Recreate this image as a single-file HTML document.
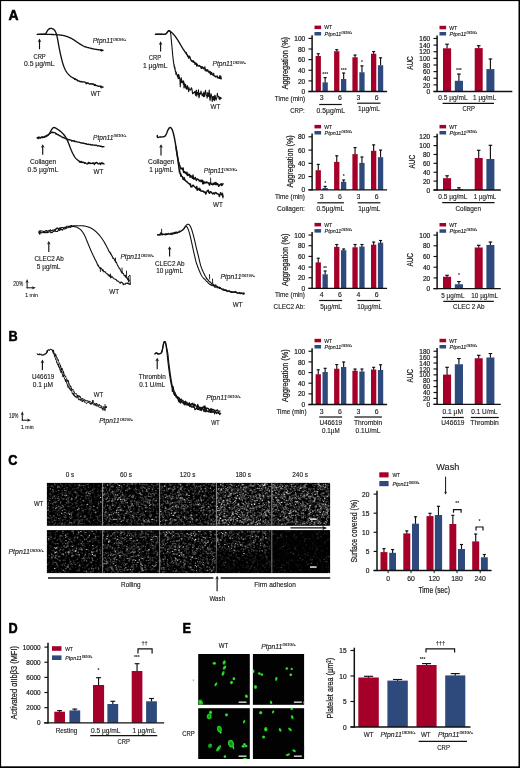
<!DOCTYPE html>
<html><head><meta charset="utf-8"><title>Figure</title>
<style>
html,body{margin:0;padding:0;background:#fff;}
body{width:520px;height:768px;overflow:hidden;font-family:"Liberation Sans",sans-serif;}
svg{display:block;font-family:"Liberation Sans",sans-serif;will-change:transform;}
</style></head><body>
<svg width="520" height="768" viewBox="0 0 520 768">
<rect x="0" y="0" width="520" height="768" fill="#fff"/>
<text transform="translate(8.5 20.4) scale(0.99 1)" font-size="14.1" font-weight="bold" fill="#000" stroke="#000" stroke-width="0.55" stroke-linejoin="round">A</text>
<text transform="translate(8.45 340.7) scale(0.9 1)" font-size="14.1" font-weight="bold" fill="#000" stroke="#000" stroke-width="0.55" stroke-linejoin="round">B</text>
<text transform="translate(8.3 464.6) scale(0.9 1)" font-size="14.1" font-weight="bold" fill="#000" stroke="#000" stroke-width="0.55" stroke-linejoin="round">C</text>
<text transform="translate(8.45 632.9) scale(0.9 1)" font-size="14.1" font-weight="bold" fill="#000" stroke="#000" stroke-width="0.55" stroke-linejoin="round">D</text>
<text transform="translate(182.45 632.9) scale(0.9 1)" font-size="14.1" font-weight="bold" fill="#000" stroke="#000" stroke-width="0.55" stroke-linejoin="round">E</text>
<path d="M37.3 34.3L37.92 34.3L38.54 34.3L39.16 34.31L39.77 34.31L40.39 34.31L41 34.3L41.63 34.3L42.29 34.31L42.94 34.31L43.57 34.3L44.13 34.27L44.6 34.2L45.44 33.84L46 33.2L46.33 32.7L46.64 32.1L46.96 31.47L47.3 30.9L47.77 30.22L48.26 29.6L48.8 29.1L49.43 28.74L50.11 28.51L50.8 28.4L51.47 28.41L52.15 28.54L52.8 28.8L53.43 29.17L54.04 29.67L54.6 30.3L54.91 30.74L55.2 31.22L55.47 31.75L55.74 32.34L56 33L56.18 33.5L56.35 34.01L56.52 34.55L56.69 35.13L56.86 35.75L57.03 36.44L57.2 37.2L57.31 37.73L57.43 38.31L57.55 38.91L57.67 39.55L57.78 40.2L57.9 40.87L58.02 41.55L58.14 42.23L58.26 42.9L58.38 43.56L58.5 44.2L58.62 44.83L58.73 45.45L58.85 46.07L58.96 46.69L59.08 47.31L59.2 47.93L59.31 48.54L59.43 49.16L59.55 49.77L59.67 50.39L59.8 51L59.93 51.61L60.06 52.23L60.19 52.85L60.32 53.46L60.46 54.07L60.59 54.69L60.73 55.3L60.87 55.9L61.01 56.51L61.16 57.11L61.3 57.7L61.46 58.35L61.62 59L61.79 59.65L61.95 60.3L62.12 60.94L62.29 61.58L62.46 62.2L62.64 62.82L62.82 63.42L63 64L63.21 64.64L63.43 65.27L63.66 65.9L63.88 66.51L64.12 67.1L64.34 67.67L64.57 68.21L64.79 68.72L65 69.2L65.36 69.95L65.7 70.6L66.03 71.16L66.36 71.69L66.7 72.2L67.14 72.81L67.58 73.37L68.03 73.89L68.5 74.4L68.97 74.9L69.45 75.39L69.95 75.85L70.5 76.3L70.97 76.64L71.46 76.95L71.97 77.26L72.52 77.57L73.1 77.9L73.62 78.19L74.17 78.53L74.74 79.24L75.33 78.78L75.92 79.76L76.5 79.61L77.08 79.89L77.66 80.94L78.24 80.61L78.83 80.8L79.42 81.33L80 81.69L80.58 81.49L81.17 81.89L81.76 81.51L82.34 81.88L82.92 82L83.5 81.83L84.19 81.94L84.88 82.06L85.57 82.71L86.24 82.88L86.9 82.99L87.53 83.28L88.13 82.95L88.72 83.54L89.34 83.82L90 84.16L90.59 83.75L91.2 84.05L91.83 83.63L92.48 84.31L93.14 83.87L93.8 84.3L94.39 85.34L95.01 84.34L95.63 85.56L96.26 85.56L96.88 85.5L97.46 85.92L98 86.08L98.68 86.43L99.29 86.13L99.86 86.13L100.42 86.25L101 86.25" fill="none" stroke="#111" stroke-width="1.35" stroke-linejoin="round" stroke-linecap="round"/>
<line x1="100" y1="87.1" x2="102.12" y2="87.1" stroke="#111" stroke-width="1.35"/>
<path d="M104.4 87.1 L100.6 85.5 L101.74 87.1 L100.6 88.7 Z" fill="#111"/>
<path d="M85.6 82.7L86.3 84.3L87 82.6" fill="none" stroke="#111" stroke-width="0.9" stroke-linejoin="round" stroke-linecap="round"/>
<path d="M37.3 34.3L37.94 34.3L38.59 34.3L39.24 34.3L39.89 34.29L40.54 34.29L41.19 34.29L41.84 34.29L42.49 34.29L43.12 34.29L43.76 34.29L44.38 34.29L45 34.3L45.67 34.31L46.33 34.32L46.99 34.34L47.64 34.35L48.29 34.37L48.93 34.39L49.56 34.41L50.18 34.43L50.8 34.45L51.4 34.48L52 34.5L52.64 34.52L53.26 34.54L53.87 34.56L54.46 34.58L55.05 34.61L55.63 34.63L56.22 34.66L56.8 34.7L57.4 34.75L58 34.8L58.62 34.86L59.25 34.93L59.89 35L60.53 35.08L61.17 35.16L61.81 35.25L62.44 35.35L63.05 35.46L63.64 35.57L64.2 35.7L64.87 35.87L65.51 36.06L66.13 36.27L66.73 36.48L67.31 36.71L67.88 36.94L68.44 37.17L69 37.4L69.62 37.66L70.21 37.92L70.79 38.18L71.36 38.46L71.93 38.75L72.5 39.06L73.1 39.4L73.63 39.73L74.17 40.08L74.71 40.45L75.26 40.84L75.81 41.23L76.36 41.63L76.93 42.02L77.5 42.4L78.02 42.74L78.56 43.09L79.11 43.45L79.67 43.81L80.22 44.16L80.77 44.5L81.3 44.83L81.81 45.13L82.3 45.4L82.96 45.75L83.55 46.04L84.11 46.29L84.67 46.53L85.29 46.76L86 47L86.54 47.18L87.14 47.36L87.77 47.54L88.43 47.72L89.09 47.89L89.75 48.06L90.38 48.22L90.97 48.37L91.5 48.5L92.34 48.69L93.07 48.85L93.73 48.97L94.36 49.09L95 49.2L95.63 49.31L96.24 49.42L96.82 49.52L97.41 49.61L98 49.7L98.6 49.79L99.2 49.87L99.8 49.94L100.4 50.02L101 50.1" fill="none" stroke="#111" stroke-width="1.35" stroke-linejoin="round" stroke-linecap="round"/>
<line x1="100" y1="50.3" x2="102.12" y2="50.3" stroke="#111" stroke-width="1.35"/>
<path d="M104.4 50.3 L100.6 48.7 L101.74 50.3 L100.6 51.9 Z" fill="#111"/>
<line x1="39.5" y1="49.2" x2="39.5" y2="40.76" stroke="#111" stroke-width="1.15"/>
<path d="M39.5 38.6 L37.6 42.2 L39.5 41.12 L41.4 42.2 Z" fill="#111"/>
<text transform="translate(39.6 58.9) scale(0.883 1)" font-size="6.6" fill="#1a1a1a" text-anchor="middle" stroke="#1a1a1a" stroke-width="0.13">CRP</text>
<text transform="translate(39.2 66.3) scale(1.038 1)" font-size="6.6" fill="#1a1a1a" text-anchor="middle" stroke="#1a1a1a" stroke-width="0.13">0.5 µg/mL</text>
<text transform="translate(92.7 43)" font-size="6.6" font-style="italic" fill="#1a1a1a" stroke="#1a1a1a" stroke-width="0.13">Ptpn11</text>
<text transform="translate(113.22 40.76) scale(1.089 1)" font-size="3.43" font-style="italic" fill="#1a1a1a" stroke="#1a1a1a" stroke-width="0.13">D61G/+</text>
<text transform="translate(95.6 95.6) scale(0.955 1)" font-size="6.6" fill="#1a1a1a" text-anchor="middle" stroke="#1a1a1a" stroke-width="0.13">WT</text>
<path d="M155.4 34.3L155.86 34.31L156.32 34.32L156.78 34.34L157.24 34.35L157.7 34.36L158.16 34.37L158.62 34.38L159.08 34.39L159.54 34.4L160 34.4L160.47 34.4L160.96 34.41L161.47 34.42L161.97 34.42L162.47 34.42L162.96 34.42L163.43 34.41L163.86 34.39L164.25 34.35L164.6 34.3L165.15 34.16L165.54 33.97L165.84 33.74L166.11 33.48L166.4 33.2L166.71 32.87L166.99 32.49L167.26 32.09L167.53 31.71L167.8 31.4L168.28 30.96L168.76 30.62L169.2 30.5L169.58 30.65L169.91 31.02L170.2 31.6L170.31 31.91L170.4 32.25L170.49 32.63L170.57 33.05L170.65 33.51L170.72 34.03L170.8 34.6L170.84 34.96L170.89 35.35L170.93 35.77L170.97 36.2L171.01 36.65L171.05 37.11L171.09 37.59L171.13 38.07L171.17 38.55L171.21 39.04L171.26 39.52L171.3 40L171.34 40.41L171.38 40.82L171.42 41.23L171.46 41.64L171.51 42.06L171.55 42.48L171.59 42.9L171.64 43.33L171.68 43.76L171.73 44.2L171.77 44.64L171.81 45.09L171.86 45.54L171.9 46L171.94 46.41L171.97 46.84L172.01 47.27L172.05 47.71L172.09 48.16L172.12 48.62L172.16 49.07L172.2 49.53L172.24 49.99L172.28 50.44L172.31 50.89L172.35 51.33L172.39 51.77L172.43 52.19L172.46 52.6L172.5 53L172.55 53.47L172.59 53.93L172.64 54.37L172.68 54.8L172.73 55.22L172.77 55.64L172.82 56.05L172.86 56.45L172.91 56.86L172.95 57.26L173 57.67L173.05 58.08L173.1 58.5L173.15 58.93L173.2 59.36L173.25 59.8L173.3 60.23L173.35 60.67L173.4 61.11L173.45 61.55L173.5 61.98L173.56 62.4L173.62 62.82L173.67 63.23L173.74 63.62L173.8 64L173.89 64.47L173.98 64.92L174.07 64.25L174.17 66.11L174.27 67.08L174.37 66.12L174.48 65.78L174.58 67.32L174.69 68.22L174.8 69.19L174.91 67.53L175.03 67.89L175.14 70.13L175.26 70.36L175.38 71.75L175.5 71.68L175.63 71.13L175.75 71.38L175.88 74.34L176 72.14L176.15 72.14L176.31 72.24L176.46 73.75L176.62 74.17L176.78 74.1L176.94 74.72L177.12 75.38L177.3 76.12L177.52 76.9L177.74 76.5L177.97 75.09L178.21 78.63L178.46 74.34L178.72 77.46L179 74.96L179.3 78.56L179.61 77.18L179.94 79.7L180.28 86.82L180.62 79.79L180.96 82.09L181.3 77.69L181.59 80.3L181.89 82.73L182.19 81.42L182.49 82.79L182.79 82.56L183.09 80.48L183.39 84.29L183.7 81.61L184.01 87.87L184.31 83L184.62 85.99L184.92 84.84L185.24 87.29L185.55 84.22L185.87 88.08L186.2 85.93L186.53 89.29L186.87 88.17L187.22 87.4L187.57 85.65L187.92 89.32L188.28 88.92L188.64 91.76L189 87.57L189.34 89.86L189.67 89.99L189.98 89.72L190.3 89.77L190.65 89.93L191.03 88.43L191.48 87.74L192 89.33L192.31 91.63L192.66 93.79L193.02 92.75L193.41 93.05L193.81 92.59L194.23 92.56L194.66 91.56L195.09 93L195.53 95.34L195.96 90.86L196.39 90.19L196.82 96.15L197.23 92.51L197.62 94.22L198 94.12L198.45 89.83L198.89 97.81L199.33 96.48L199.75 93.07L200.17 94.45L200.58 93.17L200.99 91.05L201.39 92.85L201.79 94.01L202.2 95.75L202.6 94.95L203 93.63L203.43 96.6L203.85 92.06L204.26 95.59L204.66 96.4L205.07 93.43L205.47 90.24L205.89 92.3L206.31 94.94L206.75 95.7L207.21 98.07L207.7 92.59L208.07 94.91L208.45 96.43L208.84 94.77L209.24 90.01L209.65 97.11L210.06 100.54L210.48 97.78L210.91 93.67L211.34 94.89L211.77 96.41L212.21 101.51L212.66 97.51L213.1 96.52L213.55 99.81L214 96.32L214.4 100.69L214.81 95.19L215.22 95.76L215.63 98.49L216.05 100.13L216.47 98.54L216.9 97.86L217.33 93.29L217.76 95.83L218.19 96.16L218.62 96.43L219.05 98.99L219.49 97.06L219.92 99.63L220.35 98.18L220.78 97.37L221.2 98.46" fill="none" stroke="#111" stroke-width="1.1" stroke-linejoin="round" stroke-linecap="round"/>
<path d="M155.4 34.3L155.91 34.29L156.42 34.27L156.93 34.26L157.44 34.24L157.96 34.23L158.47 34.22L158.98 34.21L159.49 34.2L160 34.2L160.53 34.21L161.08 34.23L161.64 34.26L162.2 34.29L162.75 34.31L163.27 34.33L163.77 34.34L164.21 34.33L164.6 34.3L165.26 34.16L165.7 33.96L166.04 33.7L166.4 33.4L166.78 33.01L167.12 32.55L167.46 32.09L167.8 31.7L168.26 31.27L168.72 30.93L169.2 30.8L169.69 30.95L170.21 31.31L170.8 31.8L171.14 32.08L171.51 32.4L171.91 32.74L172.31 33.11L172.71 33.5L173.1 33.9L173.43 34.25L173.76 34.61L174.09 34.98L174.41 35.36L174.74 35.76L175.07 36.17L175.4 36.6L175.69 36.99L175.98 37.39L176.26 37.81L176.55 38.23L176.84 38.66L177.12 39.11L177.41 39.55L177.7 40L177.99 40.46L178.28 40.92L178.56 41.39L178.85 41.87L179.14 42.35L179.42 42.83L179.71 43.32L180 43.8L180.26 44.23L180.51 44.67L180.77 45.1L181.02 45.54L181.28 45.98L181.53 46.42L181.79 46.85L182.04 47.28L182.3 47.7L182.59 48.17L182.88 48.63L183.16 49.09L183.45 49.54L183.74 49.99L184.02 50.43L184.31 50.87L184.6 51.3L184.88 51.73L185.16 52.14L185.43 52.56L185.7 52.96L185.98 53.37L186.27 52.55L186.57 54.38L186.9 54.36L187.21 54.57L187.54 56.18L187.87 55.8L188.22 55.89L188.58 58.04L188.94 56.47L189.3 56.2L189.65 56.47L190 57.55L190.38 58.95L190.73 59.48L191.08 60.08L191.44 61.04L191.81 61.28L192.2 60.76L192.63 61.74L193.1 61.59L193.45 60.85L193.82 62.36L194.21 62.05L194.62 62.17L195.04 64.42L195.48 63.73L195.91 63.01L196.34 63.71L196.78 66.13L197.2 64.24L197.61 65.39L198 65.58L198.45 65.8L198.88 66.15L199.3 65.49L199.71 65.75L200.12 66.25L200.53 66.31L200.95 67.55L201.38 68.43L201.83 66.6L202.3 68.12L202.71 67.06L203.13 67.57L203.55 68.22L203.99 68.8L204.43 68.6L204.88 67.02L205.33 70.75L205.79 69.61L206.26 69.6L206.74 71.03L207.21 70.23L207.7 69.82L208.12 71.73L208.54 71.94L208.97 71.14L209.41 72.85L209.85 72.73L210.29 71.72L210.74 74.49L211.19 73.49L211.65 72.57L212.11 74.22L212.57 74.22L213.04 75.23L213.52 73.51L214 75.84L214.43 76L214.86 76.02L215.29 76.18L215.74 77.02L216.18 76.74L216.63 76.46L217.09 75.86L217.54 77.77L218 77.88L218.46 77.52L218.92 77.63L219.38 78.35L219.84 75.79L220.29 78.46L220.75 76.26L221.2 78.85" fill="none" stroke="#111" stroke-width="1.35" stroke-linejoin="round" stroke-linecap="round"/>
<line x1="160.6" y1="51.5" x2="160.6" y2="43.46" stroke="#111" stroke-width="1.15"/>
<path d="M160.6 41.3 L158.7 44.9 L160.6 43.82 L162.5 44.9 Z" fill="#111"/>
<text transform="translate(155 60.3) scale(0.897 1)" font-size="6.6" fill="#1a1a1a" text-anchor="middle" stroke="#1a1a1a" stroke-width="0.13">CRP</text>
<text transform="translate(155.2 67.8) scale(1.026 1)" font-size="6.6" fill="#1a1a1a" text-anchor="middle" stroke="#1a1a1a" stroke-width="0.13">1 µg/mL</text>
<text transform="translate(212.5 66.4)" font-size="6.6" font-style="italic" fill="#1a1a1a" stroke="#1a1a1a" stroke-width="0.13">Ptpn11</text>
<text transform="translate(233.02 64.16) scale(1.089 1)" font-size="3.43" font-style="italic" fill="#1a1a1a" stroke="#1a1a1a" stroke-width="0.13">D61G/+</text>
<text transform="translate(215.5 109.2) scale(0.955 1)" font-size="6.6" fill="#1a1a1a" text-anchor="middle" stroke="#1a1a1a" stroke-width="0.13">WT</text>
<path d="M37.3 137.97L37.97 138.08L38.63 137.28L39.3 137.17L40 137.53L40.58 137.97L41.18 137.48L41.79 136.91L42.4 137.01L43 137.19L43.61 137.47L44.22 137.07L44.84 136.85L45.43 136.75L46 136.67L46.54 136.05L47.06 135.91L47.56 135.48L48.04 135L48.5 134.5L48.86 134.05L49.21 133.56L49.54 133.05L49.87 132.53L50.18 132L50.5 131.5L50.87 130.88L51.23 130.25L51.58 129.63L51.94 129.06L52.3 128.6L52.89 128.01L53.5 127.61L54.2 127.5L54.69 127.6L55.23 127.83L55.79 128.15L56.39 128.52L57 128.9L57.54 129.24L58.1 129.6L58.68 130L59.27 130.42L59.84 130.85L60.4 131.3L60.86 131.69L61.32 132.09L61.77 132.51L62.22 132.93L62.65 133.37L63.08 133.83L63.5 134.3L63.91 134.78L64.31 135.27L64.71 135.77L65.09 136.29L65.47 136.83L65.84 137.4L66.2 138L66.47 138.49L66.73 138.99L66.99 139.51L67.24 140.05L67.49 140.6L67.73 141.17L67.98 141.76L68.24 142.37L68.5 143L68.72 143.55L68.95 144.13L69.17 144.73L69.4 145.35L69.63 145.99L69.87 146.62L70.1 147.26L70.33 147.88L70.55 148.48L70.78 149.06L71 149.6L71.26 150.23L71.52 150.82L71.77 151.4L72.02 151.95L72.28 152.49L72.53 153.01L72.78 153.52L73.04 154.01L73.3 154.5L73.64 155.11L73.99 155.71L74.35 156.28L74.7 156.83L75.07 157.36L75.43 157.85L75.8 158.3L76.32 158.87L76.85 159.37L77.39 159.82L77.94 160.22L78.5 160.62L79.06 161.11L79.61 162.15L80.18 161.51L80.8 162.3L81.5 161.46L82.05 162.64L82.63 162.42L83.24 162.18L83.89 162.59L84.56 163.2L85.27 162.65L86 163.47L86.54 163.79L87.1 163.89L87.69 163.93L88.29 162.4L88.91 163.3L89.53 162.77L90.15 163.66L90.78 163.21L91.39 163.32L92 163.47L92.6 162.92L93.2 163.32L93.8 162.9L94.4 164.43L95 163.09L95.6 163.36L96.2 162.42L96.8 162.59L97.4 162.95L98 163.85L98.6 163.85L99.2 163.6L99.8 163.11L100.4 164.47L101 162.92L101.6 163.02L102.2 163.76L102.8 162.96L103.4 163.65L104 164.04" fill="none" stroke="#111" stroke-width="1.35" stroke-linejoin="round" stroke-linecap="round"/>
<path d="M37.3 137.56L37.91 137.4L38.52 138.58L39.13 137.72L39.74 137.67L40.37 137.76L41 137.44L41.66 137.31L42.35 137.6L43.04 137.17L43.73 137.42L44.39 136.92L45 136.24L45.68 136.12L46.32 135.96L46.92 135.27L47.48 135.54L48 135.14L48.58 134.92L49.08 134.03L49.54 133.67L50 133.42L50.57 133.01L51.1 132.29L51.7 132.62L52.36 132.11L53.09 132.58L54 132.54L54.46 132.7L54.95 132.75L55.48 133.24L56.04 134.06L56.65 133.74L57.3 134.55L58 134.88L58.48 134.78L59 135.39L59.54 135.76L60.11 135.73L60.69 136.02L61.28 136.71L61.88 136.88L62.48 137.58L63.07 137.54L63.64 137.5L64.2 137.99L64.79 138.01L65.36 138.65L65.91 138.85L66.46 138.81L67.01 138.9L67.56 139.46L68.13 139.37L68.72 139.88L69.34 139.6L70 139.94L70.53 140.04L71.09 140.1L71.68 141.04L72.28 140.99L72.89 140.66L73.51 141.12L74.13 140.73L74.75 141.53L75.37 141.65L75.98 141.5L76.57 141.65L77.15 141.92L77.7 142.1L78.38 142.1L79.04 142.16L79.66 142.44L80.28 142.56L80.88 142.96L81.48 142.96L82.09 143.13L82.7 142.87L83.34 143.28L84 143.42L84.57 143.51L85.15 143.71L85.75 143.78L86.35 143.64L86.96 144.27L87.57 144.38L88.18 144.18L88.8 144.53L89.41 144.31L90.01 144.34L90.61 144.66L91.2 145.13L91.84 144.88L92.47 144.68L93.11 145.15L93.74 145.07L94.36 145.13L94.99 145.45L95.6 145.09L96.21 145.17L96.82 145.33L97.41 145.95L98 145.83L98.63 145.77L99.25 145.85L99.86 146.22L100.46 146.44L101.05 146.11L101.64 146.41L102.23 146.94L102.81 146.66L103.4 146.55L104 146.78" fill="none" stroke="#111" stroke-width="1.35" stroke-linejoin="round" stroke-linecap="round"/>
<line x1="42.7" y1="154.8" x2="42.7" y2="146.36" stroke="#111" stroke-width="1.15"/>
<path d="M42.7 144.2 L40.8 147.8 L42.7 146.72 L44.6 147.8 Z" fill="#111"/>
<text transform="translate(43 164) scale(1.006 1)" font-size="6.6" fill="#1a1a1a" text-anchor="middle" stroke="#1a1a1a" stroke-width="0.13">Collagen</text>
<text transform="translate(42.9 172.1) scale(1.038 1)" font-size="6.6" fill="#1a1a1a" text-anchor="middle" stroke="#1a1a1a" stroke-width="0.13">0.5 µg/mL</text>
<text transform="translate(93 139.7)" font-size="6.6" font-style="italic" fill="#1a1a1a" stroke="#1a1a1a" stroke-width="0.13">Ptpn11</text>
<text transform="translate(113.52 137.46) scale(1.089 1)" font-size="3.43" font-style="italic" fill="#1a1a1a" stroke="#1a1a1a" stroke-width="0.13">D61G/+</text>
<text transform="translate(98.5 174.2) scale(0.955 1)" font-size="6.6" fill="#1a1a1a" text-anchor="middle" stroke="#1a1a1a" stroke-width="0.13">WT</text>
<path d="M157.3 135.5L157.32 136.22L157.34 136.94L157.6 137.4L158.01 137.46L158.54 137.35L159.21 137.16L160 137L160.55 136.95L161.18 136.92L161.88 136.9L162.58 136.86L163.27 136.79L163.89 136.68L164.4 136.5L164.94 136.15L165.35 135.72L165.67 135.2L165.97 134.63L166.3 134L166.55 133.49L166.8 132.92L167.04 132.31L167.27 131.69L167.51 131.08L167.75 130.51L168 130L168.35 129.35L168.71 128.72L169.08 128.17L169.44 127.75L169.8 127.5L170.41 127.51L171.03 127.93L171.6 128.6L171.86 129.03L172.11 129.54L172.35 130.12L172.58 130.74L172.79 131.37L173 132L173.19 132.62L173.36 133.25L173.53 133.9L173.68 134.57L173.84 135.27L174 136L174.12 136.57L174.25 137.16L174.38 137.76L174.5 138.38L174.62 139.01L174.75 139.66L174.88 140.32L175 141L175.1 141.56L175.2 142.13L175.3 142.71L175.4 143.3L175.5 143.91L175.6 144.52L175.7 145.13L175.8 145.75L175.9 146.38L176 147L176.1 147.63L176.2 148.28L176.3 148.94L176.4 149.61L176.5 150.28L176.6 150.95L176.7 151.61L176.8 152.26L176.9 152.89L177 153.5L177.11 154.16L177.23 154.82L177.34 155.46L177.46 156.1L177.57 156.71L177.68 157.31L177.79 157.9L177.9 158.46L178 159L178.13 159.74L178.23 160.41L178.32 161.04L178.44 161.66L178.59 162.72L178.8 163.03L179 162.56L179.22 164.97L179.46 165.04L179.72 165.72L180.01 166.19L180.32 168.06L180.65 168.07L181 168.92L181.38 168.1L181.78 168.48L182.21 168.49L182.66 169.69L183.13 167.97L183.61 172.36L184.1 171.49L184.6 171.9L185.05 172.99L185.51 172.25L185.98 173.18L186.46 174.02L186.95 172.24L187.44 175.57L187.95 174.47L188.47 175.24L189 174.08L189.54 174.79L190.09 177.22L190.65 175.53L191.22 175.97L191.8 177.09L192.39 178.28L192.99 175.09L193.59 178.95L194.2 178.16L194.75 179.01L195.29 177.55L195.84 179.03L196.39 180.5L196.94 179.21L197.51 179L198.1 179.44L198.71 179.62L199.34 181.09L200 180.8L200.53 180.37L201.08 181.74L201.66 180.23L202.24 180.12L202.84 183.87L203.45 181.25L204.06 183.5L204.68 182.13L205.3 182.19L205.91 183.04L206.52 181.95L207.12 182.11L207.7 182.83L208.32 182.8L208.93 183.93L209.54 185.16L210.14 182.41L210.73 182.77L211.33 184.33L211.93 184.18L212.53 184.8L213.14 183.17L213.75 184.45L214.37 183.91L215 182.53L215.59 184.48L216.19 182.69L216.8 184.64L217.41 183.77L218.03 184.04L218.65 186.2L219.27 185.66L219.89 184.68L220.52 184.68L221.14 183.63L221.76 185.5L222.38 184.96L223 183.63" fill="none" stroke="#111" stroke-width="1.45" stroke-linejoin="round" stroke-linecap="round"/>
<path d="M176 147L176.09 147.64L176.18 148.28L176.27 148.92L176.36 149.57L176.45 150.21L176.55 150.85L176.64 151.49L176.73 152.13L176.82 152.76L176.91 153.38L177 154L177.1 154.66L177.2 155.29L177.29 155.91L177.39 156.52L177.49 157.12L177.59 157.74L177.69 158.38L177.79 159.05L177.89 159.75L178 160.5L178.07 161.03L178.15 161.6L178.22 162.2L178.29 162.81L178.36 163.44L178.44 164.09L178.51 164.74L178.59 165.39L178.67 166.03L178.75 166.67L178.83 167.29L178.92 167.88L179.01 168.98L179.1 169.27L179.2 168.9L179.37 172L179.54 169.64L179.72 171.69L179.9 173.11L180.1 173.47L180.3 174.01L180.52 173.11L180.75 176.14L181 174.4L181.34 175.59L181.72 176.2L182.11 176.71L182.52 176.74L182.94 179.03L183.37 178.2L183.8 179.49L184.24 177.73L184.69 180.11L185.15 179.87L185.62 180.87L186.09 181.15L186.55 181.79L187 181.74L187.47 182.35L187.9 182.81L188.31 183.29L188.77 183.54L189.32 183.6L190 184.8L190.4 183.96L190.85 186.79L191.33 186.06L191.83 186.96L192.36 185.86L192.91 185.18L193.46 185.32L194.02 186.28L194.58 186.75L195.14 187.28L195.68 187.6L196.2 188.76L196.76 186.47L197.33 190.29L197.91 188.84L198.48 189.58L199.06 188.19L199.63 190.24L200.19 189.04L200.74 190.99L201.28 191.04L201.8 191.17L202.3 191.06L202.96 191.2L203.58 191.33L204.17 192.53L204.75 191.92L205.31 192.15L205.87 194.11L206.43 192.19L207 191.41L207.64 190.37L208.27 190.3L208.89 192.61L209.51 193.35L210.15 191.78L210.81 191.78L211.5 192.74L212.06 193.13L212.65 193.94L213.24 193.15L213.85 192.81L214.47 194.09L215.09 192.8L215.72 192.5L216.36 192.92L217 193.72L217.58 193.74L218.17 194.21L218.76 194.35L219.36 196.47L219.97 194.86L220.58 192.74L221.18 193.47L221.79 194.94L222.4 194.17L223 196.88" fill="none" stroke="#111" stroke-width="1.45" stroke-linejoin="round" stroke-linecap="round"/>
<path d="M210.6 178L210.7 183M222.6 193L222.9 198" fill="none" stroke="#111" stroke-width="0.9" stroke-linejoin="round" stroke-linecap="round"/>
<line x1="161" y1="155.4" x2="161" y2="146.36" stroke="#111" stroke-width="1.15"/>
<path d="M161 144.2 L159.1 147.8 L161 146.72 L162.9 147.8 Z" fill="#111"/>
<text transform="translate(161.2 164) scale(1.006 1)" font-size="6.6" fill="#1a1a1a" text-anchor="middle" stroke="#1a1a1a" stroke-width="0.13">Collagen</text>
<text transform="translate(161.2 172.3)" font-size="6.6" fill="#1a1a1a" text-anchor="middle" stroke="#1a1a1a" stroke-width="0.13">1 µg/mL</text>
<text transform="translate(203.8 173)" font-size="6.6" font-style="italic" fill="#1a1a1a" stroke="#1a1a1a" stroke-width="0.13">Ptpn11</text>
<text transform="translate(224.32 170.76) scale(1.089 1)" font-size="3.43" font-style="italic" fill="#1a1a1a" stroke="#1a1a1a" stroke-width="0.13">D61G/+</text>
<text transform="translate(218 206.9) scale(0.955 1)" font-size="6.6" fill="#1a1a1a" text-anchor="middle" stroke="#1a1a1a" stroke-width="0.13">WT</text>
<path d="M39.2 231.23L39.03 232.73L39.4 233.76L39.82 234.2L40.38 232.54L41.04 232.78L41.77 232.56L42.53 232.75L43.28 232.72L44 232.05L44.6 232.78L45.21 231.86L45.82 232.82L46.44 232.02L47.06 232.58L47.7 232.59L48.34 232.23L49 231.9L49.6 231.73L50.21 231.46L50.83 232.76L51.46 232.17L52.09 232.73L52.73 231.85L53.36 231.72L53.98 231.13L54.6 231.18L55.21 230.37L55.82 231.57L56.43 231.43L57.04 231.55L57.64 231.4L58.24 229.95L58.83 229.02L59.42 230.57L60 230.14L60.64 229.32L61.26 229.15L61.87 229.85L62.48 230.17L63.08 229.25L63.7 228.46L64.34 229.05L65 228.99L65.56 227.62L66.14 228.46L66.75 227.38L67.36 227.71L67.98 227.78L68.59 227.38L69.19 226.4L69.76 227.24L70.3 226.17L70.8 227.17L71.54 225.67L72.21 226.58L72.81 226.53L73.38 226.52L73.94 226.54L74.5 226.6L75.17 226.71L75.8 226.87L76.42 227.08L77.04 227.36L77.7 227.7L78.2 227.98L78.71 228.29L79.23 228.62L79.76 229L80.28 229.41L80.8 229.88L81.3 230.4L81.68 230.84L82.05 231.3L82.42 231.78L82.78 232.29L83.14 232.84L83.5 233.42L83.87 234.04L84.23 234.7L84.6 235.4L84.84 235.88L85.08 236.39L85.32 236.93L85.56 237.48L85.8 238.05L86.04 238.64L86.29 239.24L86.53 239.84L86.77 240.46L87.02 241.07L87.26 241.69L87.51 242.3L87.75 242.9L88 243.5L88.23 244.05L88.46 244.61L88.69 245.18L88.93 245.75L89.16 246.32L89.39 246.89L89.63 247.46L89.86 248.04L90.1 248.6L90.33 249.17L90.56 249.73L90.8 250.29L91.03 250.83L91.27 251.37L91.5 251.9L91.77 252.5L92.04 253.09L92.31 253.67L92.58 254.25L92.85 254.82L93.12 255.38L93.38 255.94L93.65 256.49L93.92 257.04L94.19 257.59L94.46 258.13L94.73 258.66L95 259.2L95.29 259.78L95.57 260.36L95.85 260.94L96.13 261.29L96.41 261.87L96.69 262.33L96.97 263.32L97.26 263.89L97.55 265.16L97.86 265.03L98.17 265.84L98.5 265.27L98.91 266.87L99.33 267.31L99.77 268.07L100.22 268.59L100.67 267.97L101.14 268.23L101.6 268.94L102.07 269.45L102.54 270.84L103 269.66L103.51 271.08L104.02 271.96L104.53 271.82L105.04 271.61L105.56 272.25L106.08 273.31L106.61 273.78L107.15 273.73L107.7 274.36L108.2 275.23L108.72 274.76L109.24 276.23L109.77 275.18L110.3 276.92L110.84 275.69L111.38 277.38L111.92 277.1L112.46 276.72L113 277.86L113.55 278.42L114.12 278.8L114.7 278.94L115.28 279.17L115.86 279.47L116.43 280.01L116.99 280.88L117.52 280.85L118.03 281.26L118.5 281.29L119.21 282.27L119.85 283.09L120.43 283.29L120.97 281.93L121.49 282.34L122 282.5L122.71 283.21L123.34 284.67L123.95 283.85L124.6 284.25L125.31 284.09L126.04 283.13L126.78 283.3L127.5 283.45L128.21 283.47L128.91 283.87L129.6 284L130.3 284.29" fill="none" stroke="#111" stroke-width="1.1" stroke-linejoin="round" stroke-linecap="round"/>
<path d="M39.4 233.13L39.15 232.46L38.9 231.83L39.2 231.75L39.56 231.23L40.04 230.47L40.62 231.35L41.28 231.03L41.97 231.05L42.67 231.2L43.36 231.25L44 231.68L44.61 231.39L45.22 231.08L45.83 230.61L46.45 230.44L47.07 231.02L47.7 231.5L48.34 230.8L49 230.65L49.6 230.88L50.21 229.8L50.83 230.27L51.46 230.56L52.09 230.64L52.73 229.96L53.36 230.15L53.98 229.96L54.6 230.09L55.21 229L55.82 229.7L56.43 228.5L57.04 227.79L57.64 228.63L58.24 228.32L58.83 229.05L59.42 228.79L60 227.69L60.64 228.55L61.26 227.46L61.87 227.74L62.48 227.47L63.08 227.51L63.7 227.7L64.34 227.46L65 227.17L65.61 227.2L66.25 227L66.9 226.33L67.56 226.18L68.22 226.2L68.88 226.59L69.54 226.13L70.18 227.34L70.8 225.69L71.47 225.48L72.12 225.98L72.75 225.93L73.37 225.89L74 225.86L74.64 225.84L75.3 225.82L76 225.8L76.59 225.78L77.22 225.77L77.86 225.75L78.52 225.74L79.18 225.73L79.84 225.73L80.49 225.73L81.12 225.74L81.73 225.77L82.3 225.8L83.06 225.86L83.77 225.94L84.44 226.03L85.08 226.15L85.72 226.28L86.35 226.43L87 226.6L87.57 226.77L88.14 226.94L88.7 227.14L89.26 227.34L89.82 227.57L90.38 227.82L90.94 228.1L91.5 228.4L92 228.69L92.49 228.99L92.99 229.31L93.48 229.65L93.98 230.01L94.48 230.4L94.98 230.8L95.49 231.24L96 231.7L96.43 232.11L96.87 232.54L97.32 232.99L97.77 233.47L98.22 233.96L98.68 234.46L99.12 234.97L99.56 235.48L99.99 235.99L100.4 236.5L100.8 237L101.18 237.5L101.55 238L101.9 238.5L102.25 239L102.58 239.51L102.91 240.02L103.24 240.53L103.56 241.04L103.87 241.56L104.19 242.08L104.5 242.6L104.81 243.13L105.11 243.66L105.41 244.19L105.7 244.73L105.98 245.27L106.27 245.81L106.55 246.35L106.83 246.89L107.12 247.43L107.41 247.97L107.7 248.5L108 249.03L108.29 249.91L108.58 250.73L108.88 250.85L109.18 251.52L109.47 252.32L109.77 252.16L110.08 252.09L110.38 253.01L110.69 254.21L111 253.65L111.32 254.84L111.64 255.46L111.97 255.72L112.3 256.7L112.63 257.15L112.96 258.45L113.29 258.2L113.62 258.17L113.95 258.71L114.28 259.1L114.6 260.43L114.92 260.27L115.23 261.02L115.54 261.91L115.85 261.78L116.15 262.5L116.46 262.34L116.76 263.21L117.07 263.97L117.38 264.94L117.69 265.81L118 265.79L118.32 266.45L118.64 266.94L118.96 267.9L119.29 268.36L119.61 268.63L119.94 268.59L120.26 269.98L120.58 270.26L120.89 271.13L121.2 271.04L121.5 272.38L121.9 271.91L122.29 273.31L122.67 273.14L123.04 273.32L123.41 273.49L123.78 274.37L124.14 275.51L124.5 275.67L124.92 276.11L125.35 275.22L125.77 277.1L126.19 277.49L126.59 277.44L126.96 277.83L127.3 278.5L127.8 279.86L128.22 279.1L128.6 279.84L129 281.11" fill="none" stroke="#111" stroke-width="1.1" stroke-linejoin="round" stroke-linecap="round"/>
<path d="M115.5 258L115.6 262M122 268L122.2 273M126.5 271L126.6 278M129 280.5L128 277L130 275L130.3 284.2L127.5 283.5L129 280.5" fill="none" stroke="#111" stroke-width="0.9" stroke-linejoin="round" stroke-linecap="round"/>
<path d="M100.3 267.5L100.4 271.5M110.5 274L110.6 278" fill="none" stroke="#111" stroke-width="0.9" stroke-linejoin="round" stroke-linecap="round"/>
<line x1="48.8" y1="252" x2="48.8" y2="243.16" stroke="#111" stroke-width="1.15"/>
<path d="M48.8 241 L46.9 244.6 L48.8 243.52 L50.7 244.6 Z" fill="#111"/>
<text transform="translate(49.1 260.5) scale(0.951 1)" font-size="6.6" fill="#1a1a1a" text-anchor="middle" stroke="#1a1a1a" stroke-width="0.13">CLEC2 Ab</text>
<text transform="translate(48.6 268.5) scale(0.984 1)" font-size="6.6" fill="#1a1a1a" text-anchor="middle" stroke="#1a1a1a" stroke-width="0.13">5 µg/mL</text>
<text transform="translate(120.4 259.2)" font-size="6.6" font-style="italic" fill="#1a1a1a" stroke="#1a1a1a" stroke-width="0.13">Ptpn11</text>
<text transform="translate(140.92 256.96) scale(1.089 1)" font-size="3.43" font-style="italic" fill="#1a1a1a" stroke="#1a1a1a" stroke-width="0.13">D61G/+</text>
<text transform="translate(114.2 293.5) scale(0.955 1)" font-size="6.6" fill="#1a1a1a" text-anchor="middle" stroke="#1a1a1a" stroke-width="0.13">WT</text>
<text transform="translate(13.2 285.9) scale(0.721 1)" font-size="7" fill="#1a1a1a" stroke="#1a1a1a" stroke-width="0.13">20%</text>
<line x1="27.1" y1="288.3" x2="27.1" y2="281.4" stroke="#111" stroke-width="1"/>
<path d="M27.1 279 L25.5 283 L27.1 281.8 L28.7 283 Z" fill="#111"/>
<line x1="26.6" y1="287.8" x2="33.4" y2="287.8" stroke="#111" stroke-width="1"/>
<path d="M35.8 287.8 L31.8 286.2 L33 287.8 L31.8 289.4 Z" fill="#111"/>
<text transform="translate(25.2 297.1) scale(0.872 1)" font-size="6" fill="#1a1a1a" stroke="#1a1a1a" stroke-width="0.13">1 min</text>
<path d="M157.6 234.62L158.23 234.94L158.89 234.75L159.5 234.84L160 234.06L160.44 233.95L160.72 233.15L161 232.32L161.22 233.56L161.44 233.59L162 233.76L162.48 234.23L163.07 234.1L163.75 234.21L164.48 234.75L165.24 234.26L166 234.98L166.57 234.07L167.14 234.41L167.73 234.1L168.33 233.25L168.96 234L169.61 234.05L170.29 234.21L171 233.13L171.56 234.03L172.16 234.01L172.8 233L173.45 233.42L174.12 233.7L174.79 232.23L175.44 233.1L176.07 231.82L176.67 232.71L177.21 233.17L177.7 232.24L178.59 232.38L179.3 231.12L179.9 231.31L180.45 231.23L181 230.9L181.55 230.54L182.07 230.15L182.55 229.74L183.03 229.29L183.5 228.8L183.9 228.34L184.29 227.81L184.67 227.27L185.05 226.73L185.42 226.23L185.8 225.8L186.36 225.22L186.91 224.7L187.45 224.33L188 224.2L188.55 224.33L189.11 224.68L189.66 225.23L190.2 226L190.43 226.42L190.66 226.89L190.88 227.4L191.1 227.96L191.32 228.56L191.54 229.19L191.76 229.84L191.98 230.51L192.2 231.2L192.37 231.73L192.53 232.28L192.7 232.84L192.87 233.42L193.03 234.02L193.2 234.62L193.37 235.25L193.53 235.88L193.7 236.52L193.87 237.17L194.03 237.83L194.2 238.5L194.33 239.04L194.46 239.59L194.6 240.16L194.73 240.73L194.86 241.3L194.99 241.89L195.12 242.48L195.25 243.07L195.38 243.67L195.51 244.27L195.65 244.88L195.78 245.48L195.92 246.09L196.06 246.7L196.2 247.3L196.34 247.91L196.49 248.52L196.64 249.13L196.79 249.75L196.94 250.37L197.1 250.99L197.25 251.61L197.41 252.24L197.57 252.86L197.72 253.49L197.88 254.11L198.04 254.74L198.19 255.36L198.35 255.98L198.5 256.6L198.65 257.22L198.8 257.84L198.95 258.47L199.09 259.1L199.23 259.73L199.38 260.35L199.52 260.98L199.67 261.61L199.82 262.23L199.97 262.84L200.12 263.45L200.28 264.05L200.45 264.64L200.62 265.23L200.8 265.8L201 266.4L201.21 267L201.42 267.6L201.63 268.18L201.86 268.76L202.08 269.34L202.31 269.9L202.55 270.46L202.78 271L203.02 271.54L203.26 272.07L203.51 272.59L203.75 273.1L204 273.6L204.31 274.22L204.62 274.82L204.93 275.4L205.24 275.97L205.56 276.52L205.88 277.06L206.22 277.47L206.56 278.5L206.92 278.58L207.3 279.48L207.7 279.64L208.12 279.88L208.55 280.67L209.01 281.18L209.47 281.42L209.95 282.26L210.44 282.07L210.94 282.88L211.45 283.44L211.96 283.38L212.48 283.98L213 284.34L213.53 284.16L214.08 285.67L214.64 285.28L215.21 285.95L215.78 284.84L216.36 286.77L216.94 286.4L217.51 286.48L218.08 287.07L218.65 287.75L219.2 286.97L219.8 288.3L220.39 287.64L220.97 288.82L221.55 288.75L222.12 289.3L222.7 289.36L223.27 288.92L223.85 289.29L224.42 289.86L225 289.71L225.58 290.03L226.15 289.82L226.73 290.69L227.3 291.58L227.88 291.18L228.45 291.11L229.03 290.68L229.61 291.2L230.2 291.89L230.8 291.55L231.4 291.96L232 291.69L232.6 291.82L233.2 292.16L233.81 292.03L234.43 292.1L235.05 292.53L235.69 292.43L236.34 291.84L237 293L237.56 293.39L238.14 292.98L238.73 292.76L239.33 292.56L239.93 292.74L240.54 293.04L241.15 293.51L241.76 293.21L242.38 293.19L242.99 292.89L243.6 293.39L244.2 293.1" fill="none" stroke="#111" stroke-width="1.1" stroke-linejoin="round" stroke-linecap="round"/>
<path d="M157.6 235.03L158.23 234.84L158.87 234.76L159.51 234.34L160.14 235.14L160.77 234.57L161.39 234.87L162 234.49L162.68 234.91L163.33 234.36L163.96 234.38L164.61 234.43L165.28 233.91L166 233.82L166.57 233.83L167.14 233.92L167.73 234.13L168.33 234.05L168.96 234.01L169.61 234.3L170.29 234.04L171 233.49L171.56 234.36L172.16 233.06L172.8 234.38L173.45 232.9L174.12 232.82L174.79 232.93L175.44 233.43L176.07 232.57L176.67 233.07L177.21 233.01L177.7 232.25L178.59 232.2L179.3 232.21L179.9 231.9L180.45 231.5L181 231.2L181.55 230.87L182.07 230.53L182.55 230.15L183.03 229.75L183.5 229.3L183.9 228.84L184.31 228.3L184.71 227.72L185.1 227.19L185.47 226.76L185.8 226.5L186.58 226.47L187.3 227.4L187.52 227.81L187.75 228.3L187.99 228.87L188.24 229.49L188.48 230.15L188.73 230.85L188.97 231.57L189.2 232.3L189.36 232.84L189.52 233.39L189.68 233.95L189.83 234.54L189.98 235.13L190.13 235.74L190.28 236.37L190.43 237.01L190.59 237.66L190.74 238.32L190.9 239L191.03 239.55L191.15 240.11L191.28 240.68L191.41 241.27L191.54 241.87L191.67 242.48L191.8 243.09L191.93 243.7L192.06 244.31L192.19 244.93L192.32 245.53L192.45 246.13L192.57 246.72L192.7 247.3L192.83 247.91L192.97 248.52L193.1 249.13L193.23 249.73L193.36 250.32L193.49 250.92L193.61 251.51L193.74 252.09L193.87 252.68L194 253.26L194.13 253.84L194.27 254.42L194.4 255L194.54 255.62L194.68 256.24L194.82 256.84L194.96 257.45L195.09 258.05L195.23 258.65L195.37 259.25L195.52 259.85L195.68 260.46L195.84 261.06L196.01 261.68L196.2 262.3L196.38 262.88L196.57 263.48L196.77 264.08L196.98 264.69L197.19 265.3L197.41 265.91L197.64 266.52L197.86 267.13L198.09 267.73L198.32 268.32L198.55 268.89L198.78 269.46L199 270L199.26 270.63L199.52 271.24L199.78 271.84L200.03 272.43L200.29 273.01L200.56 273.57L200.83 274.13L201.1 274.67L201.39 275.19L201.69 275.7L202 276.2L202.36 276.73L202.74 277.24L203.13 277.74L203.53 278.21L203.94 278.68L204.35 278.92L204.77 278.95L205.18 279.78L205.6 280.09L206 280.83L206.49 281.29L206.95 281.51L207.41 281.83L207.88 282.41L208.35 283.08L208.86 283.58L209.4 283.97L210 284.53L210.47 284.82L210.97 284.6L211.49 285.44L212.03 284.89L212.59 285.73L213.16 285.77L213.73 285.43L214.31 286.81L214.88 287.25L215.45 287.16L216 286.48L216.59 286.42L217.16 287.74L217.71 287.82L218.27 287.7L218.82 287.9L219.4 287.75L219.99 288.62L220.62 288.08L221.29 288.55L222 289.21L222.51 289.93L223.05 289.88L223.62 290.17L224.21 290.47L224.82 290.49L225.44 290.22L226.07 290.7L226.7 290.85L227.33 290.79L227.96 291.15L228.57 291.31L229.16 291.02L229.74 291.13L230.28 291.78L230.8 292.13L231.52 292.35L232.19 292.56L232.82 292.33L233.42 292.31L234 292.09L234.57 291.88L235.15 291.29L235.74 292.26L236.35 292.63L237 292.49L237.56 293.25L238.14 293.21L238.73 293.07L239.33 292.84L239.93 293.58L240.54 293.62L241.15 292.78L241.76 293.5L242.38 293.87L242.99 293.28L243.6 294.34L244.2 293.74" fill="none" stroke="#111" stroke-width="1.1" stroke-linejoin="round" stroke-linecap="round"/>
<path d="M209.5 274.5L209.6 279M212.5 279L212.6 283M161.6 229.2L161.7 234.4" fill="none" stroke="#111" stroke-width="0.9" stroke-linejoin="round" stroke-linecap="round"/>
<line x1="169.6" y1="256.5" x2="169.6" y2="248.36" stroke="#111" stroke-width="1.15"/>
<path d="M169.6 246.2 L167.7 249.8 L169.6 248.72 L171.5 249.8 Z" fill="#111"/>
<text transform="translate(169.8 265.8) scale(0.960 1)" font-size="6.6" fill="#1a1a1a" text-anchor="middle" stroke="#1a1a1a" stroke-width="0.13">CLEC2 Ab</text>
<text transform="translate(169.6 273.2) scale(0.969 1)" font-size="6.6" fill="#1a1a1a" text-anchor="middle" stroke="#1a1a1a" stroke-width="0.13">10 µg/mL</text>
<text transform="translate(220.4 279) scale(1.030 1)" font-size="6.6" font-style="italic" fill="#1a1a1a" stroke="#1a1a1a" stroke-width="0.13">Ptpn11</text>
<text transform="translate(241.59 276.76) scale(1.125 1)" font-size="3.43" font-style="italic" fill="#1a1a1a" stroke="#1a1a1a" stroke-width="0.13">D61G/+</text>
<text transform="translate(237.6 306.9) scale(0.955 1)" font-size="6.6" fill="#1a1a1a" text-anchor="middle" stroke="#1a1a1a" stroke-width="0.13">WT</text>
<path d="M37.3 353.79L37.82 354.37L38.34 354.53L38.85 354.13L39.37 354.25L39.89 355.11L40.43 354.21L41 354.63L41.54 354.3L42.13 354.8L42.74 354.87L43.36 355.07L43.96 355.02L44.52 354.11L45 354.17L45.4 354.03L45.9 353.78L46.15 353.66L46.3 353.05L46.5 352.27L46.73 351.87L46.97 352.75L47.21 350.56L47.45 351.66L47.7 349.9L48.33 349.74L49 350.03L49.47 349.82L49.97 349.68L50.5 349.3L51.09 349.35L51.71 349.68L52.3 350.26L52.56 350.35L52.8 350.99L53.04 351.13L53.27 353.3L53.52 349.92L53.8 352.66L53.94 353.57L54.07 353.66L54.21 354.53L54.36 355.01L54.5 356.38L54.65 355.67L54.8 356.23L54.96 356.08L55.12 357.53L55.28 357.67L55.45 358.82L55.62 358.8L55.8 359.83L55.98 359.65L56.17 359.53L56.37 360.53L56.57 360.99L56.77 362.82L56.98 362.37L57.19 363.29L57.41 364.3L57.62 364.44L57.84 364.29L58.06 365.18L58.28 363.63L58.5 366.54L58.72 365.77L58.94 365.42L59.16 367.94L59.38 367.56L59.61 366.98L59.84 369.33L60.06 370.32L60.3 369.77L60.53 369.7L60.77 371.19L61.01 372.76L61.25 371.04L61.5 371.96L61.71 372.11L61.91 373.22L62.13 373.61L62.34 374.44L62.56 374.14L62.78 375.23L63 377.02L63.22 374.69L63.44 376.07L63.67 376.64L63.89 376.91L64.11 377.49L64.34 377.93L64.56 378.99L64.78 378.83L65 379.61L65.22 379.95L65.44 381.09L65.66 379.18L65.88 381.84L66.09 380.69L66.31 381.72L66.53 382.7L66.75 382.35L66.97 384.03L67.19 384.35L67.41 385.33L67.62 385.85L67.84 384.58L68.06 387.55L68.28 386.53L68.5 387.2L68.79 386.63L69.08 386.97L69.38 389L69.67 389.03L69.96 387.85L70.26 390.21L70.55 390.44L70.84 388.97L71.13 389.15L71.42 390.98L71.71 391.16L72 392.32L72.34 393.62L72.67 394.27L72.99 392.88L73.31 393.04L73.63 395.46L73.96 394.57L74.29 394.65L74.64 396.62L75.01 396.29L75.4 395.97L75.77 397.3L76.16 396.56L76.57 397.88L76.98 398.09L77.41 397.94L77.84 397.15L78.28 398.18L78.71 399.98L79.15 399.85L79.58 399.86L80 398.69L80.46 400.5L80.92 399.27L81.39 400.12L81.85 400.79L82.31 402.02L82.77 400.18L83.23 401.19L83.69 400.07L84.15 400.66L84.6 402.35L85.1 402.27L85.58 402.78L86.07 403.3L86.55 403.8L87.03 402.95L87.51 401.79L88 402.5L88.49 402.4L89 403.05L89.46 402.89L89.93 403.66L90.4 403L90.87 404.66L91.35 403.43L91.83 403.68L92.32 403.24L92.81 403.52L93.3 404.63L93.8 404.74L94.25 404.48L94.71 405.13L95.17 405.76L95.63 404.53L96.09 404.65L96.56 406.25L97.03 405.5L97.51 406.19L98 406.65L98.5 406.47L99 407.45L99.47 407.12L99.95 407.64L100.44 407.94L100.94 406.92L101.44 407.17L101.95 408.59L102.46 407.94L102.97 410.34L103.48 407.62L103.99 407.25L104.5 408.38L105 410.66" fill="none" stroke="#111" stroke-width="1" stroke-linejoin="round" stroke-linecap="round"/>
<path d="M37.3 354.52L37.82 354.24L38.34 354.69L38.85 354.41L39.37 353.68L39.89 354.75L40.43 354.29L41 354.98L41.54 355.14L42.13 355.47L42.74 354.84L43.36 354.55L43.96 354.87L44.52 354.8L45 353.72L45.4 354.22L45.9 353.69L46.15 354.01L46.3 353.24L46.5 352.83L46.73 352.6L46.97 351.9L47.21 350.65L47.45 350.51L47.7 350.71L48.33 350.07L49 349.95L49.47 350.37L49.97 350.07L50.5 349.49L51.09 349.42L51.71 349.97L52.3 349.78L52.54 349.92L52.75 350.94L52.94 351.69L53.16 350.74L53.44 351.83L53.8 353.6L54.01 353.4L54.24 354.33L54.49 354.56L54.76 356.5L55.04 353.59L55.33 355.81L55.62 355.19L55.92 354.71L56.22 356.05L56.51 356.76L56.79 358.34L57.05 357.97L57.3 357.89L57.53 358.32L57.76 359.67L57.97 360.45L58.18 359.65L58.38 361.13L58.58 361.59L58.78 361.76L58.98 362.2L59.17 362.74L59.37 363.02L59.58 363.29L59.78 364.37L60 364.76L60.22 365.13L60.44 364.98L60.66 367.07L60.88 366.76L61.11 369.85L61.34 369.95L61.56 368.22L61.8 370.54L62.03 368.5L62.27 368.4L62.51 369.62L62.75 370.54L63 371.46L63.21 373.33L63.41 371.35L63.63 372.57L63.84 373.83L64.06 373.63L64.28 375.23L64.5 375.15L64.72 376.17L64.94 376.15L65.17 376.01L65.39 376.48L65.61 375.85L65.84 377.35L66.06 377.84L66.28 378.01L66.5 378.31L66.72 378.84L66.94 380.58L67.16 379.9L67.38 380.65L67.59 381.27L67.81 380.16L68.03 381.57L68.25 382.08L68.47 380.73L68.69 383.43L68.91 383.07L69.12 384.08L69.34 385.24L69.56 384.7L69.78 384.93L70 385.73L70.29 387.1L70.58 385.9L70.88 386.39L71.17 387.61L71.46 387.77L71.76 389.45L72.05 388.98L72.34 389.56L72.63 389.68L72.92 389.1L73.21 391.23L73.5 391.28L73.84 391.49L74.17 391.39L74.49 393.31L74.81 393.9L75.13 394.08L75.46 393.64L75.79 393.26L76.14 393.92L76.51 393.83L76.9 394.83L77.27 396.89L77.66 395.02L78.07 397.09L78.48 395.67L78.91 396.86L79.34 395.72L79.78 397.28L80.21 396.41L80.65 397.91L81.08 397.87L81.5 398.96L81.96 399.68L82.42 398.4L82.89 399.42L83.35 399.05L83.81 399.17L84.27 399.84L84.73 399.32L85.19 400.82L85.65 400.06L86.1 401.3L86.6 400.65L87.08 401.08L87.57 400.75L88.05 400.6L88.53 401.51L89.01 402.51L89.5 400.89L89.99 401.67L90.5 402.03L90.96 401.77L91.43 402.43L91.9 403.67L92.37 403.56L92.85 400.02L93.33 402.26L93.82 403.42L94.31 403.25L94.8 404.55L95.3 403.46L95.75 404.65L96.21 404.1L96.67 403.1L97.13 404.73L97.59 404.64L98.06 405.67L98.53 404.66L99.01 405.85L99.5 404.51L100 405.37L100.5 406.25L100.97 405.58L101.45 406.19L101.94 407L102.44 407.23L102.94 406.72L103.45 406.68L103.96 407.36L104.47 406.92L104.98 407.41L105.49 408.16L106 405.98L106.5 407.58" fill="none" stroke="#111" stroke-width="1" stroke-linejoin="round" stroke-linecap="round"/>
<path d="M105 404.5L105.2 410" fill="none" stroke="#111" stroke-width="0.9" stroke-linejoin="round" stroke-linecap="round"/>
<line x1="42.4" y1="370" x2="42.4" y2="361.76" stroke="#111" stroke-width="1.15"/>
<path d="M42.4 359.6 L40.5 363.2 L42.4 362.12 L44.3 363.2 Z" fill="#111"/>
<text transform="translate(43.1 379.2) scale(0.960 1)" font-size="6.6" fill="#1a1a1a" text-anchor="middle" stroke="#1a1a1a" stroke-width="0.13">U46619</text>
<text transform="translate(42.9 387.3)" font-size="6.6" fill="#1a1a1a" text-anchor="middle" stroke="#1a1a1a" stroke-width="0.13">0.1 µM</text>
<text transform="translate(98.4 397) scale(0.916 1)" font-size="6.6" fill="#1a1a1a" text-anchor="middle" stroke="#1a1a1a" stroke-width="0.13">WT</text>
<text transform="translate(99.2 423.4) scale(1.006 1)" font-size="6.6" font-style="italic" fill="#1a1a1a" stroke="#1a1a1a" stroke-width="0.13">Ptpn11</text>
<text transform="translate(119.9 421.16) scale(1.099 1)" font-size="3.43" font-style="italic" fill="#1a1a1a" stroke="#1a1a1a" stroke-width="0.13">D61G/+</text>
<text transform="translate(9.1 417.8) scale(0.730 1)" font-size="6.3" fill="#1a1a1a" stroke="#1a1a1a" stroke-width="0.13">10%</text>
<line x1="22.3" y1="420.7" x2="22.3" y2="413.6" stroke="#111" stroke-width="1"/>
<path d="M22.3 411.2 L20.7 415.2 L22.3 414 L23.9 415.2 Z" fill="#111"/>
<line x1="21.8" y1="420.2" x2="28.6" y2="420.2" stroke="#111" stroke-width="1"/>
<path d="M31 420.2 L27 418.6 L28.2 420.2 L27 421.8 Z" fill="#111"/>
<text transform="translate(21 429) scale(0.895 1)" font-size="5.8" fill="#1a1a1a" stroke="#1a1a1a" stroke-width="0.13">1 min</text>
<path d="M155 353.8L155.5 353.39L156 352.98L156.5 352.8L156.94 353.09L157.37 353.6L158 353.9L158.46 353.9L159.01 353.84L159.62 353.74L160.22 353.57L160.76 353.32L161.2 353L161.48 352.65L161.69 352.25L161.86 351.79L162 351.28L162.12 350.72L162.25 350.13L162.4 349.5L162.5 349.06L162.61 348.58L162.71 348.06L162.81 347.52L162.91 346.97L163.01 346.41L163.1 345.86L163.2 345.34L163.3 344.84L163.4 344.39L163.5 344L163.72 343.24L163.94 342.57L164.16 342.03L164.38 341.66L164.6 341.5L164.87 341.51L165.14 341.75L165.41 342.37L165.7 343.5L165.76 343.82L165.83 344.19L165.9 344.59L165.97 345.02L166.04 345.48L166.11 345.96L166.18 346.47L166.25 347L166.32 347.54L166.39 348.09L166.46 348.65L166.53 349.22L166.6 349.78L166.67 350.34L166.74 350.9L166.81 351.45L166.87 351.98L166.94 352.5L167 353L167.06 353.51L167.12 354.02L167.18 354.52L167.24 355.02L167.29 355.52L167.35 356.02L167.4 356.51L167.45 357.01L167.51 357.5L167.56 357.99L167.61 358.49L167.66 358.98L167.72 359.48L167.77 359.98L167.83 360.48L167.88 360.98L167.94 361.49L168 362L168.06 362.49L168.12 362.99L168.18 363.49L168.24 364L168.3 364.52L168.37 365.03L168.43 365.55L168.5 366.07L168.56 366.59L168.63 367.1L168.69 367.62L168.76 368.13L168.82 368.63L168.89 369.13L168.95 369.62L169.01 370.11L169.08 370.58L169.14 371.05L169.2 371.5L169.28 372.06L169.35 372.61L169.42 373.15L169.5 373.67L169.57 374.19L169.64 374.7L169.71 375.2L169.79 375.69L169.86 376.18L169.93 376.66L170 377.13L170.08 377.6L170.15 378.07L170.22 378.54L170.3 379L170.39 379.53L170.48 380.06L170.56 380.58L170.65 381.09L170.74 381.6L170.83 382.1L170.92 382.59L171.01 383.08L171.11 383.56L171.2 384.03L171.3 384.49L171.4 384.95L171.5 385.4L171.64 385.97L171.77 386.54L171.91 387.09L172.05 387L172.2 389.39L172.35 391.51L172.5 389.32L172.66 391.29L172.83 386.79L173 390.54L173.22 391.82L173.43 392.31L173.65 392.43L173.88 394.22L174.12 393.41L174.38 392.43L174.67 395.5L175 394.66L175.28 394.05L175.59 395.82L175.91 396.53L176.24 397.52L176.59 396.74L176.96 397.04L177.33 397.71L177.71 398.35L178.1 397.18L178.5 400.84L178.9 397.59L179.3 398.43L179.7 398.47L180.11 399.86L180.53 400.29L180.97 399.87L181.43 399.05L181.92 400.47L182.44 400.99L183 400.51L183.39 402.1L183.79 402.18L184.2 402.02L184.63 401.61L185.07 403.1L185.51 401.01L185.97 402.55L186.44 403.2L186.92 402.23L187.41 403.81L187.91 403.79L188.42 403.79L188.94 404.99L189.46 403.04L190 404.23L190.43 405.63L190.87 405.34L191.32 403.56L191.78 403.73L192.25 404.29L192.72 403.13L193.2 405.79L193.69 405.46L194.18 403.93L194.67 405.89L195.17 404.57L195.67 405.88L196.18 405.79L196.68 406.9L197.19 408.34L197.69 404.45L198.2 405.5L198.7 406.76L199.2 407.84L199.68 408.01L200.15 407.49L200.63 408.64L201.1 407.21L201.58 408.63L202.06 408.23L202.54 407.13L203.02 407.04L203.5 407.82L203.99 406.13L204.47 408.43L204.96 405.78L205.46 408.61L205.95 407.68L206.45 409.32L206.95 408.11L207.46 408.02L207.97 408.68L208.48 408.45L209 410.34L209.48 409.5L209.95 410.21L210.44 409.92L210.93 408.47L211.42 408.95L211.91 411.21L212.41 409.23L212.91 409.28L213.41 409.94L213.92 409.54L214.43 410.58L214.93 411.55L215.44 411.41L215.95 410.18L216.46 410.24L216.97 410.9L217.48 409.85L217.98 410.47L218.49 413.11L219 412.17L219.5 411.61L220 410.96" fill="none" stroke="#111" stroke-width="1.2" stroke-linejoin="round" stroke-linecap="round"/>
<path d="M155 353.8L155.5 353.39L156 352.98L156.5 352.8L156.94 353.09L157.37 353.6L158 353.9L158.46 353.9L159.01 353.84L159.62 353.74L160.22 353.57L160.76 353.32L161.2 353L161.48 352.65L161.69 352.25L161.86 351.79L162 351.28L162.12 350.72L162.25 350.13L162.4 349.5L162.5 349.06L162.61 348.58L162.71 348.06L162.81 347.52L162.91 346.97L163.01 346.41L163.1 345.86L163.2 345.34L163.3 344.84L163.4 344.39L163.5 344L163.72 343.24L163.94 342.57L164.16 342.03L164.38 341.66L164.6 341.5L164.85 341.51L165.09 341.75L165.36 342.37L165.7 343.5L165.79 343.82L165.88 344.19L165.98 344.59L166.08 345.02L166.19 345.48L166.3 345.96L166.41 346.47L166.53 347L166.65 347.54L166.77 348.09L166.88 348.65L167 349.22L167.11 349.78L167.22 350.34L167.33 350.9L167.43 351.45L167.53 351.98L167.62 352.5L167.7 353L167.78 353.51L167.85 354.02L167.92 354.52L167.99 355.02L168.04 355.52L168.1 356.02L168.15 356.51L168.2 357.01L168.25 357.5L168.3 357.99L168.34 358.49L168.39 358.98L168.44 359.48L168.48 359.98L168.53 360.48L168.59 360.98L168.64 361.49L168.7 362L168.76 362.49L168.82 362.99L168.88 363.49L168.94 364L169 364.52L169.07 365.03L169.13 365.55L169.2 366.07L169.26 366.59L169.33 367.1L169.39 367.62L169.46 368.13L169.52 368.63L169.59 369.13L169.65 369.62L169.71 370.11L169.78 370.58L169.84 371.05L169.9 371.5L169.98 372.06L170.05 372.61L170.12 373.15L170.2 373.67L170.27 374.19L170.34 374.7L170.41 375.2L170.49 375.69L170.56 376.18L170.63 376.66L170.7 377.13L170.78 377.6L170.85 378.07L170.92 378.54L171 379L171.09 379.53L171.18 380.06L171.26 380.58L171.35 381.09L171.44 381.6L171.53 382.1L171.62 382.59L171.71 383.08L171.81 383.56L171.9 384.03L172 384.49L172.1 386.15L172.2 386L172.34 386.89L172.47 386.48L172.61 386.15L172.75 387.36L172.9 388.05L173.05 387.15L173.2 386.94L173.36 388.07L173.53 389.87L173.7 389.72L173.92 390.11L174.13 392.62L174.35 391.87L174.57 391.92L174.82 393.44L175.08 392.51L175.37 394.1L175.7 394.17L175.92 394.9L176.15 395.56L176.38 395.16L176.63 396.65L176.89 396.32L177.16 397.77L177.43 398.5L177.71 396.97L178 397.86L178.29 399.93L178.59 400.33L178.89 401.95L179.2 401.18L179.6 399.77L180 402.26L180.4 403.19L180.81 401.51L181.23 402.04L181.67 401.11L182.13 402.68L182.62 402.79L183.14 402.26L183.7 404L184.09 403.6L184.49 404.82L184.9 403.98L185.33 401.77L185.77 404.15L186.21 404.87L186.67 404.12L187.14 404.88L187.62 403.66L188.11 405.4L188.61 405.09L189.12 402.71L189.64 406.37L190.16 406.61L190.7 406.29L191.13 405.81L191.57 407.19L192.02 407.11L192.48 406.58L192.95 407.11L193.42 406.21L193.9 407.46L194.39 406.81L194.88 409.72L195.37 409.24L195.87 409.09L196.37 407.93L196.88 408.33L197.38 409.36L197.89 407.66L198.39 409.66L198.9 407.79L199.4 407.17L199.9 410.16L200.38 410.23L200.85 409.15L201.33 410.52L201.8 409.94L202.28 407.83L202.76 408.4L203.24 409.45L203.72 410.96L204.2 411.61L204.69 408.61L205.17 409.19L205.66 411.78L206.16 410.06L206.65 410.15L207.15 411.7L207.65 411.11L208.16 411.56L208.67 411.89L209.18 409.92L209.7 411.81L210.18 412.36L210.65 409.87L211.14 412.52L211.63 412.08L212.12 410.92L212.61 412.39L213.11 412.26L213.61 411.17L214.11 411.77L214.62 413.86L215.12 412.72L215.63 411.79L216.14 411.98L216.65 413.59L217.16 412.95L217.67 412.56L218.18 412.79L218.68 413.31L219.19 413.37L219.7 414.64L220.2 413.67L220.7 413.18" fill="none" stroke="#111" stroke-width="1.2" stroke-linejoin="round" stroke-linecap="round"/>
<line x1="157.2" y1="369.2" x2="157.2" y2="359.86" stroke="#111" stroke-width="1.15"/>
<path d="M157.2 357.7 L155.3 361.3 L157.2 360.22 L159.1 361.3 Z" fill="#111"/>
<text transform="translate(152.3 379.2) scale(0.969 1)" font-size="6.6" fill="#1a1a1a" text-anchor="middle" stroke="#1a1a1a" stroke-width="0.13">Thrombin</text>
<text transform="translate(152.1 387) scale(0.963 1)" font-size="6.6" fill="#1a1a1a" text-anchor="middle" stroke="#1a1a1a" stroke-width="0.13">0.1 U/mL</text>
<text transform="translate(206.2 400.2) scale(1.030 1)" font-size="6.6" font-style="italic" fill="#1a1a1a" stroke="#1a1a1a" stroke-width="0.13">Ptpn11</text>
<text transform="translate(227.39 397.96) scale(1.125 1)" font-size="3.43" font-style="italic" fill="#1a1a1a" stroke="#1a1a1a" stroke-width="0.13">D61G/+</text>
<text transform="translate(215.4 424.8) scale(0.819 1)" font-size="6.6" fill="#1a1a1a" text-anchor="middle" stroke="#1a1a1a" stroke-width="0.13">WT</text>
<line x1="318.25" y1="56.3" x2="318.25" y2="53.4" stroke="#111" stroke-width="1.15"/>
<line x1="316.7" y1="53.7" x2="319.8" y2="53.7" stroke="#111" stroke-width="1.15"/>
<rect x="315.6" y="56" width="5.3" height="35.5" fill="#a50029"/>
<line x1="325.15" y1="82.7" x2="325.15" y2="77.3" stroke="#111" stroke-width="1.15"/>
<line x1="323.6" y1="77.6" x2="326.7" y2="77.6" stroke="#111" stroke-width="1.15"/>
<rect x="322.5" y="82.4" width="5.3" height="9.1" fill="#2e4a7c"/>
<line x1="336.75" y1="51.55" x2="336.75" y2="49.4" stroke="#111" stroke-width="1.15"/>
<line x1="335.2" y1="49.7" x2="338.3" y2="49.7" stroke="#111" stroke-width="1.15"/>
<rect x="334.1" y="51.25" width="5.3" height="40.25" fill="#a50029"/>
<line x1="343.65" y1="79.3" x2="343.65" y2="72.75" stroke="#111" stroke-width="1.15"/>
<line x1="342.1" y1="73.05" x2="345.2" y2="73.05" stroke="#111" stroke-width="1.15"/>
<rect x="341" y="79" width="5.3" height="12.5" fill="#2e4a7c"/>
<line x1="355.05" y1="57.55" x2="355.05" y2="54.75" stroke="#111" stroke-width="1.15"/>
<line x1="353.5" y1="55.05" x2="356.6" y2="55.05" stroke="#111" stroke-width="1.15"/>
<rect x="352.4" y="57.25" width="5.3" height="34.25" fill="#a50029"/>
<line x1="361.95" y1="72.55" x2="361.95" y2="65.6" stroke="#111" stroke-width="1.15"/>
<line x1="360.4" y1="65.9" x2="363.5" y2="65.9" stroke="#111" stroke-width="1.15"/>
<rect x="359.3" y="72.25" width="5.3" height="19.25" fill="#2e4a7c"/>
<line x1="373.65" y1="54.05" x2="373.65" y2="51.25" stroke="#111" stroke-width="1.15"/>
<line x1="372.1" y1="51.55" x2="375.2" y2="51.55" stroke="#111" stroke-width="1.15"/>
<rect x="371" y="53.75" width="5.3" height="37.75" fill="#a50029"/>
<line x1="380.55" y1="65.55" x2="380.55" y2="57.5" stroke="#111" stroke-width="1.15"/>
<line x1="379" y1="57.8" x2="382.1" y2="57.8" stroke="#111" stroke-width="1.15"/>
<rect x="377.9" y="65.25" width="5.3" height="26.25" fill="#2e4a7c"/>
<line x1="312.1" y1="35.3" x2="312.1" y2="92.1" stroke="#111" stroke-width="1.5"/>
<line x1="308.5" y1="91.5" x2="312.1" y2="91.5" stroke="#111" stroke-width="1.15"/>
<text transform="translate(305.2 94.13) scale(0.900 1)" font-size="7.3" fill="#1a1a1a" text-anchor="end" stroke="#1a1a1a" stroke-width="0.22">0</text>
<line x1="308.5" y1="80.88" x2="312.1" y2="80.88" stroke="#111" stroke-width="1.15"/>
<text transform="translate(305.2 83.51) scale(0.900 1)" font-size="7.3" fill="#1a1a1a" text-anchor="end" stroke="#1a1a1a" stroke-width="0.22">20</text>
<line x1="308.5" y1="70.26" x2="312.1" y2="70.26" stroke="#111" stroke-width="1.15"/>
<text transform="translate(305.2 72.89) scale(0.900 1)" font-size="7.3" fill="#1a1a1a" text-anchor="end" stroke="#1a1a1a" stroke-width="0.22">40</text>
<line x1="308.5" y1="59.64" x2="312.1" y2="59.64" stroke="#111" stroke-width="1.15"/>
<text transform="translate(305.2 62.27) scale(0.900 1)" font-size="7.3" fill="#1a1a1a" text-anchor="end" stroke="#1a1a1a" stroke-width="0.22">60</text>
<line x1="308.5" y1="49.02" x2="312.1" y2="49.02" stroke="#111" stroke-width="1.15"/>
<text transform="translate(305.2 51.65) scale(0.900 1)" font-size="7.3" fill="#1a1a1a" text-anchor="end" stroke="#1a1a1a" stroke-width="0.22">80</text>
<line x1="308.5" y1="38.4" x2="312.1" y2="38.4" stroke="#111" stroke-width="1.15"/>
<text transform="translate(305.2 41.03) scale(0.900 1)" font-size="7.3" fill="#1a1a1a" text-anchor="end" stroke="#1a1a1a" stroke-width="0.22">100</text>
<line x1="308.4" y1="91.5" x2="387.1" y2="91.5" stroke="#111" stroke-width="1.3"/>
<rect x="314.5" y="25.6" width="6.6" height="3.5" fill="#a50029"/>
<rect x="314.5" y="32" width="6.6" height="3.5" fill="#2e4a7c"/>
<text transform="translate(324.3 29.3) scale(0.959 1)" font-size="5.3" fill="#1a1a1a" stroke="#1a1a1a" stroke-width="0.13">WT</text>
<text transform="translate(324.6 35.8) scale(1.023 1)" font-size="5.3" font-style="italic" fill="#1a1a1a" stroke="#1a1a1a" stroke-width="0.13">Ptpn11</text>
<text transform="translate(341.53 34) scale(1.114 1)" font-size="2.76" font-style="italic" fill="#1a1a1a" stroke="#1a1a1a" stroke-width="0.13">D61G/+</text>
<text transform="translate(287.9 89.3) rotate(-90) scale(0.874 1)" font-size="8.3" fill="#1a1a1a" stroke="#1a1a1a" stroke-width="0.22">Aggregation (%)</text>
<text transform="translate(325.2 76.1)" font-size="5" font-weight="bold" fill="#222" text-anchor="middle">***</text>
<text transform="translate(343.7 71.6)" font-size="5" font-weight="bold" fill="#222" text-anchor="middle">***</text>
<text transform="translate(361.9 63.7)" font-size="5" font-weight="bold" fill="#222" text-anchor="middle">*</text>
<text transform="translate(274.8 101.1) scale(0.929 1)" font-size="6.9" fill="#1a1a1a" stroke="#1a1a1a" stroke-width="0.13">Time (min)</text>
<text transform="translate(321.75 100.4)" font-size="6.9" fill="#1a1a1a" text-anchor="middle" stroke="#1a1a1a" stroke-width="0.13">3</text>
<text transform="translate(340 100.4)" font-size="6.9" fill="#1a1a1a" text-anchor="middle" stroke="#1a1a1a" stroke-width="0.13">6</text>
<text transform="translate(358.5 100.4)" font-size="6.9" fill="#1a1a1a" text-anchor="middle" stroke="#1a1a1a" stroke-width="0.13">3</text>
<text transform="translate(376.75 100.4)" font-size="6.9" fill="#1a1a1a" text-anchor="middle" stroke="#1a1a1a" stroke-width="0.13">6</text>
<line x1="319.2" y1="104.5" x2="341.8" y2="104.5" stroke="#111" stroke-width="1.2"/>
<line x1="357.2" y1="103.2" x2="380.5" y2="103.2" stroke="#111" stroke-width="1.2"/>
<text transform="translate(290.3 112.6) scale(0.867 1)" font-size="6.9" fill="#1a1a1a" stroke="#1a1a1a" stroke-width="0.13">CRP:</text>
<text transform="translate(316.6 112.5) scale(0.982 1)" font-size="6.9" fill="#1a1a1a" stroke="#1a1a1a" stroke-width="0.13">0.5µg/mL</text>
<text transform="translate(358 111.2) scale(0.950 1)" font-size="6.9" fill="#1a1a1a" stroke="#1a1a1a" stroke-width="0.13">1µg/mL</text>
<line x1="318.25" y1="170.5" x2="318.25" y2="164.1" stroke="#111" stroke-width="1.15"/>
<line x1="316.7" y1="164.4" x2="319.8" y2="164.4" stroke="#111" stroke-width="1.15"/>
<rect x="315.6" y="170.2" width="5.3" height="19.6" fill="#a50029"/>
<line x1="325.15" y1="188.3" x2="325.15" y2="186.1" stroke="#111" stroke-width="1.15"/>
<line x1="323.6" y1="186.4" x2="326.7" y2="186.4" stroke="#111" stroke-width="1.15"/>
<rect x="322.5" y="188" width="5.3" height="1.8" fill="#2e4a7c"/>
<line x1="336.75" y1="162.2" x2="336.75" y2="155.5" stroke="#111" stroke-width="1.15"/>
<line x1="335.2" y1="155.8" x2="338.3" y2="155.8" stroke="#111" stroke-width="1.15"/>
<rect x="334.1" y="161.9" width="5.3" height="27.9" fill="#a50029"/>
<line x1="343.65" y1="182.1" x2="343.65" y2="179.7" stroke="#111" stroke-width="1.15"/>
<line x1="342.1" y1="180" x2="345.2" y2="180" stroke="#111" stroke-width="1.15"/>
<rect x="341" y="181.8" width="5.3" height="8" fill="#2e4a7c"/>
<line x1="355.05" y1="154.4" x2="355.05" y2="147.3" stroke="#111" stroke-width="1.15"/>
<line x1="353.5" y1="147.6" x2="356.6" y2="147.6" stroke="#111" stroke-width="1.15"/>
<rect x="352.4" y="154.1" width="5.3" height="35.7" fill="#a50029"/>
<line x1="361.95" y1="163.2" x2="361.95" y2="156.7" stroke="#111" stroke-width="1.15"/>
<line x1="360.4" y1="157" x2="363.5" y2="157" stroke="#111" stroke-width="1.15"/>
<rect x="359.3" y="162.9" width="5.3" height="26.9" fill="#2e4a7c"/>
<line x1="373.65" y1="151.1" x2="373.65" y2="144.6" stroke="#111" stroke-width="1.15"/>
<line x1="372.1" y1="144.9" x2="375.2" y2="144.9" stroke="#111" stroke-width="1.15"/>
<rect x="371" y="150.8" width="5.3" height="39" fill="#a50029"/>
<line x1="380.55" y1="157.5" x2="380.55" y2="149.8" stroke="#111" stroke-width="1.15"/>
<line x1="379" y1="150.1" x2="382.1" y2="150.1" stroke="#111" stroke-width="1.15"/>
<rect x="377.9" y="157.2" width="5.3" height="32.6" fill="#2e4a7c"/>
<line x1="312.1" y1="133.5" x2="312.1" y2="190.4" stroke="#111" stroke-width="1.5"/>
<line x1="308.5" y1="189.8" x2="312.1" y2="189.8" stroke="#111" stroke-width="1.15"/>
<text transform="translate(305.2 192.43) scale(0.900 1)" font-size="7.3" fill="#1a1a1a" text-anchor="end" stroke="#1a1a1a" stroke-width="0.22">0</text>
<line x1="308.5" y1="176.56" x2="312.1" y2="176.56" stroke="#111" stroke-width="1.15"/>
<text transform="translate(305.2 179.19) scale(0.900 1)" font-size="7.3" fill="#1a1a1a" text-anchor="end" stroke="#1a1a1a" stroke-width="0.22">20</text>
<line x1="308.5" y1="163.32" x2="312.1" y2="163.32" stroke="#111" stroke-width="1.15"/>
<text transform="translate(305.2 165.95) scale(0.900 1)" font-size="7.3" fill="#1a1a1a" text-anchor="end" stroke="#1a1a1a" stroke-width="0.22">40</text>
<line x1="308.5" y1="150.08" x2="312.1" y2="150.08" stroke="#111" stroke-width="1.15"/>
<text transform="translate(305.2 152.71) scale(0.900 1)" font-size="7.3" fill="#1a1a1a" text-anchor="end" stroke="#1a1a1a" stroke-width="0.22">60</text>
<line x1="308.5" y1="136.84" x2="312.1" y2="136.84" stroke="#111" stroke-width="1.15"/>
<text transform="translate(305.2 139.47) scale(0.900 1)" font-size="7.3" fill="#1a1a1a" text-anchor="end" stroke="#1a1a1a" stroke-width="0.22">80</text>
<line x1="308.4" y1="189.8" x2="387.1" y2="189.8" stroke="#111" stroke-width="1.3"/>
<rect x="314.5" y="124.9" width="6.6" height="3.5" fill="#a50029"/>
<rect x="314.5" y="131" width="6.6" height="3.5" fill="#2e4a7c"/>
<text transform="translate(324.3 128.6) scale(0.959 1)" font-size="5.3" fill="#1a1a1a" stroke="#1a1a1a" stroke-width="0.13">WT</text>
<text transform="translate(324.6 134.8) scale(1.023 1)" font-size="5.3" font-style="italic" fill="#1a1a1a" stroke="#1a1a1a" stroke-width="0.13">Ptpn11</text>
<text transform="translate(341.53 133) scale(1.114 1)" font-size="2.76" font-style="italic" fill="#1a1a1a" stroke="#1a1a1a" stroke-width="0.13">D61G/+</text>
<text transform="translate(293.1 187.6) rotate(-90) scale(0.874 1)" font-size="8.3" fill="#1a1a1a" stroke="#1a1a1a" stroke-width="0.22">Aggregation (%)</text>
<text transform="translate(325.1 184.5)" font-size="5" font-weight="bold" fill="#222" text-anchor="middle">*</text>
<text transform="translate(343.6 178.1)" font-size="5" font-weight="bold" fill="#222" text-anchor="middle">*</text>
<text transform="translate(275 199.3) scale(0.917 1)" font-size="6.9" fill="#1a1a1a" stroke="#1a1a1a" stroke-width="0.13">Time (min)</text>
<text transform="translate(321.75 199.4)" font-size="6.9" fill="#1a1a1a" text-anchor="middle" stroke="#1a1a1a" stroke-width="0.13">3</text>
<text transform="translate(340 199.4)" font-size="6.9" fill="#1a1a1a" text-anchor="middle" stroke="#1a1a1a" stroke-width="0.13">6</text>
<text transform="translate(358.5 199.4)" font-size="6.9" fill="#1a1a1a" text-anchor="middle" stroke="#1a1a1a" stroke-width="0.13">3</text>
<text transform="translate(376.75 199.4)" font-size="6.9" fill="#1a1a1a" text-anchor="middle" stroke="#1a1a1a" stroke-width="0.13">6</text>
<line x1="317.3" y1="202.8" x2="343.9" y2="202.8" stroke="#111" stroke-width="1.2"/>
<line x1="357.7" y1="202.8" x2="380.4" y2="202.8" stroke="#111" stroke-width="1.2"/>
<text transform="translate(276.9 210.9) scale(0.964 1)" font-size="6.9" fill="#1a1a1a" stroke="#1a1a1a" stroke-width="0.13">Collagen:</text>
<text transform="translate(316.4 211) scale(0.965 1)" font-size="6.9" fill="#1a1a1a" stroke="#1a1a1a" stroke-width="0.13">0.5µg/mL</text>
<text transform="translate(358.2 211) scale(0.955 1)" font-size="6.9" fill="#1a1a1a" stroke="#1a1a1a" stroke-width="0.13">1µg/mL</text>
<line x1="318.25" y1="262.7" x2="318.25" y2="257.9" stroke="#111" stroke-width="1.15"/>
<line x1="316.7" y1="258.2" x2="319.8" y2="258.2" stroke="#111" stroke-width="1.15"/>
<rect x="315.6" y="262.4" width="5.3" height="26" fill="#a50029"/>
<line x1="325.15" y1="274.6" x2="325.15" y2="270.7" stroke="#111" stroke-width="1.15"/>
<line x1="323.6" y1="271" x2="326.7" y2="271" stroke="#111" stroke-width="1.15"/>
<rect x="322.5" y="274.3" width="5.3" height="14.1" fill="#2e4a7c"/>
<line x1="336.75" y1="247.2" x2="336.75" y2="244.2" stroke="#111" stroke-width="1.15"/>
<line x1="335.2" y1="244.5" x2="338.3" y2="244.5" stroke="#111" stroke-width="1.15"/>
<rect x="334.1" y="246.9" width="5.3" height="41.5" fill="#a50029"/>
<line x1="343.65" y1="250.5" x2="343.65" y2="248.7" stroke="#111" stroke-width="1.15"/>
<line x1="342.1" y1="249" x2="345.2" y2="249" stroke="#111" stroke-width="1.15"/>
<rect x="341" y="250.2" width="5.3" height="38.2" fill="#2e4a7c"/>
<line x1="355.05" y1="247.6" x2="355.05" y2="244.2" stroke="#111" stroke-width="1.15"/>
<line x1="353.5" y1="244.5" x2="356.6" y2="244.5" stroke="#111" stroke-width="1.15"/>
<rect x="352.4" y="247.3" width="5.3" height="41.1" fill="#a50029"/>
<line x1="361.95" y1="246.9" x2="361.95" y2="244.2" stroke="#111" stroke-width="1.15"/>
<line x1="360.4" y1="244.5" x2="363.5" y2="244.5" stroke="#111" stroke-width="1.15"/>
<rect x="359.3" y="246.6" width="5.3" height="41.8" fill="#2e4a7c"/>
<line x1="373.65" y1="245" x2="373.65" y2="241.8" stroke="#111" stroke-width="1.15"/>
<line x1="372.1" y1="242.1" x2="375.2" y2="242.1" stroke="#111" stroke-width="1.15"/>
<rect x="371" y="244.7" width="5.3" height="43.7" fill="#a50029"/>
<line x1="380.55" y1="243" x2="380.55" y2="240.2" stroke="#111" stroke-width="1.15"/>
<line x1="379" y1="240.5" x2="382.1" y2="240.5" stroke="#111" stroke-width="1.15"/>
<rect x="377.9" y="242.7" width="5.3" height="45.7" fill="#2e4a7c"/>
<line x1="312.1" y1="232" x2="312.1" y2="289" stroke="#111" stroke-width="1.5"/>
<line x1="308.5" y1="288.4" x2="312.1" y2="288.4" stroke="#111" stroke-width="1.15"/>
<text transform="translate(305.2 291.03) scale(0.900 1)" font-size="7.3" fill="#1a1a1a" text-anchor="end" stroke="#1a1a1a" stroke-width="0.22">0</text>
<line x1="308.5" y1="277.73" x2="312.1" y2="277.73" stroke="#111" stroke-width="1.15"/>
<text transform="translate(305.2 280.36) scale(0.900 1)" font-size="7.3" fill="#1a1a1a" text-anchor="end" stroke="#1a1a1a" stroke-width="0.22">20</text>
<line x1="308.5" y1="267.06" x2="312.1" y2="267.06" stroke="#111" stroke-width="1.15"/>
<text transform="translate(305.2 269.69) scale(0.900 1)" font-size="7.3" fill="#1a1a1a" text-anchor="end" stroke="#1a1a1a" stroke-width="0.22">40</text>
<line x1="308.5" y1="256.39" x2="312.1" y2="256.39" stroke="#111" stroke-width="1.15"/>
<text transform="translate(305.2 259.02) scale(0.900 1)" font-size="7.3" fill="#1a1a1a" text-anchor="end" stroke="#1a1a1a" stroke-width="0.22">60</text>
<line x1="308.5" y1="245.72" x2="312.1" y2="245.72" stroke="#111" stroke-width="1.15"/>
<text transform="translate(305.2 248.35) scale(0.900 1)" font-size="7.3" fill="#1a1a1a" text-anchor="end" stroke="#1a1a1a" stroke-width="0.22">80</text>
<line x1="308.5" y1="235.05" x2="312.1" y2="235.05" stroke="#111" stroke-width="1.15"/>
<text transform="translate(305.2 237.68) scale(0.900 1)" font-size="7.3" fill="#1a1a1a" text-anchor="end" stroke="#1a1a1a" stroke-width="0.22">100</text>
<line x1="308.4" y1="288.4" x2="387.1" y2="288.4" stroke="#111" stroke-width="1.3"/>
<rect x="314.5" y="222.9" width="6.6" height="3.5" fill="#a50029"/>
<rect x="314.5" y="229.1" width="6.6" height="3.5" fill="#2e4a7c"/>
<text transform="translate(324.3 226.6) scale(0.959 1)" font-size="5.3" fill="#1a1a1a" stroke="#1a1a1a" stroke-width="0.13">WT</text>
<text transform="translate(324.6 232.9) scale(1.023 1)" font-size="5.3" font-style="italic" fill="#1a1a1a" stroke="#1a1a1a" stroke-width="0.13">Ptpn11</text>
<text transform="translate(341.53 231.1) scale(1.114 1)" font-size="2.76" font-style="italic" fill="#1a1a1a" stroke="#1a1a1a" stroke-width="0.13">D61G/+</text>
<text transform="translate(287.9 286.1) rotate(-90) scale(0.877 1)" font-size="8.3" fill="#1a1a1a" stroke="#1a1a1a" stroke-width="0.22">Aggregation (%)</text>
<text transform="translate(325.1 269.6)" font-size="5" font-weight="bold" fill="#222" text-anchor="middle">**</text>
<text transform="translate(275 297.2) scale(0.917 1)" font-size="6.9" fill="#1a1a1a" stroke="#1a1a1a" stroke-width="0.13">Time (min)</text>
<text transform="translate(321.75 297.2)" font-size="6.9" fill="#1a1a1a" text-anchor="middle" stroke="#1a1a1a" stroke-width="0.13">4</text>
<text transform="translate(340 297.2)" font-size="6.9" fill="#1a1a1a" text-anchor="middle" stroke="#1a1a1a" stroke-width="0.13">6</text>
<text transform="translate(358.5 297.2)" font-size="6.9" fill="#1a1a1a" text-anchor="middle" stroke="#1a1a1a" stroke-width="0.13">4</text>
<text transform="translate(376.75 297.2)" font-size="6.9" fill="#1a1a1a" text-anchor="middle" stroke="#1a1a1a" stroke-width="0.13">6</text>
<line x1="319.2" y1="300.5" x2="342.1" y2="300.5" stroke="#111" stroke-width="1.2"/>
<line x1="357.2" y1="300.5" x2="380.4" y2="300.5" stroke="#111" stroke-width="1.2"/>
<text transform="translate(273.6 309.1) scale(0.920 1)" font-size="6.9" fill="#1a1a1a" stroke="#1a1a1a" stroke-width="0.13">CLEC2 Ab:</text>
<text transform="translate(320.2 309.3) scale(0.942 1)" font-size="6.9" fill="#1a1a1a" stroke="#1a1a1a" stroke-width="0.13">5µg/mL</text>
<text transform="translate(357.2 309.3) scale(0.919 1)" font-size="6.9" fill="#1a1a1a" stroke="#1a1a1a" stroke-width="0.13">10µg/mL</text>
<line x1="447.05" y1="48.6" x2="447.05" y2="43.9" stroke="#111" stroke-width="1.15"/>
<line x1="445.23" y1="44.2" x2="448.87" y2="44.2" stroke="#111" stroke-width="1.15"/>
<rect x="443" y="48.3" width="8.1" height="43.2" fill="#a50029"/>
<line x1="458.9" y1="81.1" x2="458.9" y2="73.8" stroke="#111" stroke-width="1.15"/>
<line x1="457.06" y1="74.1" x2="460.74" y2="74.1" stroke="#111" stroke-width="1.15"/>
<rect x="454.8" y="80.8" width="8.2" height="10.7" fill="#2e4a7c"/>
<line x1="478.7" y1="48.4" x2="478.7" y2="45.4" stroke="#111" stroke-width="1.15"/>
<line x1="476.9" y1="45.7" x2="480.5" y2="45.7" stroke="#111" stroke-width="1.15"/>
<rect x="474.7" y="48.1" width="8" height="43.4" fill="#a50029"/>
<line x1="490.4" y1="69.4" x2="490.4" y2="58.7" stroke="#111" stroke-width="1.15"/>
<line x1="488.6" y1="59" x2="492.2" y2="59" stroke="#111" stroke-width="1.15"/>
<rect x="486.4" y="69.1" width="8" height="22.4" fill="#2e4a7c"/>
<line x1="437.1" y1="35.4" x2="437.1" y2="92.1" stroke="#111" stroke-width="1.5"/>
<line x1="433.5" y1="91.5" x2="437.1" y2="91.5" stroke="#111" stroke-width="1.15"/>
<text transform="translate(430.2 94.13) scale(0.900 1)" font-size="7.3" fill="#1a1a1a" text-anchor="end" stroke="#1a1a1a" stroke-width="0.22">0</text>
<line x1="433.5" y1="84.87" x2="437.1" y2="84.87" stroke="#111" stroke-width="1.15"/>
<text transform="translate(430.2 87.5) scale(0.900 1)" font-size="7.3" fill="#1a1a1a" text-anchor="end" stroke="#1a1a1a" stroke-width="0.22">20</text>
<line x1="433.5" y1="78.24" x2="437.1" y2="78.24" stroke="#111" stroke-width="1.15"/>
<text transform="translate(430.2 80.87) scale(0.900 1)" font-size="7.3" fill="#1a1a1a" text-anchor="end" stroke="#1a1a1a" stroke-width="0.22">40</text>
<line x1="433.5" y1="71.61" x2="437.1" y2="71.61" stroke="#111" stroke-width="1.15"/>
<text transform="translate(430.2 74.24) scale(0.900 1)" font-size="7.3" fill="#1a1a1a" text-anchor="end" stroke="#1a1a1a" stroke-width="0.22">60</text>
<line x1="433.5" y1="64.98" x2="437.1" y2="64.98" stroke="#111" stroke-width="1.15"/>
<text transform="translate(430.2 67.61) scale(0.900 1)" font-size="7.3" fill="#1a1a1a" text-anchor="end" stroke="#1a1a1a" stroke-width="0.22">80</text>
<line x1="433.5" y1="58.35" x2="437.1" y2="58.35" stroke="#111" stroke-width="1.15"/>
<text transform="translate(430.2 60.98) scale(0.900 1)" font-size="7.3" fill="#1a1a1a" text-anchor="end" stroke="#1a1a1a" stroke-width="0.22">100</text>
<line x1="433.5" y1="51.72" x2="437.1" y2="51.72" stroke="#111" stroke-width="1.15"/>
<text transform="translate(430.2 54.35) scale(0.900 1)" font-size="7.3" fill="#1a1a1a" text-anchor="end" stroke="#1a1a1a" stroke-width="0.22">120</text>
<line x1="433.5" y1="45.09" x2="437.1" y2="45.09" stroke="#111" stroke-width="1.15"/>
<text transform="translate(430.2 47.72) scale(0.900 1)" font-size="7.3" fill="#1a1a1a" text-anchor="end" stroke="#1a1a1a" stroke-width="0.22">140</text>
<line x1="433.5" y1="38.46" x2="437.1" y2="38.46" stroke="#111" stroke-width="1.15"/>
<text transform="translate(430.2 41.09) scale(0.900 1)" font-size="7.3" fill="#1a1a1a" text-anchor="end" stroke="#1a1a1a" stroke-width="0.22">160</text>
<line x1="433.5" y1="91.5" x2="512.3" y2="91.5" stroke="#111" stroke-width="1.3"/>
<rect x="439.5" y="25.8" width="6.6" height="3.5" fill="#a50029"/>
<rect x="439.5" y="32" width="6.6" height="3.5" fill="#2e4a7c"/>
<text transform="translate(449.3 29.5) scale(0.959 1)" font-size="5.3" fill="#1a1a1a" stroke="#1a1a1a" stroke-width="0.13">WT</text>
<text transform="translate(449.6 35.8) scale(1.023 1)" font-size="5.3" font-style="italic" fill="#1a1a1a" stroke="#1a1a1a" stroke-width="0.13">Ptpn11</text>
<text transform="translate(466.53 34) scale(1.114 1)" font-size="2.76" font-style="italic" fill="#1a1a1a" stroke="#1a1a1a" stroke-width="0.13">D61G/+</text>
<text transform="translate(413.4 69.8) rotate(-90) scale(0.688 1)" font-size="9.3" fill="#1a1a1a" stroke="#1a1a1a" stroke-width="0.22">AUC</text>
<text transform="translate(458.9 72.2)" font-size="5" font-weight="bold" fill="#222" text-anchor="middle">***</text>
<text transform="translate(438.2 100.2) scale(0.954 1)" font-size="6.9" fill="#1a1a1a" stroke="#1a1a1a" stroke-width="0.13">0.5 µg/mL</text>
<text transform="translate(473.1 100.2) scale(0.921 1)" font-size="6.9" fill="#1a1a1a" stroke="#1a1a1a" stroke-width="0.13">1 µg/mL</text>
<line x1="442.6" y1="103.4" x2="494" y2="103.4" stroke="#111" stroke-width="1.2"/>
<text transform="translate(468.8 111.2) scale(0.851 1)" font-size="6.9" fill="#1a1a1a" text-anchor="middle" stroke="#1a1a1a" stroke-width="0.13">CRP</text>
<line x1="447.05" y1="178.5" x2="447.05" y2="175.5" stroke="#111" stroke-width="1.15"/>
<line x1="445.23" y1="175.8" x2="448.87" y2="175.8" stroke="#111" stroke-width="1.15"/>
<rect x="443" y="178.2" width="8.1" height="11.8" fill="#a50029"/>
<line x1="458.9" y1="189.3" x2="458.9" y2="187.5" stroke="#111" stroke-width="1.15"/>
<line x1="457.06" y1="187.8" x2="460.74" y2="187.8" stroke="#111" stroke-width="1.15"/>
<rect x="454.8" y="189" width="8.2" height="1" fill="#2e4a7c"/>
<line x1="478.7" y1="158.3" x2="478.7" y2="150" stroke="#111" stroke-width="1.15"/>
<line x1="476.9" y1="150.3" x2="480.5" y2="150.3" stroke="#111" stroke-width="1.15"/>
<rect x="474.7" y="158" width="8" height="32" fill="#a50029"/>
<line x1="490.4" y1="159.3" x2="490.4" y2="145" stroke="#111" stroke-width="1.15"/>
<line x1="488.6" y1="145.3" x2="492.2" y2="145.3" stroke="#111" stroke-width="1.15"/>
<rect x="486.4" y="159" width="8" height="31" fill="#2e4a7c"/>
<line x1="437.1" y1="133.8" x2="437.1" y2="190.6" stroke="#111" stroke-width="1.5"/>
<line x1="433.5" y1="190" x2="437.1" y2="190" stroke="#111" stroke-width="1.15"/>
<text transform="translate(430.2 192.63) scale(0.900 1)" font-size="7.3" fill="#1a1a1a" text-anchor="end" stroke="#1a1a1a" stroke-width="0.22">0</text>
<line x1="433.5" y1="181.12" x2="437.1" y2="181.12" stroke="#111" stroke-width="1.15"/>
<text transform="translate(430.2 183.75) scale(0.900 1)" font-size="7.3" fill="#1a1a1a" text-anchor="end" stroke="#1a1a1a" stroke-width="0.22">20</text>
<line x1="433.5" y1="172.24" x2="437.1" y2="172.24" stroke="#111" stroke-width="1.15"/>
<text transform="translate(430.2 174.87) scale(0.900 1)" font-size="7.3" fill="#1a1a1a" text-anchor="end" stroke="#1a1a1a" stroke-width="0.22">40</text>
<line x1="433.5" y1="163.36" x2="437.1" y2="163.36" stroke="#111" stroke-width="1.15"/>
<text transform="translate(430.2 165.99) scale(0.900 1)" font-size="7.3" fill="#1a1a1a" text-anchor="end" stroke="#1a1a1a" stroke-width="0.22">60</text>
<line x1="433.5" y1="154.48" x2="437.1" y2="154.48" stroke="#111" stroke-width="1.15"/>
<text transform="translate(430.2 157.11) scale(0.900 1)" font-size="7.3" fill="#1a1a1a" text-anchor="end" stroke="#1a1a1a" stroke-width="0.22">80</text>
<line x1="433.5" y1="145.6" x2="437.1" y2="145.6" stroke="#111" stroke-width="1.15"/>
<text transform="translate(430.2 148.23) scale(0.900 1)" font-size="7.3" fill="#1a1a1a" text-anchor="end" stroke="#1a1a1a" stroke-width="0.22">100</text>
<line x1="433.5" y1="136.72" x2="437.1" y2="136.72" stroke="#111" stroke-width="1.15"/>
<text transform="translate(430.2 139.35) scale(0.900 1)" font-size="7.3" fill="#1a1a1a" text-anchor="end" stroke="#1a1a1a" stroke-width="0.22">120</text>
<line x1="433.5" y1="190" x2="500.8" y2="190" stroke="#111" stroke-width="1.3"/>
<rect x="439.5" y="124.9" width="6.6" height="3.5" fill="#a50029"/>
<rect x="439.5" y="131" width="6.6" height="3.5" fill="#2e4a7c"/>
<text transform="translate(449.3 128.6) scale(0.959 1)" font-size="5.3" fill="#1a1a1a" stroke="#1a1a1a" stroke-width="0.13">WT</text>
<text transform="translate(449.6 134.8) scale(1.023 1)" font-size="5.3" font-style="italic" fill="#1a1a1a" stroke="#1a1a1a" stroke-width="0.13">Ptpn11</text>
<text transform="translate(466.53 133) scale(1.114 1)" font-size="2.76" font-style="italic" fill="#1a1a1a" stroke="#1a1a1a" stroke-width="0.13">D61G/+</text>
<text transform="translate(415.1 168.4) rotate(-90) scale(0.688 1)" font-size="9.3" fill="#1a1a1a" stroke="#1a1a1a" stroke-width="0.22">AUC</text>
<text transform="translate(438.3 199.2) scale(0.947 1)" font-size="6.9" fill="#1a1a1a" stroke="#1a1a1a" stroke-width="0.13">0.5 µg/mL</text>
<text transform="translate(473.8 199.2) scale(0.897 1)" font-size="6.9" fill="#1a1a1a" stroke="#1a1a1a" stroke-width="0.13">1 µg/mL</text>
<line x1="442.2" y1="202.6" x2="494.6" y2="202.6" stroke="#111" stroke-width="1.2"/>
<text transform="translate(468.2 211.2) scale(0.940 1)" font-size="6.9" fill="#1a1a1a" text-anchor="middle" stroke="#1a1a1a" stroke-width="0.13">Collagen</text>
<line x1="447.05" y1="277.05" x2="447.05" y2="275" stroke="#111" stroke-width="1.15"/>
<line x1="445.23" y1="275.3" x2="448.87" y2="275.3" stroke="#111" stroke-width="1.15"/>
<rect x="443" y="276.75" width="8.1" height="11.85" fill="#a50029"/>
<line x1="458.9" y1="284.55" x2="458.9" y2="281.25" stroke="#111" stroke-width="1.15"/>
<line x1="457.06" y1="281.55" x2="460.74" y2="281.55" stroke="#111" stroke-width="1.15"/>
<rect x="454.8" y="284.25" width="8.2" height="4.35" fill="#2e4a7c"/>
<line x1="478.7" y1="247.8" x2="478.7" y2="245" stroke="#111" stroke-width="1.15"/>
<line x1="476.9" y1="245.3" x2="480.5" y2="245.3" stroke="#111" stroke-width="1.15"/>
<rect x="474.7" y="247.5" width="8" height="41.1" fill="#a50029"/>
<line x1="490.4" y1="245.3" x2="490.4" y2="241.75" stroke="#111" stroke-width="1.15"/>
<line x1="488.6" y1="242.05" x2="492.2" y2="242.05" stroke="#111" stroke-width="1.15"/>
<rect x="486.4" y="245" width="8" height="43.6" fill="#2e4a7c"/>
<line x1="437.1" y1="231.8" x2="437.1" y2="289.2" stroke="#111" stroke-width="1.5"/>
<line x1="433.5" y1="288.6" x2="437.1" y2="288.6" stroke="#111" stroke-width="1.15"/>
<text transform="translate(430.2 291.23) scale(0.900 1)" font-size="7.3" fill="#1a1a1a" text-anchor="end" stroke="#1a1a1a" stroke-width="0.22">0</text>
<line x1="433.5" y1="277.9" x2="437.1" y2="277.9" stroke="#111" stroke-width="1.15"/>
<text transform="translate(430.2 280.53) scale(0.900 1)" font-size="7.3" fill="#1a1a1a" text-anchor="end" stroke="#1a1a1a" stroke-width="0.22">20</text>
<line x1="433.5" y1="267.2" x2="437.1" y2="267.2" stroke="#111" stroke-width="1.15"/>
<text transform="translate(430.2 269.83) scale(0.900 1)" font-size="7.3" fill="#1a1a1a" text-anchor="end" stroke="#1a1a1a" stroke-width="0.22">40</text>
<line x1="433.5" y1="256.5" x2="437.1" y2="256.5" stroke="#111" stroke-width="1.15"/>
<text transform="translate(430.2 259.13) scale(0.900 1)" font-size="7.3" fill="#1a1a1a" text-anchor="end" stroke="#1a1a1a" stroke-width="0.22">60</text>
<line x1="433.5" y1="245.8" x2="437.1" y2="245.8" stroke="#111" stroke-width="1.15"/>
<text transform="translate(430.2 248.43) scale(0.900 1)" font-size="7.3" fill="#1a1a1a" text-anchor="end" stroke="#1a1a1a" stroke-width="0.22">80</text>
<line x1="433.5" y1="235.1" x2="437.1" y2="235.1" stroke="#111" stroke-width="1.15"/>
<text transform="translate(430.2 237.73) scale(0.900 1)" font-size="7.3" fill="#1a1a1a" text-anchor="end" stroke="#1a1a1a" stroke-width="0.22">100</text>
<line x1="433.5" y1="288.6" x2="500.8" y2="288.6" stroke="#111" stroke-width="1.3"/>
<rect x="439.5" y="223" width="6.6" height="3.5" fill="#a50029"/>
<rect x="439.5" y="229.3" width="6.6" height="3.5" fill="#2e4a7c"/>
<text transform="translate(449.3 226.7) scale(0.959 1)" font-size="5.3" fill="#1a1a1a" stroke="#1a1a1a" stroke-width="0.13">WT</text>
<text transform="translate(449.6 233.1) scale(1.023 1)" font-size="5.3" font-style="italic" fill="#1a1a1a" stroke="#1a1a1a" stroke-width="0.13">Ptpn11</text>
<text transform="translate(466.53 231.3) scale(1.114 1)" font-size="2.76" font-style="italic" fill="#1a1a1a" stroke="#1a1a1a" stroke-width="0.13">D61G/+</text>
<text transform="translate(413.3 266.6) rotate(-90) scale(0.688 1)" font-size="9.3" fill="#1a1a1a" stroke="#1a1a1a" stroke-width="0.22">AUC</text>
<text transform="translate(459 277.1)" font-size="5" font-weight="bold" fill="#222" text-anchor="middle">*</text>
<text transform="translate(441.3 297.7) scale(0.925 1)" font-size="6.9" fill="#1a1a1a" stroke="#1a1a1a" stroke-width="0.13">5 µg/mL</text>
<text transform="translate(471.3 297.7) scale(0.927 1)" font-size="6.9" fill="#1a1a1a" stroke="#1a1a1a" stroke-width="0.13">10 µg/mL</text>
<line x1="443.3" y1="301.3" x2="493.8" y2="301.3" stroke="#111" stroke-width="1.2"/>
<text transform="translate(468.8 308.6) scale(0.923 1)" font-size="6.9" fill="#1a1a1a" text-anchor="middle" stroke="#1a1a1a" stroke-width="0.13">CLEC 2 Ab</text>
<line x1="318.25" y1="374.55" x2="318.25" y2="369.5" stroke="#111" stroke-width="1.15"/>
<line x1="316.7" y1="369.8" x2="319.8" y2="369.8" stroke="#111" stroke-width="1.15"/>
<rect x="315.6" y="374.25" width="5.3" height="30.25" fill="#a50029"/>
<line x1="325.15" y1="372.3" x2="325.15" y2="368" stroke="#111" stroke-width="1.15"/>
<line x1="323.6" y1="368.3" x2="326.7" y2="368.3" stroke="#111" stroke-width="1.15"/>
<rect x="322.5" y="372" width="5.3" height="32.5" fill="#2e4a7c"/>
<line x1="336.75" y1="369.05" x2="336.75" y2="364.25" stroke="#111" stroke-width="1.15"/>
<line x1="335.2" y1="364.55" x2="338.3" y2="364.55" stroke="#111" stroke-width="1.15"/>
<rect x="334.1" y="368.75" width="5.3" height="35.75" fill="#a50029"/>
<line x1="343.65" y1="367.3" x2="343.65" y2="361.75" stroke="#111" stroke-width="1.15"/>
<line x1="342.1" y1="362.05" x2="345.2" y2="362.05" stroke="#111" stroke-width="1.15"/>
<rect x="341" y="367" width="5.3" height="37.5" fill="#2e4a7c"/>
<line x1="355.05" y1="371.05" x2="355.05" y2="368.75" stroke="#111" stroke-width="1.15"/>
<line x1="353.5" y1="369.05" x2="356.6" y2="369.05" stroke="#111" stroke-width="1.15"/>
<rect x="352.4" y="370.75" width="5.3" height="33.75" fill="#a50029"/>
<line x1="361.95" y1="371.8" x2="361.95" y2="368.75" stroke="#111" stroke-width="1.15"/>
<line x1="360.4" y1="369.05" x2="363.5" y2="369.05" stroke="#111" stroke-width="1.15"/>
<rect x="359.3" y="371.5" width="5.3" height="33" fill="#2e4a7c"/>
<line x1="373.65" y1="369.8" x2="373.65" y2="367" stroke="#111" stroke-width="1.15"/>
<line x1="372.1" y1="367.3" x2="375.2" y2="367.3" stroke="#111" stroke-width="1.15"/>
<rect x="371" y="369.5" width="5.3" height="35" fill="#a50029"/>
<line x1="380.55" y1="370.3" x2="380.55" y2="364.5" stroke="#111" stroke-width="1.15"/>
<line x1="379" y1="364.8" x2="382.1" y2="364.8" stroke="#111" stroke-width="1.15"/>
<rect x="377.9" y="370" width="5.3" height="34.5" fill="#2e4a7c"/>
<line x1="312.1" y1="348.3" x2="312.1" y2="405.1" stroke="#111" stroke-width="1.5"/>
<line x1="308.5" y1="404.5" x2="312.1" y2="404.5" stroke="#111" stroke-width="1.15"/>
<text transform="translate(305.2 407.13) scale(0.900 1)" font-size="7.3" fill="#1a1a1a" text-anchor="end" stroke="#1a1a1a" stroke-width="0.22">0</text>
<line x1="308.5" y1="393.85" x2="312.1" y2="393.85" stroke="#111" stroke-width="1.15"/>
<text transform="translate(305.2 396.48) scale(0.900 1)" font-size="7.3" fill="#1a1a1a" text-anchor="end" stroke="#1a1a1a" stroke-width="0.22">20</text>
<line x1="308.5" y1="383.2" x2="312.1" y2="383.2" stroke="#111" stroke-width="1.15"/>
<text transform="translate(305.2 385.83) scale(0.900 1)" font-size="7.3" fill="#1a1a1a" text-anchor="end" stroke="#1a1a1a" stroke-width="0.22">40</text>
<line x1="308.5" y1="372.55" x2="312.1" y2="372.55" stroke="#111" stroke-width="1.15"/>
<text transform="translate(305.2 375.18) scale(0.900 1)" font-size="7.3" fill="#1a1a1a" text-anchor="end" stroke="#1a1a1a" stroke-width="0.22">60</text>
<line x1="308.5" y1="361.9" x2="312.1" y2="361.9" stroke="#111" stroke-width="1.15"/>
<text transform="translate(305.2 364.53) scale(0.900 1)" font-size="7.3" fill="#1a1a1a" text-anchor="end" stroke="#1a1a1a" stroke-width="0.22">80</text>
<line x1="308.5" y1="351.25" x2="312.1" y2="351.25" stroke="#111" stroke-width="1.15"/>
<text transform="translate(305.2 353.88) scale(0.900 1)" font-size="7.3" fill="#1a1a1a" text-anchor="end" stroke="#1a1a1a" stroke-width="0.22">100</text>
<line x1="308.4" y1="404.5" x2="387.1" y2="404.5" stroke="#111" stroke-width="1.3"/>
<rect x="314.5" y="338.8" width="6.6" height="3.5" fill="#a50029"/>
<rect x="314.5" y="345" width="6.6" height="3.5" fill="#2e4a7c"/>
<text transform="translate(324.3 342.5) scale(0.959 1)" font-size="5.3" fill="#1a1a1a" stroke="#1a1a1a" stroke-width="0.13">WT</text>
<text transform="translate(324.6 348.8) scale(1.023 1)" font-size="5.3" font-style="italic" fill="#1a1a1a" stroke="#1a1a1a" stroke-width="0.13">Ptpn11</text>
<text transform="translate(341.53 347) scale(1.114 1)" font-size="2.76" font-style="italic" fill="#1a1a1a" stroke="#1a1a1a" stroke-width="0.13">D61G/+</text>
<text transform="translate(287.9 402) rotate(-90) scale(0.880 1)" font-size="8.3" fill="#1a1a1a" stroke="#1a1a1a" stroke-width="0.22">Aggregation (%)</text>
<text transform="translate(276.4 413.6) scale(0.923 1)" font-size="6.9" fill="#1a1a1a" stroke="#1a1a1a" stroke-width="0.13">Time (min)</text>
<text transform="translate(321.75 413.6)" font-size="6.9" fill="#1a1a1a" text-anchor="middle" stroke="#1a1a1a" stroke-width="0.13">3</text>
<text transform="translate(340 413.6)" font-size="6.9" fill="#1a1a1a" text-anchor="middle" stroke="#1a1a1a" stroke-width="0.13">6</text>
<text transform="translate(358.5 413.6)" font-size="6.9" fill="#1a1a1a" text-anchor="middle" stroke="#1a1a1a" stroke-width="0.13">3</text>
<text transform="translate(376.75 413.6)" font-size="6.9" fill="#1a1a1a" text-anchor="middle" stroke="#1a1a1a" stroke-width="0.13">6</text>
<line x1="319.2" y1="417" x2="342.1" y2="417" stroke="#111" stroke-width="1.2"/>
<line x1="354.4" y1="417" x2="381.9" y2="417" stroke="#111" stroke-width="1.2"/>
<text transform="translate(330.8 424.8) scale(0.927 1)" font-size="6.9" fill="#1a1a1a" text-anchor="middle" stroke="#1a1a1a" stroke-width="0.13">U46619</text>
<text transform="translate(330.9 433.2) scale(0.911 1)" font-size="6.9" fill="#1a1a1a" text-anchor="middle" stroke="#1a1a1a" stroke-width="0.13">0.1µM</text>
<text transform="translate(368.1 424.8) scale(0.968 1)" font-size="6.9" fill="#1a1a1a" text-anchor="middle" stroke="#1a1a1a" stroke-width="0.13">Thrombin</text>
<text transform="translate(368 433.2) scale(0.951 1)" font-size="6.9" fill="#1a1a1a" text-anchor="middle" stroke="#1a1a1a" stroke-width="0.13">0.1U/mL</text>
<line x1="447.05" y1="374.9" x2="447.05" y2="367" stroke="#111" stroke-width="1.15"/>
<line x1="445.23" y1="367.3" x2="448.87" y2="367.3" stroke="#111" stroke-width="1.15"/>
<rect x="443" y="374.6" width="8.1" height="29.7" fill="#a50029"/>
<line x1="458.9" y1="364.55" x2="458.9" y2="358.25" stroke="#111" stroke-width="1.15"/>
<line x1="457.06" y1="358.55" x2="460.74" y2="358.55" stroke="#111" stroke-width="1.15"/>
<rect x="454.8" y="364.25" width="8.2" height="40.05" fill="#2e4a7c"/>
<line x1="478.7" y1="358.55" x2="478.7" y2="355" stroke="#111" stroke-width="1.15"/>
<line x1="476.9" y1="355.3" x2="480.5" y2="355.3" stroke="#111" stroke-width="1.15"/>
<rect x="474.7" y="358.25" width="8" height="46.05" fill="#a50029"/>
<line x1="490.4" y1="357.8" x2="490.4" y2="353.25" stroke="#111" stroke-width="1.15"/>
<line x1="488.6" y1="353.55" x2="492.2" y2="353.55" stroke="#111" stroke-width="1.15"/>
<rect x="486.4" y="357.5" width="8" height="46.8" fill="#2e4a7c"/>
<line x1="437.1" y1="348" x2="437.1" y2="404.9" stroke="#111" stroke-width="1.5"/>
<line x1="433.5" y1="404.3" x2="437.1" y2="404.3" stroke="#111" stroke-width="1.15"/>
<text transform="translate(430.2 406.93) scale(0.900 1)" font-size="7.3" fill="#1a1a1a" text-anchor="end" stroke="#1a1a1a" stroke-width="0.22">0</text>
<line x1="433.5" y1="398.41" x2="437.1" y2="398.41" stroke="#111" stroke-width="1.15"/>
<text transform="translate(430.2 401.03) scale(0.900 1)" font-size="7.3" fill="#1a1a1a" text-anchor="end" stroke="#1a1a1a" stroke-width="0.22">20</text>
<line x1="433.5" y1="392.51" x2="437.1" y2="392.51" stroke="#111" stroke-width="1.15"/>
<text transform="translate(430.2 395.14) scale(0.900 1)" font-size="7.3" fill="#1a1a1a" text-anchor="end" stroke="#1a1a1a" stroke-width="0.22">40</text>
<line x1="433.5" y1="386.62" x2="437.1" y2="386.62" stroke="#111" stroke-width="1.15"/>
<text transform="translate(430.2 389.25) scale(0.900 1)" font-size="7.3" fill="#1a1a1a" text-anchor="end" stroke="#1a1a1a" stroke-width="0.22">60</text>
<line x1="433.5" y1="380.72" x2="437.1" y2="380.72" stroke="#111" stroke-width="1.15"/>
<text transform="translate(430.2 383.35) scale(0.900 1)" font-size="7.3" fill="#1a1a1a" text-anchor="end" stroke="#1a1a1a" stroke-width="0.22">80</text>
<line x1="433.5" y1="374.83" x2="437.1" y2="374.83" stroke="#111" stroke-width="1.15"/>
<text transform="translate(430.2 377.46) scale(0.900 1)" font-size="7.3" fill="#1a1a1a" text-anchor="end" stroke="#1a1a1a" stroke-width="0.22">100</text>
<line x1="433.5" y1="368.94" x2="437.1" y2="368.94" stroke="#111" stroke-width="1.15"/>
<text transform="translate(430.2 371.56) scale(0.900 1)" font-size="7.3" fill="#1a1a1a" text-anchor="end" stroke="#1a1a1a" stroke-width="0.22">120</text>
<line x1="433.5" y1="363.04" x2="437.1" y2="363.04" stroke="#111" stroke-width="1.15"/>
<text transform="translate(430.2 365.67) scale(0.900 1)" font-size="7.3" fill="#1a1a1a" text-anchor="end" stroke="#1a1a1a" stroke-width="0.22">140</text>
<line x1="433.5" y1="357.15" x2="437.1" y2="357.15" stroke="#111" stroke-width="1.15"/>
<text transform="translate(430.2 359.78) scale(0.900 1)" font-size="7.3" fill="#1a1a1a" text-anchor="end" stroke="#1a1a1a" stroke-width="0.22">160</text>
<line x1="433.5" y1="351.25" x2="437.1" y2="351.25" stroke="#111" stroke-width="1.15"/>
<text transform="translate(430.2 353.88) scale(0.900 1)" font-size="7.3" fill="#1a1a1a" text-anchor="end" stroke="#1a1a1a" stroke-width="0.22">180</text>
<line x1="433.5" y1="404.3" x2="500.8" y2="404.3" stroke="#111" stroke-width="1.3"/>
<rect x="439.5" y="338.8" width="6.6" height="3.5" fill="#a50029"/>
<rect x="439.5" y="345" width="6.6" height="3.5" fill="#2e4a7c"/>
<text transform="translate(449.3 342.5) scale(0.959 1)" font-size="5.3" fill="#1a1a1a" stroke="#1a1a1a" stroke-width="0.13">WT</text>
<text transform="translate(449.6 348.8) scale(1.023 1)" font-size="5.3" font-style="italic" fill="#1a1a1a" stroke="#1a1a1a" stroke-width="0.13">Ptpn11</text>
<text transform="translate(466.53 347) scale(1.114 1)" font-size="2.76" font-style="italic" fill="#1a1a1a" stroke="#1a1a1a" stroke-width="0.13">D61G/+</text>
<text transform="translate(413.4 382.6) rotate(-90) scale(0.688 1)" font-size="9.3" fill="#1a1a1a" stroke="#1a1a1a" stroke-width="0.22">AUC</text>
<text transform="translate(442.5 414.4) scale(0.965 1)" font-size="6.9" fill="#1a1a1a" stroke="#1a1a1a" stroke-width="0.13">0.1 µM</text>
<text transform="translate(471.3 414.4) scale(0.936 1)" font-size="6.9" fill="#1a1a1a" stroke="#1a1a1a" stroke-width="0.13">0.1 U/mL</text>
<line x1="442" y1="417.5" x2="463.8" y2="417.5" stroke="#111" stroke-width="1.2"/>
<line x1="470.8" y1="417.5" x2="498.8" y2="417.5" stroke="#111" stroke-width="1.2"/>
<text transform="translate(452.9 425) scale(0.960 1)" font-size="6.9" fill="#1a1a1a" text-anchor="middle" stroke="#1a1a1a" stroke-width="0.13">U46619</text>
<text transform="translate(484.6 425) scale(0.981 1)" font-size="6.9" fill="#1a1a1a" text-anchor="middle" stroke="#1a1a1a" stroke-width="0.13">Thrombin</text>
<rect x="46.9" y="482.9" width="283.2" height="42.7" fill="#050505"/>
<rect x="46.9" y="530.3" width="283.2" height="42.8" fill="#050505"/>
<clipPath id="cr0"><rect x="46.9" y="482.9" width="283.2" height="42.7"/></clipPath>
<clipPath id="cr1"><rect x="46.9" y="530.3" width="283.2" height="42.8"/></clipPath>
<g clip-path="url(#cr0)">
<filter id="n00" x="0" y="0" width="100%" height="100%" color-interpolation-filters="sRGB"><feTurbulence type="fractalNoise" baseFrequency="0.42" numOctaves="2" seed="100"/><feColorMatrix type="matrix" values="0.8 0 0 0 -0.42 0.8 0 0 0 -0.42 0.8 0 0 0 -0.42 0 0 0 0 1"/></filter>
<rect x="47" y="483" width="55" height="43" fill="#000" filter="url(#n00)"/>
<path d="M70.36 516.92h1.12M65.14 496.61h0.92M85.46 515.88h1.21M74.62 504.23h1.27M65.06 484.32h1.17M93.74 485.75h0.87M54.75 510.36h1.46M57.63 507.8h0.95M77.01 493.4h1.01M80.16 498.39h1.42M55.86 518.68h1.24M63.3 519.54h1.08M51.95 485.73h0.91M52.95 487.46h1.2M88.78 498.22h1.15M76.45 488.98h1.13M83.93 485.44h1.49M51.66 496.84h1.27M56.9 494.81h1.43M97.79 494.56h1.4M67.22 524.33h1.47M80.71 523.77h1.34M75.42 520.02h1.25M68.02 484.84h1.25M70.07 499.62h1.27M68.53 492.48h1.29M78.16 519.77h1.13M72.73 511.43h0.83M68.42 507.23h1.07M63.83 486.76h1.03M64.91 485.97h1.27M61.09 498.4h0.83M79.56 501.9h1.28M66 517.63h1.08M93.45 487.97h0.92M80.67 492.38h1.05M71.21 500.56h0.85M73.12 523.68h1.45M78.86 520.44h1.01M59.91 488.11h0.89M72.03 517.4h0.84M98.61 516.93h1.46M74.07 507.17h0.8M82.72 510.37h1.03M63.5 493.98h1.24M79.16 517.77h1.18M58.53 523.61h1.36M68.87 484.78h1.5M77.12 485.13h1.25M50.34 494.96h1.5M67.77 498.87h1.5M99.33 498.27h1.24M63.9 498.15h1.22M77.02 505.57h1.02M88.27 486.14h0.95M60.62 501.28h1.47M56.8 513.87h1.06M81.2 516.37h1.03M85.79 495.34h1.47M89.67 517.64h1.32M66.18 514.3h1.29M52.52 492.48h1.32M65.15 484.06h0.84M49.03 493.86h1.1M69.42 485.99h0.81M86.99 503.9h1.33M48.11 497.87h0.84M80.44 488.76h0.83M96.89 522.47h1.18M66.13 502.78h1.44M84.43 489.38h1.04M97.49 511.42h1.03M54.54 501h1.3M100.33 494.61h0.83M64.54 492.48h1.31M90.58 497.04h1.23M61.71 519.68h1.02M70.92 518.2h1.46M65.12 494.98h0.92M72.25 507.89h1.4M61.02 524.73h1.46M59.23 522.49h1" stroke="#2e2e2e" stroke-width="1" fill="none"/>
<path d="M75.4 498.01h1.14M84.87 488.81h0.95M85.24 509.41h1.18M68.69 506.18h1.12M74.29 491.02h0.95M80.97 489.43h0.88M96.99 491.75h1.34M86.81 518.76h1.48M47.69 504.38h0.94M56.67 511.21h0.92M80.09 499.13h1.08M48.44 518.52h1.49M88.47 509.37h0.87M65.12 512.42h1.28M68.34 523.91h1.39M71.23 523.79h1.12M85.5 495.7h1.25M60.08 503.41h1.17M87.77 498.67h1.17M61.42 490.29h1.16M59.71 493.81h0.9M63.24 507.04h1.04M89.37 509.58h1M57.96 486.35h1.12M81.28 496.44h1.25M71.69 507.74h0.83M86.71 484.47h1.19M81.52 523.53h1.33M64.07 514.85h0.84M49.11 511.35h1.19M66.49 513.48h0.88M55.69 501.59h1.21M83.27 511.86h0.93M58.49 512.17h0.93M79.46 520.62h1.46M77.6 495.31h1.24M60.5 497.16h1.25M62.34 514.04h1.17M94.21 497.24h1.12M79.46 513.13h1.09M87.91 487.5h1.12M89.55 514.62h1.21M88.74 508.44h1.47M57.91 496.51h1.34M88.1 492.36h1.26M49.71 515.71h1.3M74.55 502.69h1.12M54.88 507.14h0.89M66.36 487.43h1.46M53.07 507.76h1M48.92 522.7h0.96M62.19 520.3h1.22M74.92 492.08h1.47M52.13 486.1h1.3M81.62 505.13h1.23M90.41 514.96h1.15M47.82 509.36h0.9M63.08 525.1h1.3M58.32 506.46h1.32M53.3 495.9h0.91M81.33 521.18h1.44M53.8 519.12h1.3M81.15 504.55h0.83M93.56 510.5h1.15M89.26 502.71h1.33M62.48 506.09h1.01M85.8 498.91h0.97M49.07 525.05h1.14M49.57 498.47h1.43M68.48 511.65h0.89M62.81 516.71h0.84M50.08 503.53h1.2M53.41 520.54h1.35M52.87 502.76h1.2M68.4 493.71h1.12M79.44 523.43h1.39M89.58 501.57h0.81M51.21 517.76h1.43M86.8 504.35h1.05M66.13 498.95h1.5M47.51 499.91h1.05M74.39 520.4h0.94M54.54 485.06h1.39M52.59 489.92h1.08M67.4 506.26h1.32M61.7 523.41h0.83" stroke="#484848" stroke-width="1" fill="none"/>
<path d="M55.05 502.63h1.31M53.9 484.03h1.2M63.78 509.52h1.2M61.04 507.88h1M68.46 497.24h1.04M58.55 486.99h1.38M76.72 519.92h1.44M57 487.56h1.24M67.97 499.91h0.88M77.66 515.99h0.81M61.51 505.29h1.45M62.77 506.28h1.3M66.06 490.94h0.96M88.81 521.42h1.2M85.8 519.24h0.82M87.24 491.32h0.84M86.29 504.87h0.83M98.47 485.38h0.93M95.15 512.21h1.47M90.07 493.73h0.93M76.19 506.21h1.26M54.1 502.21h1.11M89.48 491.47h1.29M69.84 493.17h0.94M56.94 514.25h0.84M63.68 488.56h0.97M77.55 524.87h1.18M87.09 495.66h1.14M64.38 517.55h1.34M51.88 503.67h0.96M77.75 522.98h1.14M55.42 520.54h0.83M53.36 524.4h1.2M91.48 492.25h0.83M77.25 514.2h1.43M82.11 510.61h1.43M58.8 499.16h1.02M58.07 518.48h1.46M47.88 502.93h1.31M59.78 507.24h1.24M57.92 506.39h1.14M89.09 506.71h1.43M85.38 497.02h0.83M57.88 490.47h1.41M92.73 509.71h1.04M62.94 499.16h1.27M66.02 502.86h1.19M54.6 522.97h1.08M82.59 485.59h1.26M51.79 521.83h1.43M57.28 486.76h1.41M61.38 485.96h1.5M96.93 518.98h1.27M81.26 508.22h1.16M61.46 524.93h1.16M57.79 500.57h1.38M65.74 499.38h1.34M51.85 498.14h1.21M78.09 508.48h1.49M69.98 518.44h1.42M78.1 487.72h0.82M83.75 517.73h0.88M55.85 505.41h0.96M78.59 521.21h1.14M95.78 516.37h0.97M64.97 516.01h1.45" stroke="#666" stroke-width="1" fill="none"/>
<path d="M59.92 502.36h0.89M85.61 492.46h1.08M61.74 495.03h1.49M74.47 492.23h1.4M53.69 496.22h1.29M70.9 515.12h0.91M94.69 512.61h1.32M52.89 515.94h1.36M47.32 517.32h1.2M78.37 509.41h0.87M93.31 506.59h0.88M56.26 507.44h1.01M92.13 490.03h1.3M47.41 510.29h1.38M87.85 493.42h1.26M89.24 493.99h1M96.79 507.69h1.28M64.22 495.4h1.42M64.25 512.47h1.36M47.72 506.69h1.49M57.89 510.15h0.84M70.51 522.79h1.42M93.08 506.24h1.46M49.08 500.44h1.26M68.42 502.01h0.87M84.3 516.8h1.44M99.78 521.27h0.87M52.29 489.44h0.86M64.34 490.52h1.37M68.08 513.23h1.29M61.73 510.64h1.36M80.15 516.25h1.26M61.67 523.18h1.23M80.67 485.28h0.83M98.1 503.8h1.09" stroke="#8a8a8a" stroke-width="1" fill="none"/>
<path d="M57.33 498.17h0.95M69.26 522.32h1.08M70.94 513.95h0.82M78.59 485.02h1.34M75.48 497.83h1.15M65.93 495.33h1.07M83.09 500.85h1.15M86.84 504.49h1.31M55.16 508.58h1.17M76.92 509.76h1.27M49.94 488.89h0.93M67.52 501.11h0.94" stroke="#b4b4b4" stroke-width="1" fill="none"/>
<path d="M61.16 513.22h1.07M69 514.21h1.31M100.07 497.39h1.1M71.19 498.98h1.28M100.16 502.01h1.35" stroke="#e6e6e6" stroke-width="1" fill="none"/>
<filter id="n01" x="0" y="0" width="100%" height="100%" color-interpolation-filters="sRGB"><feTurbulence type="fractalNoise" baseFrequency="0.42" numOctaves="2" seed="101"/><feColorMatrix type="matrix" values="0.95 0 0 0 -0.47 0.95 0 0 0 -0.47 0.95 0 0 0 -0.47 0 0 0 0 1"/></filter>
<rect x="102" y="483" width="57" height="43" fill="#000" filter="url(#n01)"/>
<path d="M153.3 503.14h0.96M113.8 501.61h1.38M141.19 484.19h0.82M107.3 522.6h0.88M156.45 521.1h1.26M139.77 520.82h0.95M146.35 497.83h1.3M125.33 494.78h1.36M107.6 493.42h1.31M134.14 503.71h0.83M135.56 524.94h0.84M143.98 522.54h1.01M151.86 503.23h0.91M104.7 486.15h1.49M104.88 505.76h1.29M118.09 509.7h1.46M115.69 489.45h0.87M147.26 518.17h1.35M111.05 501.38h1.36M106.42 494.18h1.03M129.68 515.2h1.42M128.15 496.21h1.39M150.66 487.17h0.81M132.51 515.78h0.81M129.27 488.36h1.17M117.66 518.34h1.48M142.78 486.11h1.26M105.67 513.44h1.11M128.77 506.81h1.12M105.96 488.18h1.19M129.37 503.02h1.47M134.31 513.53h1.44M156.28 496.49h0.83M153.42 488.64h1.14M104.86 492.33h0.91M148.54 516.21h0.85M114.53 504.38h1.12M135.54 523.24h0.84M148.75 511.05h1.05M104.8 498.41h0.9M126.94 514.75h1.29M132.68 513.54h0.97M149.13 516.49h1.3M123.73 498.43h0.86M118.69 503.01h0.86M120.89 485.85h1.09M151.09 497.22h1.45M117.21 488.54h1.25M135.74 513.59h0.83M151.44 491.36h1.22M142.43 491.87h1.21M156.47 519.97h0.97M120.86 503.5h1.31M142.07 499.36h1M104.45 516.44h1.33M116.38 495.19h1.02M153.41 493.25h1.24M141.88 514.94h0.95M143.93 501.63h1.47M112 486.82h1.32M119.12 514.38h1.16M128.15 522.49h0.96M115.37 499.06h0.82M147.65 493.08h0.86M155.43 507.11h1.41M132.52 514.16h1.43M129.92 519.08h1.47M114.82 518.97h1.48M114.1 499.43h0.95M109.18 520.74h1.03M115.95 519.23h1.18M133.57 514.78h1.02M141.75 484.6h1M113.76 492.85h1.46M119.53 516.6h1.19M117.32 507.68h0.96M135.62 496.48h0.9M115.75 497.56h1.23M128.35 507.4h1.27M133.6 519.27h1.32M105.07 495.02h1.37M152.49 489.12h1.48M106.39 518.5h1.11M146.08 500.83h1.17M114.97 513.82h1.4M150.12 501.05h0.81M150.37 493.29h0.96M123.03 515.45h1.41M145.37 499.88h1.07M124.57 510.96h1.05M125.28 504.2h0.96M140.27 511.16h0.92M115.91 487.72h0.87M117.88 505.71h0.83M150.37 502.02h0.81M141.13 513.46h1.26M142.36 509.08h1.14M116.7 500.69h1.36M121.4 491.26h0.98M109.94 484.42h1.35M152.24 493.53h1.32M123.35 495.74h1.05M146.4 505.31h0.99M132.93 489.37h1.43M135.77 514.26h1.21M113.33 511.84h1.28M126.25 509.66h1.45M144.8 493.75h0.96" stroke="#2e2e2e" stroke-width="1" fill="none"/>
<path d="M124.08 499.5h1.27M102.66 503.01h0.82M122.33 510.81h1.41M133.73 517.1h1.26M105.96 489.93h1.06M139.61 514.22h1.12M153.2 486.21h0.99M127.07 485.37h1.3M118.71 493.54h1.19M142.5 512.13h1.33M130.8 504h1.4M108.89 489.9h0.9M121.65 520.49h1.2M141.7 484.26h1.42M145.49 490.94h1.3M137.53 503.99h1.2M113.48 523.64h1.35M112.43 500.97h1.2M114.5 512.89h1.21M113.58 491.84h1.1M139.22 519.08h1.2M127.45 488.89h1.46M142.31 508.79h1.03M149.29 515.57h0.84M155.87 513.45h1.4M117.33 517.22h0.91M117.78 495.26h0.94M142.03 491.32h0.81M130.37 517.29h1.14M153.49 519.42h1.33M118.01 490.69h1.02M153.97 495.37h0.98M137.06 502.29h1.36M146.23 521.13h1.36M102.88 522.41h0.81M136.13 502.46h1.29M137.25 517.58h1.49M147.69 499.53h1.17M141.44 488.78h1.19M131.58 484.48h1.34M141.66 486.51h1.36M141.32 504.62h1.47M145.35 505.76h1.31M126.86 505.33h1.46M131.82 497.87h1.44M131.98 495.37h1.4M153.72 498.78h1.35M155.98 511.92h1.41M155.7 520.64h0.96M117.32 491.09h0.96M146.15 496.31h1.24M122.48 501.81h1.06M112.86 494.69h1.48M155.69 500.02h0.92M145.48 522.49h1.24M110.68 492.39h0.99M139.09 483.89h1.21M124.77 500.54h1.01M153.04 498.54h1.46M125.89 500.41h1.14M141.97 515.41h1.19M108.24 514.9h0.89M132.41 516.31h1.29M103.35 498.37h1.12M111.44 519.7h1.32M147.17 484.92h1.1M105.44 493.35h1.24M114.89 497.83h1.17M128.55 496.49h1.22M153.31 518.91h0.86M141.1 513.73h1.43M137.33 501.82h1.33M149.3 512.93h1.28M146.47 511.05h1.46M147.92 493.7h1.22M109.14 518.66h1.35M120.34 483.91h1.02M114.17 512.44h0.88M104.89 494.94h0.96M153.65 521.25h1.21M133.8 483.97h1.08M109.05 509.92h1.05M143.01 502.73h0.94M126.65 520.35h1.23M122.99 495.18h1.37M103.08 507.01h1.26M155.15 504.97h1.42M149.88 496.42h1.4M139.55 514.47h1.3M109.5 514.59h1.41M117.3 514.8h0.96M150.34 486.77h1.04M106.69 497.1h0.9M120.23 490.27h1.13M107.75 495.45h1.03M146.06 499.22h0.84M109.14 506.15h1.22M125.7 498.89h1.4M109.69 487.94h1.07M116.77 508.03h1.28M111.84 486.92h1.33" stroke="#484848" stroke-width="1" fill="none"/>
<path d="M122.53 503.33h1.08M112.28 486.52h1.31M119.48 519.82h0.8M120.93 486.6h1.05M127 511.33h1.06M138.89 506.56h1.02M126.52 511.4h1.47M140.5 494.81h1.48M153 504.96h1.45M109.39 508.34h1.28M105.37 511.61h1.06M148.4 521.76h1.36M144.41 521.54h1.21M103 494.37h1.19M142.67 487.41h1.38M102.94 491.06h1.08M153.22 509.28h0.94M120 501.2h0.83M134.38 520.41h0.82M141.8 497.69h0.98M110.99 514.92h1.3M144.54 505.07h1.12M128.94 488.88h1.25M110.47 509.73h1.26M112.25 493.4h1.29M102.79 495.4h1.37M117.5 507.75h1.42M105.53 498.97h0.91M130.36 514.99h1.08M137.15 523.79h1.42M126.5 521.87h1.34M156.49 484.91h1.04M129.49 523.72h1.16M137.51 520.68h1.09M117.94 498.43h1.48M143.18 498.73h0.87M108.82 517.04h0.87M157.45 488.25h1.23M143.56 484.4h1.27M124.23 513.92h1.33M115.54 496.84h1.04M134.73 498.34h1.19M112.48 505.53h1.07M153.53 504.95h0.9M139.58 516.65h1.28M121.84 500.67h0.91M130.75 505.18h1.44M151.86 489.76h1.27M145.13 499.13h1.25M112.04 498.75h1.2M149.9 511.27h1.39M142.54 519.62h1.01M107.59 501.35h0.97M112.01 503.99h1.11M131.08 524.19h0.97M122.7 510.46h1M152.2 493.6h0.96M139.57 497.21h1.46M139.26 484.27h1.15M109.16 483.96h1.47M138 504.22h1.05M118.06 489.65h1.21M116.09 487.27h0.88M114.37 498.84h1.44M144.43 496.76h1.35M124.63 501.07h1.37M141.74 494.84h1.01M156.56 493.15h0.83M124.33 506.6h0.85M147.06 502.29h1.28M106.53 517.66h1.49M107.03 484.37h1.01M111.97 517.11h1.08M118.3 487.33h1.46M103.75 508h1.11M123.42 499.43h0.86M118.43 497.52h1.49M126.37 486.03h1.29M108.43 496.51h0.96M116.92 484.89h0.95M114.67 499.2h1.45M116.44 495.17h1.08M104.98 505.94h1.23M120.16 496.24h1.27M153.85 494.48h1.01M141.73 508.85h0.88M142.85 520.26h1.15M125.59 513.65h0.8M130.15 511.61h0.92M108.97 500.16h1.18M105.64 512.04h1.22M119.09 510.33h1.22M146.19 507.37h1.4M132.37 495.87h1.36M148.93 522.39h1.11M119.93 497.89h1.01M155.97 517.82h0.8M134.94 484.02h0.91M111.41 524.81h1.42M110.66 514.66h1.38M130.07 501.1h1.29M108.87 490.1h1.33M107.25 505.64h1.11" stroke="#666" stroke-width="1" fill="none"/>
<path d="M148.59 488.72h1.37M146.03 489.61h1.32M151.29 484.3h1.12M136.33 489.74h0.84M144.13 515.1h0.96M144.34 487.84h1.12M115.88 519.51h1.21M108.08 500.98h1.41M140.76 503.84h0.92M143.53 501.02h0.96M157.38 484.78h0.96M106.85 497.98h1.07M123.29 517.79h1.4M129.59 506.88h1.41M132.5 517.58h0.93M155.36 517.08h0.83M135.05 488.86h1.19M105.68 499.31h1.33M120.23 492.02h0.84M148.55 503.61h1.24M122.64 520.17h1.25M123.67 517.24h0.87M116.48 510.16h1.13M105.7 515.85h0.9M138.87 493.26h1.29M140.33 494.4h1.38M148.24 496.39h1.43M102.83 487.7h1.15M121.94 494.92h1.35M106.54 501.71h1.29M140.91 523.7h1.34M133.85 501.17h1.08M112.76 513.32h1.3M119.11 497.48h1.12M123.4 484.32h0.88M129.48 495.34h1.21M138.47 519.41h1.11M146.83 502.01h0.86M149.95 516.71h1M110.78 486.68h0.91M155.91 520.78h0.91M121.25 499.34h1.4M103.21 488.05h1.35M123.4 499.34h1.04M149.79 504.32h1.07M137.39 512.29h1.36M145.42 501.84h1.06M150.15 504.51h1.29M130.25 508.89h0.87M104.51 512.75h1.18M122.18 494.13h0.94M148.41 521.08h1.01M145.63 519.46h0.83M147.41 520.46h1.44M132.9 516.35h1.04M138.56 506.75h1.07M124.03 517.96h0.89M142.21 490.26h0.92M120.47 510.32h1.35M112.09 505.68h1.09M148.93 502.29h1.12M131.41 505.95h0.9M107.1 505.09h0.91M119.35 519.07h1.17M131.5 483.96h1.16" stroke="#8a8a8a" stroke-width="1" fill="none"/>
<path d="M118.23 512.47h0.85M106.94 485.12h1.41M132.79 505.96h1M118.16 507.27h1.19M150.52 494.19h0.95M117.86 514.81h1.12M121.21 502h1.02M125.69 513.24h0.92M116.92 494.79h0.85M144.84 507.68h0.86M131.74 504.03h1.32M149.44 500h1.14M115.83 512.33h1.3M126.53 502.71h1.41M115.95 510.49h0.9M111.69 491.72h1.19M114.35 519.48h1.27M132.57 496.99h1.39M127.93 507.04h0.93M125.37 490.58h0.96M155.54 500.64h1.25M108.56 521.19h1.15M139.98 493.09h0.97M146.38 491.23h1.01M143.7 520.66h1.24M111.29 501.06h1.26M120.61 521.49h1.36M145.08 511.29h1.07M119.9 509.83h1.3M149.02 505.59h1.24M103.84 494.3h0.84M130.52 511.77h1.34M132.21 515.36h0.89M124.1 500.34h0.82" stroke="#b4b4b4" stroke-width="1" fill="none"/>
<path d="M118.69 485.48h1.32M151.4 519.48h1.47M120.01 499.32h1.13M114.89 494.9h0.98M117.15 499.37h1.35M108.72 514.98h1.28M113.13 519.28h1.15" stroke="#e6e6e6" stroke-width="1" fill="none"/>
<filter id="n02" x="0" y="0" width="100%" height="100%" color-interpolation-filters="sRGB"><feTurbulence type="fractalNoise" baseFrequency="0.42" numOctaves="2" seed="102"/><feColorMatrix type="matrix" values="0.95 0 0 0 -0.47 0.95 0 0 0 -0.47 0.95 0 0 0 -0.47 0 0 0 0 1"/></filter>
<rect x="159" y="483" width="57" height="43" fill="#000" filter="url(#n02)"/>
<path d="M180.52 509.36h1.17M181.29 521.37h1.21M205.82 510.39h0.92M212.7 521.86h0.99M198.01 523.51h1.29M165.09 514.89h0.91M170.71 484.78h1.28M168.04 498.92h1.25M192.16 490.45h1.43M179.98 514.9h1.19M195.56 490.93h1.07M173.2 512.85h1.49M168.24 524.91h1.26M200.04 487.57h1.06M174.75 520.47h0.9M159.57 515.4h1.15M180.67 500.15h1.22M167.36 522.87h1.17M168.42 485.47h0.83M164.49 501.75h1.2M160.69 489.36h0.88M210.27 486.29h1.1M205.6 488.96h1.28M205.09 496.85h1.41M178.1 495.37h1.49M183.57 499.46h1.14M178.39 484.55h1.01M169.43 508.06h1.19M193.23 486.91h0.92M190.38 516.83h1.04M191.49 524.59h0.99M180.45 525.04h1.08M194.92 504.9h0.82M195.36 514.6h1.49M166.02 509.25h1.05M180.48 495.54h1.03M207.29 511.58h1.04M185.04 516.3h1.45M168.87 514.29h1.39M193.24 504.73h1.36M165.47 503.91h0.81M175.14 506.7h1.3M184.27 524.15h1.37M172 484.5h1.2M182.91 508.77h1.04M165.16 520.79h1.09M169.92 485.66h1.45M187.79 497.22h0.84M201.31 517.29h1.22M172.11 492.66h0.83M192.83 498.79h0.94M162.58 498.76h1.47M176.46 499.12h0.93M160.01 486.92h1.42M199.15 509.01h0.92M171.66 491.84h1.4M203.45 503.02h1.1M174.08 521.69h1.1M160.44 496.15h0.84M170.59 492.93h1.04M213.33 521.44h0.99M161.05 498.6h1.21M171.5 495.39h0.92M192.2 484.24h1.02M197.2 510.25h1.36M203.26 496.34h1.35M166.95 516.54h1.02M206.94 487.13h1.02M190.92 499.72h1.01M189.95 502.32h1.3M173.16 524.01h1.3M178.95 497.61h0.97M175.03 494.2h0.88M201 524.81h1.2M200.53 486.74h1.47M175.37 502.05h1.21M166.61 500.59h1.41M175.99 511.86h0.82M178.46 510.09h1.22M185.45 512.94h1.19M170.31 519.26h0.98M179.15 491.38h1.2" stroke="#2e2e2e" stroke-width="1" fill="none"/>
<path d="M193.58 509.89h0.86M194.15 501.72h1.27M208.36 517.96h1.46M184.02 511.23h0.9M185.78 493.32h0.91M165.86 490.04h1.31M182.17 493.87h1.32M167.14 502.48h1.42M171.88 520.4h1.13M179.08 523.72h0.94M165.32 512.39h1.28M162.39 503.34h1.11M209.8 518.78h0.86M172.83 508.03h1.37M159.85 506.01h0.85M188.19 497.61h1.28M163.69 516.31h1.06M175.54 497.23h1.24M206.13 490.21h1M192.19 515.67h1.06M175.31 510.66h1.05M212.9 499.95h1.16M186.41 511.11h1.39M182.25 516.63h1.32M193.52 516.31h0.81M181.33 511.66h0.88M177.12 522.75h1.3M170.42 507.3h1.09M201.99 505.52h0.99M186.86 502.35h1.07M170.14 510.02h0.89M159.94 509.49h1.37M182.07 486.75h1.39M163.56 485.38h1.28M198.44 486.3h1.25M190.58 519.45h1.31M210.98 506.31h1.46M161.18 492.91h1.15M171.28 518.35h1.38M170.26 493.55h0.96M203.44 499.71h0.83M173.01 487.55h1.4M194.26 488.02h1.2M187.08 507.25h0.89M196.08 519.82h1.08M209.73 504.5h1.23M180.37 484.17h1.41M190.22 504.56h1.41M190.81 515.88h1.04M204.09 522.63h1.35M172.18 494.49h1.45M167 498.3h1.31M187.85 523.01h1.03M212.66 518.76h0.84M195.25 521.02h1.31M165.13 501.8h0.87M209.38 498.81h1.04M210.69 485.34h1.4M190.67 488.75h0.92M176 495.66h1.36M195.92 519.18h0.94M192.68 503.93h0.83M200.76 494.73h0.91M181.39 490.87h1.26M176.32 498.56h1.05M210.28 524.51h1.34M160.49 485.84h0.91M193.72 493.18h0.84M168.7 514.41h1.44M213.46 498.5h1.03M160.45 488.21h1.45M165.91 490.15h0.88M210.72 497.28h1M189.15 517h1.05M208.74 518.73h1.42M198.72 519.05h1.13M207.85 520.88h1.27M179.37 489.91h1.1M180.87 520.96h1.21M165.71 509.19h1.19M165.05 512.8h1.15M198.9 508.32h1.19M205.96 486.66h0.8M213.24 495.07h0.83M189.45 505.01h0.82M199.2 522.91h1.45M175.29 484.29h0.91M162.58 497.06h1.39M183.7 500.41h1.22M188.5 507.75h0.88M187.73 518.63h1.47M178.39 500.14h1.01M196.9 503.18h0.98M166.21 487.97h0.95M161.28 490.37h1.36M208.33 484.07h1.25M174.73 523.87h1.24M183.34 488.96h1.28M202.69 484.94h1.26M203.61 506.1h1.34M180.51 489.2h1.11M192.13 489.1h1.33M171.51 497.88h1.31M180.5 520.28h1.03M173.81 508.17h1.24M179.55 494.99h0.85M205.93 515.55h0.87M209.72 523.59h0.82M180.53 489.43h1.19M182 506.08h1.36M212.75 518.36h1.23M199.35 523.52h1.28M186.99 493.8h0.84M204.61 521.9h1.47M195.25 485.93h1.35M200.52 498.97h1.22M203.45 515.71h1.47M190.77 508.06h0.81M178.29 489.13h1.14M184.71 492.08h0.97M161.41 486.51h1.43M169.5 497.4h1.49M161.1 524.59h1.47" stroke="#484848" stroke-width="1" fill="none"/>
<path d="M167.48 509.3h1.23M193.51 505.31h1.06M171.82 489.1h1.23M183.68 504.54h0.9M177.68 512.27h1.1M183.98 509.7h1.07M173.03 489.52h1M161.01 504.78h1.13M200.23 498.16h1.06M178.28 517.2h1.49M188.09 490.41h1.21M210.47 491.89h1.12M207.73 523.54h1.03M169 515.67h0.96M181.06 498.23h1.4M161.16 513.8h0.9M160.55 514.3h1.3M198.89 491.09h1.41M170.99 507.75h1.46M212.74 485.53h1.2M181.42 506.31h1.17M181.26 521.08h1.24M213.16 495.72h1.03M180.11 498.82h1.41M183.28 510.12h1.14M177.83 507.48h1.46M165.43 483.88h0.92M190.21 515.24h1.4M175.61 507.19h1.32M201.45 510.74h0.9M174.3 488.75h0.96M180.17 519.66h1.16M185.3 495.6h1.15M169.62 488.08h1.15M208.29 516.17h1.27M165.63 502.93h0.82M202.44 499.92h1.31M205.58 504.41h1.05M201.52 524.17h1.35M212.23 520.95h0.88M164.43 524.14h1.48M198.81 503.52h1.15M212.41 513.35h0.94M168.76 512.18h0.84M185.69 508.12h0.99M202.17 512.89h1.37M170.17 518.49h1.27M194.95 487.89h1.13M169.27 505.04h0.99M171.23 503.66h1.09M183.99 506.63h1.44M181.07 519.15h1.26M190.94 514.26h0.82M194.48 491.34h0.86M213.37 501.78h1.27M174.51 502.86h0.96M161.67 515.98h1.29M170.25 521.33h1.21M161.77 496.08h1.13M178.53 492.82h1.43M165.04 520.48h1.27M169.94 484.99h1.12M195.51 494.03h1.19M199.4 504.37h1.41M162.52 513.08h1M167.23 503.21h1.49M200.52 488.9h1.33M186.36 519.55h1.12M176.74 501.35h1.01M207.75 503.35h1.06M203.71 510.03h1.2M200.55 488.86h1.48M206.44 522.11h1.19M161.76 507.29h1.21M191.99 521.94h1.17M174.99 512.4h0.92M183.42 499.67h1.07M202.16 491.13h1.17M188.48 491.13h1.11M183.16 524.11h1.34M210.15 505.57h0.86M184.29 511.09h1.39M193.78 498.61h1.03M169.63 504.2h1.35M213.46 483.94h1.45M205.81 517.03h1M164.69 507.81h0.88M198.61 501.09h0.84M193.91 485.85h0.97M197.3 502.93h0.91M213.52 521.41h1.49M208.48 510.95h0.85M195.96 486.31h1.23M178.88 504.01h1.15M169.83 522.91h1.08M186.06 495.14h1.35M212.31 509.49h0.99M206.33 508.73h1.29M214.32 489.45h0.87M176.05 516.15h1.18M203.32 485.29h1.28M200.49 499.78h1.29M173.74 489h0.84" stroke="#666" stroke-width="1" fill="none"/>
<path d="M170.42 503.06h1.12M212.27 510.22h0.99M177.1 517.08h1.28M181.57 497.41h1.03M177.96 506.53h0.88M184.83 502.39h0.99M201.9 491.67h1.44M194.94 503.99h0.97M200.17 510.79h1.5M211.02 519.92h0.95M184.3 501.16h0.97M183.1 508.61h0.85M174.21 520.06h1.11M206.18 514.49h1.31M163.55 490.69h1.33M179.4 498.61h1.33M166.14 496.27h1.49M176.27 507.77h1.09M165.64 494.78h1.15M180.31 487.27h1.38M169.27 508.43h1.38M196.17 504.84h1.32M182.59 505.75h1.48M201.4 507.53h0.89M207.65 522.95h1.08M162.68 517.61h1.32M186.36 485.55h1.22M201.45 507.56h1.45M179.17 502h0.98M210.76 523.83h1.47M190.38 510.62h0.97M173.79 519.62h1.24M174.7 505.16h0.97M181.54 508.38h0.91M203.37 495.85h1.26M192.89 496.96h0.91M176.43 498.2h1.41M178.22 502.18h1.32M196.03 515.15h0.85M178.19 497.12h0.82M183.97 516.35h1.04M213.04 490.7h1M205.11 488.87h1.01M178.3 491.03h1.17M168.66 509.27h0.93M182.21 498.94h1.44M188.9 502.45h1.26M172.1 496.63h1.31M203.56 495.6h1.21M177.05 487.11h0.96M184.37 518.18h0.91M186.76 498.78h1.09M185.1 505.08h0.85M187.28 506.33h1.34M179.69 500.55h0.83M166.95 501.26h1.13M168.83 496.24h0.97" stroke="#8a8a8a" stroke-width="1" fill="none"/>
<path d="M188.43 500.3h0.92M180.52 494.35h0.95M171.38 510.67h1.29M212.04 497.93h1.12M190.01 522.07h0.85M184.09 499.52h0.96M213.31 524.05h1.3M199.26 491.74h1.03M200.63 508.7h0.94M197.72 499.9h1.09M180 488.92h1.43M203.37 507.11h0.95M178.04 495.09h1.46M179.85 484.44h0.88M192.5 519.65h0.82M203.64 514.41h0.85M164.97 497.44h1.26M183.82 517.71h1.47M173.8 513.27h0.91M190.28 517.83h1.38M169.63 519.71h1.25M193.51 484.18h0.82M212.87 512.07h0.91M180.09 497.76h1.17M196.56 519.88h1.22M164.81 520.71h1.44M160.12 521.51h0.98M209.43 510.63h1.05M174.86 506.31h1.33M210.07 488.18h0.87M211.59 502.25h0.88M175.24 520.08h1.32M177.15 492.57h1.06M164.86 508.17h1.49M172.05 502.71h1.31M179.96 484.9h1.08M169.36 523.11h1.37M164.51 511.07h1.14M191.87 518.44h1.02M190.9 515.48h1.2M172.21 506.4h1.38" stroke="#b4b4b4" stroke-width="1" fill="none"/>
<path d="M164.2 486.06h0.81M207.84 506.9h1.43M172.62 515.36h1.38M168.27 488.92h1.16M174.46 512.97h1.18M160.09 511.61h1.22M197.61 504.61h1.31M170.94 513.19h1.16M170.68 498.88h1.14M186.29 494.3h1.08M200.92 500.8h0.96M188.39 495.44h1.19" stroke="#e6e6e6" stroke-width="1" fill="none"/>
<filter id="n03" x="0" y="0" width="100%" height="100%" color-interpolation-filters="sRGB"><feTurbulence type="fractalNoise" baseFrequency="0.42" numOctaves="2" seed="103"/><feColorMatrix type="matrix" values="0.9 0 0 0 -0.45 0.9 0 0 0 -0.45 0.9 0 0 0 -0.45 0 0 0 0 1"/></filter>
<rect x="216" y="483" width="55" height="43" fill="#000" filter="url(#n03)"/>
<path d="M228.28 488.24h1.17M239.93 514.83h1.11M249.88 486.56h1.42M236.25 492h1.25M221.54 500.34h1.27M251.31 485.6h1.12M245.27 498.74h0.98M241.52 506.31h0.83M269.17 514.32h0.97M241.35 489.53h1.07M262.06 504.7h1.33M222.3 502.36h1.18M246.87 513.92h1.18M244.99 500.36h1.39M257.99 491.19h0.82M221.76 523.87h1.03M249.48 484.75h0.99M227.52 520.61h0.9M267.57 501.15h0.89M262.32 524.52h1.46M238.16 515.85h1.05M260.65 510.03h1.16M219.7 513.3h0.81M217.31 495.78h1.2M230.7 511.14h1.5M223.04 493.8h0.82M257.14 511.45h1.17M233.66 497.41h1.18M229.8 494.45h1.08M242.48 495.48h0.92M247.35 505.18h1.29M227.44 489.6h1.11M223.95 487.27h1.15M252.28 495.06h0.94M253.66 524.73h0.9M260.12 514.61h1.16M227.69 499.09h1.41M254.9 494.5h0.94M237.18 507.59h0.89M237.59 521.09h1.36M243.44 521.21h1.26M244.97 505.07h0.86M227.73 500.03h1.41M247.85 501.24h1.24M259.88 513.04h0.98M225.29 516.82h1.38M238.84 492.42h1.21M251.65 508.47h1.3M267.75 498.37h0.97M220.07 491.82h0.98M263.62 484.18h1.41M222.64 513.89h1.06M241.65 489.07h0.89M223.42 517.37h1.22M267.8 487.29h1.36M260.43 521.05h1.27M268.02 503.4h1.41M220.04 523.88h0.99M226.92 484.15h0.83M234.96 485.13h0.91M257.08 507.23h1.03M262.96 497.77h1.04M246.45 487.73h1.5M240.14 514.13h1.36M253.44 484.88h1.02M235.54 505.49h1.26M237.64 521.03h1.03M259.52 517.12h1.21M239.47 490.26h0.86M250.09 499.72h0.97M261.63 486.34h1.25M231.24 493.34h1M263.39 505.95h1.09M255.19 517.56h0.97M262.12 506.1h0.95M228.14 495.06h1.1M265.5 523.31h1.15M237 521.43h0.93M265.51 513.38h1.22M268.06 502.21h1.19M256.81 520.7h0.9M268.85 510.2h1M219.73 506.78h1.09M223.32 513.35h1.16M229.88 519.66h1.2M266.57 521.37h1.13M248.1 520.91h0.94M248.79 506.13h1.11M229.51 499.21h1.18M225.89 517.48h1.01M242.68 488.24h1.32M230.85 506.86h1.15M218.76 512.03h1.01M226.59 511.81h1.22M221.32 506.98h0.98M241.47 517.92h0.8M264.46 525.17h1.17M232.07 522.34h1.21M218.5 497.89h1.11M255.08 503.04h1.12M244.08 520.52h1.27M259.77 494.88h1M228.38 494.28h0.87M257.43 498.09h1.22M260.5 485.92h1.46M223.05 510.07h1.02M257.61 522.57h1.17M226.2 523.69h1.19M233.32 492.77h1.44M229.72 523.64h1.25M245.61 491.02h1.12M238.59 492.79h0.89M233.49 524.89h1.45M245.07 501.71h1.06M253.5 513.04h0.98M263.93 513.85h1.2M247.49 503.26h0.91M262.98 509.58h1.11M242.96 505.17h1.49M240.86 492.25h0.99M256.85 487.25h0.93M262.62 518.09h1.19M264.73 494.2h1.41M267.93 496.91h1.44M258.3 488.84h0.96M252.48 485.67h1.14M253 520.04h1.06M267 498.15h1.36M254.47 512.98h1.37M261.44 505.69h1.4M224.12 495.14h1.41M229.5 509.49h0.88M240.92 493.74h1" stroke="#2e2e2e" stroke-width="1" fill="none"/>
<path d="M249.2 503.45h1M244.42 513.13h1.14M224.04 501.19h0.87M245.56 508.51h1.37M246.38 509.57h1.07M247.08 510.56h1.13M232.77 521.87h1.05M266.52 512.04h1.03M242.25 484.59h0.97M266.99 508.92h1.05M239.69 497.2h1.27M230.53 488.36h1.43M251.83 491.97h1.47M227.65 495.91h1.41M265.03 515.97h0.97M255.81 508.77h1.32M222.77 497h0.9M268.91 507.23h1.15M235.96 507.71h1.06M217.85 512.83h1.32M219.77 508.57h1.17M268.23 504.78h0.93M244.3 504.96h1.48M261.36 510.41h1.37M223.87 505.33h1.03M229.6 508.49h1.46M253.81 484.22h1.15M258.98 500.65h1.13M227.26 491.53h1.48M256.65 499.35h1.13M236.73 493.08h0.85M250.37 497.88h1.42M255.3 507.02h1.28M265.15 507.66h1.44M241.46 496.23h1.33M258.43 494.94h1.39M231.4 489.4h0.86M256.73 483.9h0.92M260.76 506.12h0.95M264.45 500.04h0.99M223.33 521.41h0.81M251.47 515.39h0.96M240.59 487.31h1.02M253.46 489.79h1.43M229.34 487.89h1.26M236.21 519.52h1.45M247.25 517.73h0.96M232.92 499.32h1.17M265.59 515.74h1.11M264.29 507.22h1.23M224.96 517.14h1.06M258.6 498.14h0.89M243.22 522.53h0.82M235.13 495.87h1.05M228.69 514.81h1.02M229.09 521.28h1.03M265.31 486.95h0.85M217.06 503.39h0.94M257.6 518.44h1.16M236.97 509.38h1.24M243.44 497.36h1.33M244.75 491.72h1.37M232.88 512.67h1.12M234.75 503.43h1.11M254.19 512.96h1.43M262.4 487.43h1.19M246.35 518.41h1.26M227.74 484.6h0.81M222.59 511.99h0.87M260.03 507.35h1.29M236.26 509.72h1.32M265.33 502.87h0.83M228.43 486.45h1.27M222.54 495.93h1.17M235.5 489.8h1.15M231.93 507.75h0.87M239.05 522.34h0.94M246.85 509.65h0.93M261.88 492.16h1.32M268.1 506.17h0.96M267.14 494.11h1.44M255.79 509.49h1.44M227.67 524.96h1.37M231.6 508.86h1.41M266.73 494.06h1.37M267.35 497.15h1.49M263.43 488.75h0.96M256.67 516.38h1.22M250.76 517.24h1.43M218.33 501.26h1.12M244.05 487.37h1.46M233.7 504.14h1.19M217.77 499.58h0.83M251.94 506.64h1.03M229.65 507.22h1.31M219.91 505.92h1.05M249.62 516.11h1.21M239.68 494.52h1.43M251.25 500.98h1.04M262.33 484.05h0.86M244.32 520.13h1.16M257.16 500.49h0.86M221.15 511.48h1.32M234.54 506.67h1.27M265.94 524.56h1.02M244.47 501.91h1.31M242.59 520.94h0.93M220.42 495.9h0.91M216.52 497.95h0.81M220.37 492.44h1.04M267.01 510.19h1.14M235.15 519.32h1M267.44 523.57h0.84M225.08 499.04h1.13M245.28 488.61h1.26M250.41 484.1h1.32M230.1 483.86h1.03M243.99 495.89h1.22M261.33 511.49h1.05M231.45 517.1h1.09M251.91 507.72h1.27M268.74 508.27h1.25M250.14 519.49h1.32M240.78 485.48h1.46M259.27 501.12h1.01M228.05 521.15h0.86M232.55 521.59h1.42M235.62 511.09h1.49M230.03 501.61h1.34M262.91 487.23h0.94M227.3 510.91h1.12M241.64 494.73h1.28M223.44 502.37h1.25M216.38 503.41h1.38M256.67 516.3h1.36M221.54 492.79h0.9M250.09 496.61h1.16M249.15 490.51h1.05M245.9 521.22h1.11M217.36 520.74h1.1M262.52 522.59h1.1M248.18 516.38h1M238.89 514.45h1.5M251.89 521.94h1.41M220.48 490.86h0.93M227.66 517.33h0.93M265.64 511.54h1.34M232.44 493.44h1.31M245.07 518.73h1.49M266.6 515.4h1.34M226.51 511.93h1.18M216.63 508.8h1.26M267.8 486.98h1.02M260.92 513.67h0.96M232.06 486.89h0.96M236.78 487.72h0.89M253.34 510.1h0.8M241.35 497.39h1.36M218 502.99h1.31M238.91 505.67h0.82M246.27 502.8h0.92M230.7 495.6h1.15M238.25 488.74h0.83M264.65 523.43h0.96M247.41 514.21h0.91M223.6 511.55h1.03M259.6 502.05h1.03M246.95 495.44h1.5M234.88 505.8h1.16M230.81 497.7h1.3M249.67 508.29h1.02M257 484.57h1.02M238.95 489.22h1.37M237.15 504.11h1.33M249.81 498.57h0.86M225.98 523.36h1.2M246.79 519.38h0.99M253.71 518.94h1.11M252.35 517.17h0.83M252.69 496.68h1.47M248.72 504.2h1.25M248.73 503.9h1.26M251.38 512.24h0.98M219.97 483.85h1.21M258.76 525.06h0.94M241.93 497.07h0.89M224.04 501.17h1.41M233.69 490.82h1.07M218.46 492.61h1.2M229.05 508.86h0.89M227.3 497.01h0.97M248.24 507.27h0.98M249.78 507.56h1.34M249.52 485.32h1.08M264.89 511.7h0.89" stroke="#484848" stroke-width="1" fill="none"/>
<path d="M227.73 487.03h0.89M238.38 516.35h1.38M229.54 499.08h1.46M252.74 518.95h1.49M259.76 485.15h1.41M249.65 490.54h1M233.26 494.24h1.08M229.78 493.99h1.34M258.55 515.16h1.13M226.63 511.4h1.16M232.15 523.75h1.26M222.58 502.35h1.31M229.09 487.86h1.06M265.59 510.82h0.84M239.36 499.08h1.08M226.86 523.59h0.86M226.01 521.53h0.92M240.97 522.45h1.31M224.77 508.12h1.22M229.13 484.65h1.25M222.87 500.5h1.34M221.53 490.47h1.04M221.79 523.66h0.92M247.94 486.17h0.87M266.07 516.05h1.22M267.31 489.16h1.18M229.85 502.99h0.83M225.89 504.31h1.43M223.63 511.13h0.91M220.41 509.6h0.96M251.48 485.97h1.26M226.62 499.64h1.38M259.53 507.27h0.91M217.44 516.19h0.95M216.6 489.92h0.84M222.5 483.81h0.85M222.74 515.35h0.85M259.3 506.32h0.85M234.92 523.17h1.24M263.89 522.71h1.49M223.86 508.06h1.34M253.68 498.08h1.41M250.18 489.97h1.06M252.58 497.72h1.25M238.15 510.5h1.03M267.34 510.82h1.11M247.86 510.83h0.84M259.12 490.34h0.89M251.35 521.4h0.91M242.42 495.11h1.13M250.44 490.21h1.16M250.14 520.22h1.18M245.89 491.28h0.82M231.06 519.19h1.24M222.08 523.17h1.19M251.15 516.56h0.85M258.89 485.41h1.01M260.95 484.99h1.18M259.75 520.43h1.18M227.46 519.7h1.03M232.9 508.1h1.26M230.15 487.27h1.41M252.48 523.01h0.99M252.81 514.74h1.28M253.66 508.7h1.18M257.77 523.11h1.02M265.23 488.14h0.97M241.8 516.03h1.42M228.93 498.74h1.12M253.85 513.13h1.2M230.74 520.06h1.07M224.52 496.25h1.13M216.77 523.35h1.05M219.69 498.77h1.28M268.43 506.33h1.06M218.81 524.54h0.8M258.97 523.38h1.49M223.86 509.68h1.15M233.87 493.53h0.97M256.05 506.16h0.86M250.3 522.91h1.49M259.16 506.2h1.4M260.29 489h1.15M238.16 505.26h1.06M221.71 507.06h1.08M249.24 519.97h1.35M244.2 487.74h1.17M239.34 508.27h1.46M237.91 497.93h1.34M244.03 491.04h1.46M262.04 489.77h0.86M227.31 515.39h0.95M225.08 486.56h0.93M241.76 500.77h1.37M221 512.28h1.38M269.19 524h1.35M247.71 503.13h1.03M254.39 489.87h1.46M230.87 490.52h1.39M237.52 508.54h1.23M268.28 498.34h1.09M262.81 515.87h1.12M260.38 499.04h1.06M243.71 519.67h1.27M247.82 517.56h1.32M267.51 521.79h1.34M259.15 496.73h1.38M233.57 504.25h0.8M232.34 514.07h1.26M219.13 500.08h1.19M248.08 523.68h0.99M234.57 492.15h1.11M220.52 514.19h1.34M256.24 497.7h1.33M262.51 503.57h1.23M249.43 519.51h0.94M227.72 519.56h1.36M251.68 516.07h1.44M262.17 494h1.38M223.93 507.57h1.22M268.85 506.84h1.3M226.38 489.56h1.34M227.85 489.63h1.18M253.83 500.85h1.1M240.26 487.9h1.43M265.11 523.18h1.15M259.08 512.77h1.05M220.71 499.3h1.22M265.76 505.11h1.21M251.45 504.66h1.33M259.01 493.76h0.81M268.48 496.29h1.11M254.27 507.4h0.94M255.81 519.16h1.2M227.61 520.14h1.14M264.8 493.54h1.16M240.11 515.13h1.06M241.2 506.7h1.01M233.33 494.01h1.02M257.03 488.24h0.94M267.72 520.71h0.88M248.53 502.34h0.85M234.03 524.77h0.99M267.02 484.16h0.81M241.19 491.81h1.12M251.99 514.04h0.84M225.63 494.18h1.06M250.6 520.24h1M250.08 508.05h0.82M222.45 516.65h1.47M229.23 494.57h0.97M237.96 504.07h1.12M244.95 498.13h0.83M247.06 492.92h1.3M262.32 498.94h1.27M222.71 494.13h0.85M225.31 511.62h0.87M230.85 494.02h0.81M268.06 510.21h0.82M264.85 512.2h1.01M250.12 512.8h1.17M239.16 499.59h1.33M237.9 503.42h1.5M239.03 494.31h1.48M241.21 502.94h1.29M252.01 491.65h1.03M225.48 505.62h1.24M217.36 493.54h1.46M266.39 492.54h1.18M241.14 507.99h1.33M238.73 521.98h1.47M269.21 514.62h1.42M249.32 511.62h1.16M248.22 493.34h0.96M222.86 501.95h0.84M241.88 519.19h0.81M231.16 515.21h1.18M255.76 491.49h0.93M256.13 498.33h1.14M231.34 491.95h1.39M235.58 498.11h1.32M253.04 520.64h1.3M250.62 485.24h1.47M232.6 505.69h0.81M240.26 495.38h1.13" stroke="#666" stroke-width="1" fill="none"/>
<path d="M268.39 502.69h1.31M220.67 493.01h0.82M226.06 500.75h1.31M265.21 487.8h1.29M246.27 515.75h1M233.9 506.75h1.03M262.55 495.65h1.32M247.9 497.39h1.09M216.92 525.16h1.19M262.05 516.24h1.36M231.59 509.18h1M265.82 502.88h0.84M231.15 484.73h1.17M233 502.58h0.99M244.17 517.74h1.25M218 489.68h1.09M268.21 510.12h1.32M262.95 513.83h0.99M244.88 502.27h1.26M268.52 510.18h0.96M234.31 497.75h1.45M258.95 495.18h0.8M255.23 496.44h1.32M227.46 525.16h0.96M263.78 485.37h1.24M262.54 521.4h1.39M256.25 500.53h1.3M243.36 515.79h1.38M218.88 502.44h1.33M217.06 520.03h1.04M258.58 503.54h1.18M258.88 494.86h1.29M240.11 487.02h1.01M240.64 521.59h1.32M218.23 494.04h1.39M219.78 513.04h1.32M242.93 484.92h1.31M258.37 503.5h1.22M230.18 484.62h1.35M222.54 483.85h0.91M248.05 519.24h1.23M234.97 493.53h1.05M245.89 503.69h1.44M256.32 517.39h0.91M244.61 491.82h1.47M267.6 488.56h1.18M221.65 501.93h1.3M216.42 497.97h0.91M233.59 517.84h1.06M268.03 502.1h1.22M218.83 520.03h1.01M248.64 519.24h1.01M251.53 505.2h0.87M225.22 490.72h1.26M264.24 491.1h1.24M257.24 498.01h1.06M220.55 508.05h1.38M231.18 490.16h1.14M233.81 508.02h1.31M251.55 501.69h0.84M219.46 517.9h0.87M261.97 505.92h0.96M245.61 509.57h1.04M248.63 519.31h0.83M242.75 498.29h0.96M260.72 514.39h1.3M228.82 492.92h1.4M259.29 515.93h0.93M223.81 523.15h1.43M247.3 524.58h1.1M244.32 498.87h1.03M244.86 507.07h1.1M224.75 522.6h1.16M241.19 498.03h1M256.55 524.42h1.42M244.07 509.22h0.99M264 504.48h1M263.37 505.06h0.86M242.98 523.6h1.2M237.82 510.48h0.88M227 490.22h1.25M228.17 503.9h1.09M243.44 523.64h0.85M259.43 496.83h1.12M253.11 521.46h0.89M243.31 504.72h1.21M231.56 503.02h1M266.38 510.22h1.02M268.35 516.78h0.91M239.74 506.73h1.04M239.27 509.5h0.97M254.34 492.23h1.35M239.18 498h1.04M269.41 486.47h1.43M239.52 517.45h1.39M234.45 516.89h0.99M222.7 491.88h1.03M253.87 486.01h0.8M228.14 519.05h1.02M219.82 497.75h1.49M237.1 512.28h1.02M234.74 519.34h0.84M231.36 485.51h1.15M218.11 488.51h1.46M251.43 499.59h1.39M224.54 495.74h1.44M237.96 485.74h1.14M257.82 484.73h1.17M230.9 519.89h0.93M263.62 497.48h0.87M243.71 508.11h1.37M263.65 517.52h1.11M258.75 498.02h1.19M230.5 518.99h1.31M216.51 492.45h1.37M232.15 489.66h1.25M245.31 518.84h1.02M256.05 521.42h1.3M259.93 486.27h1.05M228.82 522.47h1.19M242.29 519.37h1.4M223.74 522.57h0.83M221.43 520.41h1.37M258.78 521.08h1.12M218.75 514.42h0.92M267.92 505.27h1.38M234.84 500.45h1.39M222.57 488.29h1.29M263.28 520.7h1.25M252.63 496.04h1.26M224.31 497.33h0.86M223.03 522.81h1.26M234.77 513.3h1.06M234.32 525.01h1.3M237.43 489.86h1.37M249.4 508.98h1.43M220.25 510.12h1.02M232.09 511.97h1.24M236.62 514.61h1.49M216.38 494.34h1.23M248.81 495.74h0.94M260.17 490.33h1.42M251.14 508.58h1.29M250.34 515.38h1.24M224.41 519.53h1.38M226.16 515.15h1.25M223.3 509.73h0.83M244.24 496.21h0.87M239.38 492.72h1.04M236.63 505.58h0.81M217.63 508.44h1.32M246.97 506.3h1.28M265.02 487.73h0.96M220.76 488.69h1.11M219.4 490.69h1.27M255.59 507.05h1.13M226.92 499.97h1.22M236.03 486.42h1.21M232.5 519.41h1.42M266.65 484.16h0.89M249.86 490.17h1.48" stroke="#8a8a8a" stroke-width="1" fill="none"/>
<path d="M236.63 520.63h0.88M227.78 524.64h1.43M218.66 510.58h1.18M223.54 515.87h1.28M245.37 519.89h0.81M240.85 511.84h0.98M222.28 485.97h1.17M254.96 524.34h0.88M267.54 511.03h1.1M252.86 508.26h1.12M269.44 512.61h0.94M224.09 516.79h1.01M266.49 490.18h1.3M257.72 506.19h0.91M228.57 507.49h1.31M225.52 520.64h1.13M247.3 505.92h1.11M267.5 496.42h1.06M233.98 501.43h1.31M246.01 510.17h1.23M232.17 514.55h1.39M255.57 522.29h1.05M261.13 488.38h1.21M265 519.89h1.47M260.61 512.82h0.82M220.66 489.82h1.09M241.98 484.75h1.16M260 519.39h1.01M250.14 510.81h1M239.52 520.58h1.43M241.77 508.71h1.04M265.22 483.99h1.15M246.64 515.17h1.35M243.87 519.32h1.02M225.61 515.79h0.9M227.26 500.77h1.13M265.57 515.53h0.98M219.25 502.44h1.15M227.04 503.37h1.13M220.51 507.1h1.41M218.3 522.11h1.5M224.69 519.66h1.38M242.47 484.4h0.9M247.07 520.3h1.18M223.87 513.44h1.34M217.77 500.79h0.98M217.05 498.06h1.14M218.38 523.46h1.24M249.61 485.94h0.93M258.75 507.39h0.88M252.39 523.01h0.9M224.67 492.5h1.07M262.04 484.19h0.84M242.61 503.46h1.16M216.4 488.74h0.87M250.32 495.93h0.96M233.1 520.1h0.88M254.27 500.96h1.43M241.86 522.12h1.45M257.19 488.58h1.43M227 487.73h0.88M220.73 489.56h1.38M229.57 495.66h1.06M238.49 510.47h1.2M268.52 502.67h1.32M232.94 517.91h0.98M241.52 499.77h1.25M216.96 516.72h1.22M265.52 492.98h0.98M247.52 524.2h1.34M257.2 524.14h0.91M235.26 511.31h1.41M259.09 488.23h0.95M251.53 493.15h1.05M263.38 509.67h1.36M227.87 496.39h1.15M261.79 500.54h1.29M238.02 516.46h1.46M259.52 495.06h1.26M236.49 492.89h1.06M244.53 486.86h1.03M240.76 525.01h0.87M229.56 517.54h1.2M237.33 490.82h1.31M235.3 502.24h0.94M236.63 520.8h1.21M268.22 522.58h0.89M236.63 518.58h1.49M217.54 496.18h0.8M219.48 517.93h1.24M225.25 488.79h1.48M267.89 511.94h1.2M250.73 523.24h1.3M257.93 520.31h1.1M222.33 506.91h1.1M229.5 501.5h1.16M222.7 520.13h1.21M242.38 506.43h0.8M253.87 503.54h0.9M220.74 504.51h0.99M235.72 513.72h1.49M246.66 512.9h1.47M244.92 494.73h1.35M267.87 501.48h1.37M256.73 500.79h0.94M241.86 514.78h1.42M242.56 493.31h1.2M229.09 517.9h0.9" stroke="#b4b4b4" stroke-width="1" fill="none"/>
<path d="M221.09 503.89h1.49M219.98 518.53h1.13M264.25 485.12h1.42M219.03 515.03h1.16M229.84 520.06h1.41M251.01 504.4h0.9M252.51 485.89h1.24M237.59 504.29h1.44M221.79 520.95h1.36M235.85 498.24h1.33M242.74 489.91h1.32M254.29 515.25h1M216.71 506.45h1.23M265.45 514.96h1.26M253.87 504.5h1.38M259.96 498.82h1.37M268.58 490.89h1.46M243.35 487.84h0.82M262.74 485.62h1.42M223.67 504.86h0.97M222.75 500.74h1.31M259.74 523.8h0.96M238.86 498.41h0.84M231.76 513.17h1.46M256.8 523.95h0.96M263.83 484.21h1.27M217.07 510.64h1.41M265.17 513.94h0.93M241.55 512.87h0.99M246.06 486.97h1.12M237.13 495.64h1.03M231.24 515.87h0.84M262.96 496.07h1.19M230.28 493.79h1.45M264.2 512.2h1.29M220.05 484.82h1.32M255.67 495.17h1.02M218.68 520.18h1.07" stroke="#e6e6e6" stroke-width="1" fill="none"/>
<filter id="n04" x="0" y="0" width="100%" height="100%" color-interpolation-filters="sRGB"><feTurbulence type="fractalNoise" baseFrequency="0.42" numOctaves="2" seed="104"/><feColorMatrix type="matrix" values="0.9 0 0 0 -0.45 0.9 0 0 0 -0.45 0.9 0 0 0 -0.45 0 0 0 0 1"/></filter>
<rect x="271" y="483" width="59" height="43" fill="#000" filter="url(#n04)"/>
<path d="M280.83 520.87h1.26M281.58 507.34h1.22M281.56 505.44h1.06M299.01 502.53h1.2M290.24 491.16h0.95M287.07 521h1.05M303.38 501.48h1.04M321.75 485.35h0.92M271.99 501.93h1.36M280.45 507.98h1.45M322.54 495.68h1.29M327.88 506.37h1.09M308.82 517.6h1.02M307.97 489.26h0.81M284.45 484.91h0.93M321.55 487.82h1.23M326.15 512.84h0.94M279.37 488.93h1.44M292.5 498.07h0.86M296.12 521.82h0.83M293.7 515.79h0.88M284.53 517.33h1.25M288.16 485.76h1.45M323.65 515.57h0.89M295.29 517.49h1M325.93 522.43h1.39M309.15 506.18h1.1M288.16 498.34h1.39M326.7 508.06h0.86M298.82 488.55h0.92M327.77 505.29h1.42M307.86 514.97h1.36M294.1 502.94h1.05M284.08 484.2h0.87M300.79 507.97h0.83M305.07 498.44h0.93M327.82 502.15h1.18M326.34 517.75h1.26M293.01 509.14h0.82M324.29 500.88h1.27M304.9 515.07h1.23M276.29 498.79h1.23M301.25 511.02h1.24M307.96 514.17h0.98M302.64 487.04h0.89M318.03 509.42h1.33M320.01 520.15h1.29M284.36 508.59h1.06M314.82 519.57h0.81M295.5 514.4h1.41M285.39 523.61h1.13M321.14 520.21h0.98M281.03 524.01h1.34M303.84 496.57h0.96M326.79 500.77h0.84M298.26 504.49h1.25M302.49 505.18h0.81M286.43 509.5h1.4M326.75 507.91h1.12M279.33 495.96h1.37M326.66 496.56h0.97M323.34 513.51h0.97M318.96 504.36h0.91M324.19 495.72h0.98M275.99 495.85h1.09M298.24 524.56h0.86M321.71 508.74h1.17M289.5 485.14h1.4M303.34 502.32h1.26M293.46 505.61h1.21M297.08 496.87h1.32M271.32 511.12h1.43M272.82 518.82h1.19M303.14 507.86h1.05M271.49 516.44h1.19M326.2 492.1h1.41M301.42 522.87h1.11M279.87 484.93h1.25M286.85 512.97h1.22M279.93 486.4h1.11M321.48 496.39h0.9M288.69 519.44h0.83M319.37 518.37h1.25M322.11 508.95h1.29M275.37 517.65h1.5M302.25 522.24h1.36M290.4 513.6h1.41M273.52 502.48h0.81M321.17 496.64h1.17M315.76 498.64h0.97M304.68 515.95h1.37M286.08 518.31h1.36M278.86 486.76h1.36M326.14 515.68h0.94M305.31 499.61h1.13M303.19 512.52h0.82M290.73 523.62h1.27M302.77 494.5h1.21M275.91 493.81h1.49M317.43 487.19h1.26M284.17 489.27h0.97M296.72 523.63h0.89M299.41 515.84h1.37M304.3 515.54h1.4M306.61 498.78h1.18M319.82 508.51h1.09M303.25 492.02h0.88M308.32 498.12h1.39M326.3 497.62h1.35M281.08 521.16h1.21M328.02 503.64h1.43M321.66 505.97h1.14M273.22 485.59h0.92M318.07 496.34h1.11M312.23 519.92h1.24M280.93 507.42h0.83M299.97 506.85h1.32M290.12 492.91h1.36M275.78 523.2h0.96M273.15 524.34h1.4M294.36 518.93h0.95M309.96 515.06h1.31M318.69 504.42h0.81M294.56 494.95h1.11M314.07 498.08h1.23M278.79 489.38h0.91M280.57 521.04h0.93M303.63 488.5h1.26M272.39 488.46h1.43M290.71 502h0.98M317.27 512.82h0.96M299.15 498.08h1.11M288.04 486.72h0.82M274.65 511.58h1.03M284.18 511.15h0.91M313.89 491.38h0.82M295.88 507.91h0.83M320.04 506.4h0.9M295.69 522.01h1.39M305.33 490.89h1.48M307.36 504.87h1.12M320.65 507.21h0.89M286.75 510.16h1.33M296.42 484.26h1.27M300.91 522.53h1.24M299.58 498.99h1.33M277.54 486.9h1.11M296.17 515.71h0.91M275.53 521.2h0.89M299.82 520.76h1.42M321.33 509.39h1.08M282.93 488.72h0.82M293.49 488.18h1.17" stroke="#2e2e2e" stroke-width="1" fill="none"/>
<path d="M317.16 518.08h1.09M271.95 512.35h0.91M301.66 493.64h1.14M275.2 487.73h1.02M326.29 509.4h1.2M288.65 520.83h0.95M304.18 489.84h0.82M287.58 508.77h0.85M306.15 493.93h1.32M299.74 522.08h1.29M294.9 490.14h1.05M272.95 520.31h0.97M305.56 524.56h0.96M299.65 487.1h1.29M323.38 507.71h1.16M324.32 492.01h0.94M288.9 513.86h0.96M273.57 487.31h1.06M307.79 520.83h1.13M310.6 514.52h1.05M292.16 487.34h0.86M303.62 497.91h1.38M279.68 516.24h1.2M320.8 507.15h1.18M316.93 510.17h1.06M285.91 508.42h0.9M293.76 486.4h1.09M291.11 495.44h1.22M308.96 489.13h1.33M293.32 491.75h0.92M313.43 502.91h1.08M271.53 495.27h1.09M297.6 502.86h1.43M279.76 505.18h1.02M277.02 523.3h1.29M318.57 506.56h1.05M299.14 498.01h1.32M282.43 518.98h0.91M328.47 495.78h1.19M327.65 494.29h1.41M289.58 505.71h1.13M313.89 498.14h1.18M290.93 505.68h1.48M292.3 497.24h1.19M272.66 484.56h1.35M294.98 524.27h1.29M327.19 486.94h0.84M273.45 506.91h0.98M325.05 496h1.42M316.98 519.41h1.3M284.52 500.94h0.92M309.97 505.06h0.88M314.99 497.9h1.12M285.34 498.94h1.16M313.65 491.43h0.98M327.13 489h0.95M274.53 495.08h1.18M272.48 501.42h1.46M283.54 488.28h0.86M307.12 507.94h1M275.02 518.34h1.4M288.51 515.55h1.49M311.98 492.49h0.86M327.79 506.48h1.05M288.46 520.99h1.02M293.92 506.73h1.33M312.74 525.15h1.18M311.72 502.02h0.84M314.87 522.86h1.38M301.88 513.81h0.95M322.04 506.71h1.16M273.63 504.29h1M320.74 506.14h1.47M318.44 485.04h1.49M305.87 505.94h1.22M303.07 516.66h0.9M313.81 522.38h1.3M315.64 484.72h0.95M312.55 511.46h1.49M321.96 493.98h1.24M277.76 504.96h1.34M314.96 507.12h1.07M295.66 493.65h0.96M289.69 497.37h1.04M300.93 515.83h1.15M291.37 517.8h1.5M284.86 485.3h1.17M278.24 523.4h1.49M296.94 508.79h1.42M306.85 493.88h1.37M324 508.9h1.11M288.84 499.64h1.04M306.15 487.52h1.19M326.74 488.1h1.39M298.6 490.5h1.12M324.24 509.13h0.8M284.64 507.35h0.83M307.02 508.17h1.1M318.03 499.47h1.39M323.15 506.01h1.11M326.78 491.58h0.93M299.22 506.78h1M282.72 510.18h1.37M277.85 515.24h0.8M314.84 519.14h0.84M304.13 490.55h1.42M324.63 506.57h1.18M326.2 505.12h0.84M279.96 514.2h0.91M326.13 521.85h1.17M272.48 519.28h1.45M320.96 486.66h1.08M316.69 492.87h1.34M323.77 517.77h1.24M289.39 513.2h1.47M297.67 514.08h1.31M273.7 510.06h1.17M273.41 502.23h0.87M314.76 493.86h1.08M314.75 525.14h1.46M327.12 517.89h1.44M290.7 505.35h0.93M319.63 510.25h1.05M291.52 517.77h1.47M304.7 508.94h0.82M294.13 494.13h0.98M280.79 497.42h1.48M283.82 515.79h1.27M299.11 497.69h1.24M314.46 502.15h0.99M299.54 499.38h0.83M289.14 512.99h1.24M279.44 484.31h0.99M315.31 484.41h1.24M313.54 484.55h1.19M308.27 501.55h0.86M295.72 518.43h0.99M272.5 516.34h1.28M285.39 500.91h1.04M295.13 497.3h1.04M311.59 488.95h1.09M274.37 522.93h0.82M326.11 501.53h1.45M298.7 508.15h0.85M273.84 521.63h1.34M273.84 522.75h1.08M318.66 511.76h1.35M283.32 491.66h1.11M325.38 513.62h1.48M300.4 494.43h1.24M302.32 507.66h1.33M297.7 509.51h1.41M279.59 520.63h1.06M286.5 494.37h1.11M297.77 512.65h1.44M301.43 520.83h1.31M301.79 497.25h0.88M286.35 518.19h1.42M317.5 487.24h1.17M312.17 492.39h1.42M315.87 507.02h1.18M284.46 514.71h1.19M318.07 485.86h0.92M315.61 491.25h1.23M285.17 504.44h0.93M304.99 510.04h1.18M281.53 510.13h1.23M315.95 519.7h1.38M290.26 499.69h0.88M285.15 487.23h1.2M290.78 489.45h1.45M325.53 491.12h1.32M296.2 484.28h1.39M311.83 507.18h0.9M273.77 495.55h1.2M277.77 489h0.82M276.09 506.18h1.22M293.35 488.33h1.14M317.18 504.47h1.17M307.69 515.22h0.98M309.95 499.88h1.29M297.6 522.37h1.4M312.18 493.7h1.33M319.24 521.35h1M282.64 520.71h0.86M277.71 509.98h1.17M301.66 504.13h1.45M291.84 511.76h1.42M323.99 496.88h1.43M278.34 497.31h0.98M272.63 496.13h1.38M280.33 486.21h0.89M304.55 491.1h0.95M278.67 503.9h1.17M285.07 498.03h1.33M303.55 504.67h1.31" stroke="#484848" stroke-width="1" fill="none"/>
<path d="M293.67 497.14h1.24M294.73 503.11h0.98M279.6 490.43h0.86M319.33 505.29h1.31M305.07 517.46h1.01M303.61 523.51h1.39M282.75 486.06h0.96M275.4 520.42h1.08M302.75 523.02h1.08M315.69 521.69h0.81M327.42 488.66h1.27M324.41 503.27h1.42M298.2 486.19h0.99M287.55 491.18h0.94M281.92 523.76h1.15M281.97 495.03h1.3M319.8 487.95h1.48M293.94 488.96h1.38M277.89 487.3h1.47M301.75 524.4h0.85M319.82 486.47h1.34M303.86 524.05h1.05M286.51 516.38h1.07M319.72 511.42h0.98M284.14 509.62h1.39M272.42 490.56h0.9M294.06 490.36h1.41M308.96 508.39h0.9M283.9 502.15h0.92M318.09 504.09h1.44M289.47 497.84h0.87M325.65 509.22h1.1M313.09 524.88h1.17M281.31 497.03h0.9M319.37 514.61h1.26M305.88 522.13h0.92M307.91 491.86h1.32M283.28 496.12h1.26M311 523.26h1.45M302.04 496.59h1.22M323.32 515.7h1.09M313.83 490.01h1.05M271.31 522.32h1.29M313.87 521.72h1.14M323.16 496.71h1.34M287.89 522.21h1.5M311.83 494.64h1.31M325.35 507.84h1.3M282.73 512h1.32M284.95 485.81h1M300.7 487.73h1.19M289.09 516.33h1.41M287.03 492.49h0.84M284.95 496.92h1.23M304.6 506.77h1.24M274.42 506.57h1.08M323.07 513.07h1.37M297.88 510.05h1.36M306.2 494.99h1M321.33 489.76h1.15M314.11 486.56h1.03M291.98 509.1h0.88M301.26 518.04h1.15M271.34 484.22h1.24M315.53 505.83h1.39M318.64 505.22h1.44M284.97 489.02h1.04M305.72 495.5h1.37M276.78 485.4h0.92M306.75 523.4h1.34M297.9 498.05h1.21M275.76 487.86h0.91M320.61 486.23h1.28M322.19 515.91h1.3M321.91 504.29h1.28M284.61 495.98h1.23M319.46 522.44h1.4M301.61 491.48h0.84M325.19 485.42h0.96M301.41 506.2h1.35M308.72 511.7h1.05M327.35 506.68h0.99M304.46 508.82h1.29M314.93 506.07h1.48M294.33 509.98h0.86M273.72 485.2h1.03M309.62 498.15h0.93M310.7 500.77h0.99M289.56 513.56h1.31M277.62 494.68h1.49M303.62 490.81h1.47M295.41 517.13h1.16M300.37 488.38h1.12M305.73 491.33h1.2M275.94 505.59h1.24M297.21 501.89h1.14M305.34 502.44h1M328.46 494.01h1.34M323.64 505.89h1.28M327.17 520.53h0.89M290.77 515.97h1.39M285.56 508.96h1.44M322.48 489.65h0.97M287.44 500.42h1.31M323.51 487.2h0.91M294.06 507.56h0.89M277.74 502.42h1.21M288.55 499.37h1.02M286.98 493.69h1.47M323.19 501.01h1.26M281.47 498.13h1.23M284.96 511.87h1.01M273.24 523.93h1M285.9 519.24h1.46M313.85 515.58h0.94M278.86 494.42h1.2M292.53 511.8h1.02M284.55 513.81h1.19M326.95 517.05h1.05M324.39 497.89h0.97M283.67 518.29h1.48M318.34 517.01h1.45M315.46 521.74h1.02M315.91 506.42h0.93M318.8 524.11h0.82M282.45 511.4h1.29M303.53 497.59h1.15M314.39 525.19h1.34M302.16 505.63h0.87M297.89 495.75h0.88M275.17 510.22h1.39M271.4 514.38h1.18M281.54 514.91h1.24M311.36 504.89h0.82M272.8 494.86h1.2M320.45 503.39h1.24M282.11 511.58h0.95M308.55 493.59h1.09M305.78 508.76h1.13M312.94 518.62h1.46M318.82 496.89h1.02M277.69 510.91h0.89M296.01 496.16h1.4M315.56 511.93h1.2M272.71 499.55h1.46M321.48 493.13h1.44M291.82 518.42h1.04M281.58 506.06h1.24M285.52 512.97h1.13M296.05 502.48h1.28M311.75 521.15h1M320.39 508.93h1.45M296.12 520.02h1.01M302.6 517.36h1.05M292.94 488.52h1M283.53 520.8h1.08M312.97 488.65h1.43M292.58 484.03h1.48M288.1 508.44h0.98M287.67 510.41h1.42M290.91 492.43h0.85M311.56 497.33h1.12M273.34 495.39h1.38M289.14 492.1h1.03M278.28 491.67h1.38M317.5 489.51h1.47M325.2 486.47h1.3M311 493.57h1.18M273.71 502.99h1.08M309.25 496.73h0.88M302.09 510.58h1.23M271.68 487.76h1.25M295.33 511.06h1.06M309.37 507.93h1.11M294.99 501.39h1.44M320.94 522.84h0.91M275.89 489.3h0.89M291.4 515.13h0.86M294.74 501.39h1.15M320.16 494.21h0.88M320.05 489.57h1.47M314.64 484.62h1.08M313.14 498.07h1.36M277.87 519.58h1.19M279.9 497.72h1.49M299.16 508.9h1.25M284.5 509.3h0.98M279.05 500.77h1.24M327.53 510.67h1.16M328.15 515.37h1.22M302.93 504.9h1.26M297.62 496.81h1.26M276.78 499.57h1.46M296.77 502.33h1.46M282.64 492.98h1.07M307.89 509.51h1.18M313.23 518.95h1.01M321.64 515.16h0.95M280.93 494.68h1.07M286.59 519.66h1.08M312.11 510.6h1.45M294.32 521.75h1.29M302.69 485.69h0.94M286.77 519.58h0.88M290.19 522.24h1.26M309.44 524.23h0.8M290.04 517.64h1.4M302.3 504.25h0.86M308.84 517.39h1.31M271.92 485.87h1.15M288.21 513.41h1.09M326.78 499.64h0.86M314.1 491.07h1.09M272.96 506.82h1.15M308.56 522.49h1.05M316.54 514.97h0.88M313.6 486.76h1.01M301.23 493.5h1.27M281.82 502.05h1.17M327.56 492.04h1.2M304.37 495.79h1.42M282.14 518.79h1.27M275.78 509.76h1.35M302.94 513.95h1.37M289.53 517.46h1.27M292.14 491.23h0.81M319.37 509.82h1.35M280.43 496.24h1.27M294.06 510.27h1.36M290.89 516.27h0.94M285.93 507.82h1.19M305.98 522.38h1.42M300.83 497.52h0.82M276.91 508.14h1.42M327.06 520.44h0.86M318.71 521.61h1.28M306.8 521.66h1.08M299.76 524.72h1.46M324.51 505.4h1.01M313.29 524.49h1.44M295.44 511.46h1.19" stroke="#666" stroke-width="1" fill="none"/>
<path d="M326.21 519.9h0.96M290.21 513.35h0.81M319.39 485.5h1.36M280.11 484.21h0.97M275.43 509.51h1.24M302.61 505.93h1.02M284.48 494.13h0.86M283.7 499.55h1.23M316.93 496.53h1.27M299.29 499.05h1.38M285.38 517.9h1.32M324.52 489.1h0.8M322.76 517.3h1.07M325.88 518.92h1.18M317.07 484.03h1.12M304.91 506.59h0.96M298.31 515.37h1.38M313.01 501.27h1.29M293.62 486.83h1.23M303.95 506.3h0.84M279.06 520.67h1.47M313.82 501.03h1.35M291.73 498.33h1.42M312.46 511.25h1.14M297.19 489.97h1.13M319.45 488.06h1.13M317.13 509.51h1.49M312.99 497.04h0.94M286.62 503.21h1.18M289.11 498.48h1.36M313.71 523.72h1.27M311.92 511.09h1.11M314.57 510.24h1.26M283.99 502.51h1.31M314.19 500.87h0.9M327.69 495.8h1.05M305.15 487.89h1.06M287.35 504.57h1.48M305.12 484.43h1.44M319.72 523.28h1.37M317.36 496.4h1.15M300.13 487.72h1.27M306.74 504.25h0.93M309.57 524.36h1.11M328.33 505.6h1.2M317.5 498.2h1.16M322.99 484.35h0.96M278.17 510.5h1.33M325.28 524.13h1.03M300.46 505.01h1.19M272.96 484.6h1.23M317.5 486.02h1.08M309.42 513.69h0.9M291.08 515.38h1.4M271.98 488.04h1.35M321.49 504.12h0.91M319.83 508.55h1.16M309.63 501.02h0.99M275.59 497.95h0.81M280.94 524.59h1.35M324.33 514.23h1.04M307.62 519.04h1.49M276.03 487.61h1.34M321.98 500.15h0.87M325.12 521.57h1.3M294.77 497.45h1.39M317.48 523.04h0.82M280.46 487.8h1.08M287.52 520.12h1.28M310.04 496.65h1.33M321.09 517.17h1M297.31 521.92h0.82M305.2 505.45h0.93M276.22 489.1h1.04M276.82 490.05h0.9M314.78 506.72h1.05M317.08 494.91h1.08M284.84 506.8h0.97M313.02 515.57h0.8M304.26 494.05h0.93M304.4 485.82h1.36M300.03 495.73h1.34M308.9 505.75h1M286.7 485.34h1.18M291.72 500.18h1.03M277.05 506.79h0.98M294.7 520.06h1.47M278.82 486.14h1.24M303.81 523.41h1.49M285.53 486.87h1.18M296.23 506.85h1.15M278.8 520.23h0.9M302.64 503.17h1.21M282.97 508.25h1.14M284.43 492.08h1.4M308.02 496.88h1.11M271.81 494.4h1.22M316.87 510.68h1.39M316.53 493.36h1.24M319.65 500.56h0.81M291.57 502.96h1.16M317.34 520.79h1.2M310.2 496.54h1.11M272.88 504.62h0.98M301.69 487.13h0.97M273.18 486.92h1.34M308.08 489.03h0.85M328.49 490.7h0.82M327.38 485.25h1.27M285.09 524.07h1.31M313.49 522.65h1.43M286.36 522.88h1.44M309.36 512.02h0.9M290.09 504.93h1.09M286 517.29h0.84M290.07 488.84h1.24M291.03 499.14h0.98M298.26 498.46h1.27M284.19 487.34h1.17M306.64 495.04h1.08M302.12 502.15h1M275.47 493.1h1.48M308.48 520.59h1.04M274.34 490.58h1.39M325.73 502.16h0.94M303.11 516.94h1.12M305.75 498.73h1.17M286.77 491.43h0.94M297.3 487.75h1.21M279.83 516.17h1.29M286.52 493.19h1.37M318.4 511.84h1.36M327.7 516.89h1.09M279.48 486.59h1.22M296.98 514.3h1.4M304.31 486.66h1.32M318.39 484.17h0.82M280.14 516.23h0.83M286.41 516.61h0.89M319.34 506.47h1.28M308.96 518.3h1.46M314.32 491.51h0.95M309.25 498h1.46M275.81 504.17h1.3M286.99 490.38h0.95" stroke="#8a8a8a" stroke-width="1" fill="none"/>
<path d="M290.16 510.52h1.21M302.62 509.99h1.5M319.5 512.53h1.42M304.42 484.96h0.94M308.92 518.22h1.16M274.39 504.91h1.2M316.37 515.04h0.99M319.83 498.89h0.89M285.7 505.07h0.93M303.69 495.26h1M310.77 519.87h0.97M306.54 494.32h1.44M271.95 491.67h1.49M326.45 512.43h1.37M299.82 488.23h1.44M326.81 513.88h1.35M322.99 493.23h1.29M295.16 511.66h1.34M272.49 508.83h1.04M303.55 496.11h1.11M325.21 512.15h1.22M295.05 486.17h1.25M300.2 503.4h0.97M281.06 488.17h1.11M281.93 498.16h1.35M289.03 496.91h1.28M306.69 503.53h0.89M295.12 494.87h1.35M312.46 501.03h0.87M305.22 510.31h0.93M293.14 515.23h0.87M298.81 490.08h1.19M294.93 504.53h1.1M298.55 507.05h0.93M294.78 501.63h1.08M289.22 503.65h1.39M324.48 487.54h1.4M275.75 497.57h1.3M280.3 488.74h1.19M326.49 496.44h1.49M322.25 514.48h0.96M275.17 492.71h1.2M276.06 487.57h1.27M323.03 501.43h0.96M272.18 498.08h0.86M277.4 519.21h1.4M325.31 507.33h1.05M327.27 511.2h1.36M272.89 511.19h0.93M317.37 515.23h1.02M281.06 511.97h1.28M285.08 517.62h1.37M277.14 501.89h1.26M302.59 491.53h1.14M302.38 523.72h1.26M308.55 513.94h0.9M283.12 512.95h1.41M283.47 516.57h1.05M285.98 489.12h1.26M289.45 493.52h0.97M309.16 507.3h0.83M290.91 484.76h1.21M278.12 521.93h0.8M283.71 496.97h0.98M316.94 518.08h0.8M314.26 499.65h1.29M295.93 521.83h1.49M307.28 492.28h0.81M294.98 515.29h1.02M285.9 500.7h1.34M310.21 512.49h1.17M317.79 523.04h1.29M299.61 488.38h1.04M313.98 500.85h1.15M309.34 496.12h1.07M322.52 504.19h1.49M274.45 485.27h0.99M318.99 485.63h0.95M324.82 484.39h1.25M314.4 498.13h1.45M320.44 507.86h1.25M291.66 521.22h1.3M291.06 486.7h1.24M308.68 513.56h1.04M290.5 512.54h1.13M273.49 515.88h1.29M322.99 511.67h1.29M302.65 513.13h1.2M277.77 493.93h1.11M314.69 519.68h1.49M300.89 513.12h1.31M308.03 509.04h1.31M274.78 497.32h1.06M318.66 521.39h0.97M325.83 522.71h0.96M327.14 508.94h1.17M280.29 504.68h0.85M284.71 507.01h0.91M295.46 498.83h1.38M314.41 494.41h1.49" stroke="#b4b4b4" stroke-width="1" fill="none"/>
<path d="M324.12 498.29h0.94M296.52 501.5h1.27M276.44 500.27h0.83M285.87 492.45h1.25M283.51 494.27h1.35M293.04 511.05h1.05M274.73 486.98h0.92M277.73 500.14h1.37M287.81 493.78h0.87M324.81 504.33h1.27M295.26 523.92h1.05M309.64 505.66h1.34M303.67 487.15h0.8M316.59 491.75h1.49M280.96 502.45h1.15M282.02 486.16h1.01M279.24 503.08h1.28M318.1 484.15h1.23M323.45 523.18h1.43M295.14 492.86h0.84M289.54 511.69h0.91M288.71 513.38h1.33M322.74 486.11h0.97M311.14 521.07h1.3M326.33 510.02h1.07" stroke="#e6e6e6" stroke-width="1" fill="none"/>
</g>
<g clip-path="url(#cr1)">
<filter id="n10" x="0" y="0" width="100%" height="100%" color-interpolation-filters="sRGB"><feTurbulence type="fractalNoise" baseFrequency="0.42" numOctaves="2" seed="105"/><feColorMatrix type="matrix" values="0.7 0 0 0 -0.37 0.7 0 0 0 -0.37 0.7 0 0 0 -0.37 0 0 0 0 1"/></filter>
<rect x="47" y="530" width="55" height="43" fill="#000" filter="url(#n10)"/>
<path d="M60.17 568.99h1.36M50.16 532.53h0.92M73.05 549.91h1.36M51.47 542.7h0.86M100.35 550.91h1.12M78.67 562.06h1.18M59.09 536.27h0.94M89.25 554.81h1.4M82.41 564.83h1.3M79.79 549.49h1.32M81.31 544.6h1.43M70.25 537.68h0.88M66.93 544.54h1.34M99.25 562.73h0.85M65.34 566.6h1.48M85.77 558h0.83M67.67 545.44h0.84M71.19 555.45h1.13M77.77 534.76h1.22M61.97 539.99h1.29M83.05 571.31h0.94M95.31 547.6h1.21M61.21 570h1.27M72.4 546.62h1.35M59.39 539.14h1.42M58.41 569.2h0.85M90.64 539.73h1.06M97.38 545.21h0.81M63.2 554.16h0.8M89.94 533.75h1.33M71.53 538.61h0.91M75.02 554.06h1.25M92.05 542.58h1.13M65.78 557.84h1.04M95.29 556.63h0.95M96.51 553.04h0.99M83.53 532.63h1.19M84.75 557.79h1.35M92.17 554.54h1.14M56.43 552.18h1.49M72.74 560.65h1.18M51.7 554.48h1.05M76.47 571.26h1.06M84.91 553.1h1.48M95.26 538.44h1.44" stroke="#2e2e2e" stroke-width="1" fill="none"/>
<path d="M96.84 559.73h1M87.23 558.25h0.93M81.53 544.84h0.98M86.92 549.42h1.46M84.07 571.28h1.05M69.03 549.79h1.02M69.88 550.68h1.1M99.92 531.34h0.89M99.08 549.39h0.93M92.19 549.66h1.03M75.71 554.42h1.42M56.98 546.89h1.38M92.37 552.77h1.39M69.37 541.86h1.06M80.14 540.26h0.89M68.1 538.58h1.15M79.23 549.55h0.96M72.06 564.24h0.98M52.09 541.77h1.4M81.59 541.43h1.46M56.13 547.75h1.35M100.14 547.26h0.85M73.92 551.14h1.42M77.29 559.46h0.88M66.42 536.64h1.03M67.07 566.32h1.32M76.43 534.27h1.45M81.35 547.85h0.88M70.73 541.36h1.44M77.52 570.44h0.96M87.95 537.07h1.45M95 540.31h1.36M63.86 542.02h0.88M62.77 533.19h1M61.32 547.29h0.86M97.96 567.64h1.1M88.63 553.66h1.27M93.28 551.78h1.41M84.56 555.23h1.4M67.79 565.63h1.38M59.78 556.76h0.89M59.73 539.18h1.13M74.31 540.99h1.05M69.29 568.96h1.37M51.37 571.44h1.14M80.16 543.16h0.9M73.31 545.55h0.87M80.45 549.5h1.39M57.14 543.44h1.16M56.66 540.19h1.37M73.59 562.19h1.37M69.04 551.63h0.89M92.06 539.11h0.99M63.21 560.48h1.29M65.43 534.66h1.46M89.25 545.28h1.03M87.19 541.34h1.03M80.57 548.51h1.33M62.44 531.52h1.26M84.73 546.55h0.83M92.91 545.99h1.09M77.27 536.81h1.32M80.05 548.02h1.18M77.48 531.43h1.39M92.1 565.75h1.09M63.39 563.09h0.81M67.1 533.94h1.37M69.63 552.49h0.87" stroke="#484848" stroke-width="1" fill="none"/>
<path d="M82.37 545.34h1.07M61.27 536.06h1.35M63.97 565.19h1.13M63.37 549.43h0.85M83.62 560.69h1.32M94.66 556.22h1.2M81.74 558.7h1.49M62.25 550.01h1.26M65.12 568.6h1.5M66.26 555.28h0.83M65 563.19h1.16M62.11 531.06h1.29M48.01 539.86h1.34M90.13 571.95h0.85M65.99 536.7h1.5M56.32 548.6h1.05M94.66 537.94h1.46M57.38 543.63h0.98M99.74 553.34h1.26M98.66 542.71h1.04M70.52 563.69h1.46M60.58 541.31h1.02M96.59 550h1.39M79.63 566.03h1.15M67.38 542.99h0.85M54.3 551.13h0.94M81.12 535.31h1.29M77.98 544.07h1.34M74.58 564.33h1.44M47.34 564.48h0.99M59.87 549.69h1.37M92.94 568.66h1.33M68.23 551.61h0.83M54.37 538.07h1.26M91.4 551.77h0.95M52.55 555.99h1.28M86.16 538.93h1.04M62.64 553.94h1.3M87.36 537.15h1M96.13 546.64h1.29M75.09 550.22h1.49M61.48 554.43h0.83M92.65 570.25h1.18M48.68 555.39h1.21M54.17 552.89h1.34M56.85 565.15h1.14M90.27 562.04h1.29M73.36 551.15h1.19M67.51 564.63h1.1M48.72 536.71h0.94M71.94 556.04h1.13M69.51 551.12h1.06M67.48 566.97h0.87M75.79 548.21h1.13M56.37 558.43h1.11M68.15 554.14h1.19M62.41 554.03h0.9M85.09 532.44h1.5M51.3 558.62h0.87M59 550.77h1.03M70.04 561.36h1.35" stroke="#666" stroke-width="1" fill="none"/>
<path d="M65.11 537.58h0.9M80.54 535.62h1.42M68.18 552.83h1.24M59.82 535.78h1.5M72.36 531.19h1.33M91.19 568.76h1.19M91.82 531.41h1.31M59.54 560.19h0.91M86.81 565h0.87M88.59 569.1h0.86M83.81 559.03h0.91M92.42 560.58h1.18M84.82 554.28h1.09M54.67 562.33h1.1M66.94 546.21h0.85M83 557.93h1.35M69.2 539.6h1.22M82.04 541.82h0.86M85.95 560.94h1.3M56.64 531.25h1.01M90.93 562.71h0.93M67.74 546.05h0.99M51.01 554.18h1.07M76.29 548.77h0.88M68.11 541.88h0.92M56.04 563.83h1.12M71.19 556.27h0.81M88.87 541.19h1.48M81.04 543.47h0.83M84.17 539.82h1M71.85 550.03h1.25M53.97 547.64h0.9M50.42 537.23h1.38M74.1 537.81h1.22M77.58 552.26h1.32M62.85 570.41h1.13M94.92 536.48h0.82M94.69 555.18h1.22M72.44 555.58h1.29" stroke="#8a8a8a" stroke-width="1" fill="none"/>
<path d="M48.07 538.72h1.02M85.8 549.48h1.26M96.2 551.17h1.04M58.53 556.37h1.14M78.03 532.84h1.4M71.7 546.54h1.22M65.52 547.1h1.41M98.22 569.02h0.93M55.94 552.03h1.19M54.33 557.83h1.49M63.02 554.71h1.04M76.91 537.81h0.83M93.4 533.75h0.97M81.32 549.86h1.47M65.41 543.63h0.87M74.98 551.42h1.16M65.55 540.6h1.07M53.98 568.49h1.46M91.93 558.99h0.93M55.79 547.79h1.37M85.8 571.34h1.05M65.04 552.31h0.85M55.08 548.44h0.97M67.48 567.09h1.22M78.87 565.28h0.81M64.9 535.3h1.14M92.06 545.59h1.16" stroke="#b4b4b4" stroke-width="1" fill="none"/>
<path d="M91.25 552.14h1.35M51.28 557.09h0.99M63.61 545.99h0.94M88.84 535.36h0.93M54.78 552.72h1.19M72.9 533.16h0.8M80.47 531.51h0.89M75.36 550.87h1.19M78.32 554.88h1.44M55.43 555.83h0.98M93.51 555.6h0.87M67.43 552.09h1.34M91.69 554.46h1.24" stroke="#e6e6e6" stroke-width="1" fill="none"/>
<filter id="n11" x="0" y="0" width="100%" height="100%" color-interpolation-filters="sRGB"><feTurbulence type="fractalNoise" baseFrequency="0.42" numOctaves="2" seed="106"/><feColorMatrix type="matrix" values="0.9 0 0 0 -0.45 0.9 0 0 0 -0.45 0.9 0 0 0 -0.45 0 0 0 0 1"/></filter>
<rect x="102" y="530" width="57" height="43" fill="#000" filter="url(#n11)"/>
<path d="M129.72 548.38h0.94M114.09 536.23h1.38M118.12 537.75h0.91M131.85 562.41h1.2M132.93 556.09h1.02M128.6 547.67h1.41M131.44 543.12h1.24M138.76 534.46h0.95M149.17 557.49h1.31M117.4 547.43h0.87M132.85 545.19h1.27M130.97 566.48h1.15M120.63 533.57h1.03M121.72 555.5h0.86M152.68 548.1h1.18M142.67 560.87h1.34M149.13 549.16h0.82M132.48 532.78h0.96M143.74 536.88h1.14M129.2 558.14h1.48M133.46 542.66h0.83M131.41 551.83h1.27M129.61 557.14h1.04M144.22 555.93h0.93M115.21 557.52h1.05M155.48 552.63h0.92M134.86 552.47h0.91M137.63 535.85h0.98M129.13 545.46h1.24M102.54 552.24h1.23M144.97 565.99h1.27M125.83 570.08h1.47M133.8 533.03h1.19M147.76 565.38h1.26M144.94 531.58h1.18M133.54 545.14h0.87M119.74 551.78h1.48M121.46 560.19h1.07M130.93 544h1.15M156.21 537.69h0.83M154.15 548.05h1.43M148.34 563.04h1.42M136.99 554.92h1.48M118.61 542.1h1.3M122.83 540.87h0.9M121.19 532.2h1M140.73 546.41h1.47M135.67 547.77h1.23M104.63 563.66h1.15M136.41 546.6h1.42M129.47 538.36h1.09M116.08 552.62h1.07M156.84 562.76h1.31M132.26 548.32h1.08M112.27 538.14h1.5M140.41 551h1.19M139.58 558.03h1.13M105.61 552.18h1.45M112.71 544.86h1.17M103.87 540.32h1.49M117.08 547.65h1.48M122.44 571.09h1.27M117.02 532.5h1.01M107.91 561.21h1.1M111.18 542.37h1.02M132.51 541.61h1.34M122.68 548.46h1.41M112.7 557.25h1.07M116.8 569.45h1.16M126.83 532.15h1.44M112.69 562.11h1.02M139.49 541.23h1M145.6 565.21h0.81M150.98 534.84h1.45M125.73 548.71h1.05M128.67 549h1.09M104.33 546.17h1.16M131.36 537.05h1.42M141.64 545.19h0.96M140.97 537.98h1.25M156.05 536.27h1.41M118.01 545.79h1.23M153.11 563.82h1.14M151.82 560.66h1.24M121.07 564.52h1.02M146.14 551.97h0.88M111.53 559.94h1.43M148.17 563.6h1.04M150.33 545.95h1.2M131.62 548.33h1.01M140.11 543.58h1.44M111.07 554.85h1.44M129.61 557.52h1.08M141.36 558.77h1.43M107.8 569.12h1.24M114.87 532.64h1.12M146 537.63h1.43M151.42 568.76h1.17M119.41 566.9h1.22M122.72 554.76h1.04M118.96 552.82h1.29M149.56 546.14h1.08" stroke="#2e2e2e" stroke-width="1" fill="none"/>
<path d="M112.66 571.01h1.26M140.4 561.71h0.9M117.47 551.12h1.37M107.49 553.11h1.31M107.92 544.52h1.18M123.8 556.22h0.84M126.84 554.09h0.82M157.01 571.01h1.44M129.3 531.58h0.87M106.93 562.39h1.12M152.79 550.21h1.14M130.57 556.51h0.87M145.52 533.42h0.96M141.52 564.24h1.17M132.33 535.34h1.09M105.8 559.84h1.44M113.7 548.92h1.17M121.91 553.53h1.45M134.38 548.21h1.33M155.64 564.5h1.45M157.07 552.61h1.24M150.81 569.96h1.27M149.61 558.11h1.36M155.46 558.58h1.24M122.12 562.88h0.82M135.48 543.41h1.11M141.66 556.48h0.93M138.99 549.57h0.93M152.93 553.08h1.46M109.86 552.16h1.14M117.84 553.11h1.04M116.56 554.2h1.05M150.85 543.33h1.02M148.78 543.84h1.11M120.15 552.63h1.39M143.22 545.36h0.98M112.69 561.81h1.09M149.56 559.63h1.1M151.73 539.39h0.85M141.32 531.37h1.26M141.57 547.05h0.83M148.13 536.51h1.24M152.35 560.81h1.48M115.4 556.09h1.47M155.31 542.64h1.44M130.81 548.15h1.26M112.27 570.05h1.29M147.72 555.54h1.16M126.32 551.93h1.32M106.7 557.85h0.83M128.96 551.21h0.99M114.63 548.12h0.99M125.31 539.52h0.89M142.77 533.27h1.49M104.11 554.85h1.45M103.46 554.76h1.03M112.83 558.85h1.36M136.38 540.23h1.39M129.92 549.13h0.98M143.13 551.56h0.89M139.67 534.8h1.24M106.21 568.28h1.44M129.81 540.33h1.21M126.87 544.8h0.95M104.6 544.93h1.41M121.5 555.48h1.08M127.82 566.63h1.12M138.86 547.17h0.92M115.56 562.42h1.31M116.56 545.15h1.5M132.66 556.85h1.49M103.97 560.58h1.35M132.07 562.66h0.94M123.41 562.98h1.02M124.48 554.08h1.01M118.31 553.05h0.96M145.2 548.89h0.87M139.32 548.9h1.02M151.4 569.22h1.36M157.42 554.35h1.01M112.83 569.79h1.11M110.74 553.77h1.32M146.02 553.43h1.08M123.41 558.78h1.08M131.84 570.06h1.2M130.64 558.94h0.9M110.23 554.72h1.04M119.91 538.1h0.97M154.35 539.15h1.45M142.99 551.63h0.88M145.37 548.55h0.8M138.73 542.85h0.8M109.3 547h1.22M144.58 565.58h1.17M104.46 552.74h1.41M109.75 540.77h1.25M113.92 571.73h0.86M132.29 551.8h0.92M139.41 536.93h0.92M119.37 569.37h1.46M140.99 568.01h1.46M120.37 535.34h1.31" stroke="#484848" stroke-width="1" fill="none"/>
<path d="M112.17 548.74h0.87M112.33 561.66h1.23M132.65 549.55h0.97M109.98 555.37h0.85M113.33 558.39h1.18M135.39 534.4h1.11M121.3 537.63h1.34M156.33 551.21h0.95M121.61 538.66h1.4M134.77 535.87h1.38M132.82 540.99h1.31M151.69 559.83h0.81M105.86 563.32h1.09M134.05 540.95h1.37M106.7 561.95h1.13M134.55 551.73h1.28M118.59 542.92h0.83M126.6 550.87h0.87M144.97 546.65h1.23M131.43 571.93h1.28M150.74 537.01h1.15M107.82 555.51h1.2M123.91 570.38h0.87M126.35 563.45h1.05M144.69 565.41h1.33M145.31 538.73h0.91M119.18 557.04h1.18M152.86 546.03h1.03M114.6 554.45h1.2M111.79 555.63h0.96M123.25 546.05h1.49M119.93 556.2h1.24M123.96 568.81h1.43M122.29 532.54h0.99M136.89 547.83h0.92M152.41 537.48h0.87M147.94 560.45h1.37M140.07 566.34h1.38M129.51 533.49h1.01M129.26 558.58h0.87M109.66 564.49h0.81M123.46 534.44h1.19M134.08 551.81h1.05M119.76 566.79h0.98M121.48 552.03h0.95M113.84 554.49h0.86M123.48 554.33h1.08M130.43 552.51h1.39M118.05 541.84h1.01M140.24 537.53h1M126.42 570.09h1.31M109.98 546.96h1.27M118.74 570.01h1M118.16 545.5h0.97M122.16 538.39h1.29M155.84 542.96h1.44M110.45 535.54h1.27M128.32 558.38h0.91M103.01 563.71h1.07M110.07 559.78h1.36M118.91 552.68h0.8M114.33 538.66h0.81M106.23 548.29h1.13M150.75 531.89h1.48M146.02 560.71h1.15M127.78 532.96h1.03M132.11 560.65h1.26M120.4 542.02h1.28M105.24 564.01h1.41M118.53 555.4h0.85M140.15 562.73h0.85M120.32 571.42h1.08M115.92 540.8h1.14M134.98 533.16h1.17M121.14 541.2h1.04M110.21 554.15h1.21M107.27 561.23h1.05M117.86 566.14h1.26M115.57 542.73h1.02M155.89 562.24h1.09M119.85 533.55h0.99M117.43 532.11h1.06M120.04 543.34h1.3M104.59 557.9h1.45M144.36 567.07h0.85M118.09 547.64h1.34M142.11 551.6h1.32M137.58 551h1.16M133.69 552.3h0.91M127.16 548.02h0.99M127.17 569.61h1.49M147.68 557.22h1.48M114.67 538.62h1.02M131.35 566.16h1.26" stroke="#666" stroke-width="1" fill="none"/>
<path d="M131.2 546.93h1.26M132.63 564.89h1.32M108.61 540.14h1.25M106.05 561.24h0.99M139.17 552.65h1.03M154.86 536.44h1.13M124.58 537.5h1.15M111.97 534.04h1.27M140.69 558.06h1.29M102.7 535.08h1.47M126.33 541.09h0.95M116.84 536.38h1.12M126.74 558.53h1.48M113.12 563.57h1.11M110.88 568.82h1.39M114.03 543.27h0.88M153.38 566.63h0.91M144.62 567.63h0.95M138.57 549.65h1.47M141.53 533.76h0.91M151.77 545.34h1.43M110.38 567.28h1.29M129.38 538.81h1.13M137.85 546.87h1.11M151.94 565.46h1.33M115.91 569.06h1.5M106.49 538.77h1.1M133.03 536.21h0.85M117.68 553.53h0.83M106.64 547.17h0.87M112.66 554.89h1.33M147.5 534.77h1.41M133.01 559.75h1.41M111.49 568.95h1.21M157 538.09h0.82M126.67 535.8h1.24M102.96 530.81h1.33M132.3 569.41h1.24M116 559.77h1.42M115.74 567.19h1.28M119.23 542.95h0.96M103.89 563.4h1.23M117.82 571.79h0.86M131.4 566.78h0.81M146.42 543.29h1.15M155.19 565.48h1.15M132.19 551.82h1.2M126.11 546.65h1.21M143.39 536.85h1.08M152.51 548.16h1.05M147.46 557.12h1.1M112.23 547.41h0.97M113.94 559.12h0.91M133.38 546.04h0.95" stroke="#8a8a8a" stroke-width="1" fill="none"/>
<path d="M141.53 568.11h1.37M103.11 544.84h0.84M114.55 551.66h1.44M119.15 555.5h1.45M106.77 536.37h1.19M111.57 566.99h0.96M135 560.51h1.13M150.95 539.69h1.5M135.52 556.16h1.11M142.16 558.57h0.89M125.22 564.69h1.11M116.79 539.45h1.49M128.68 560.19h0.8M137.2 562.44h1.38M126.48 549.36h1.26M129.73 569.58h1.14M142.33 570.65h1.49M114.53 550.31h0.84M108.05 541.62h1.5M141.58 565.51h1.16M129.12 535.41h0.85M141.44 531.91h0.89M113.47 532.66h1.14M136.88 540.24h1.13M125.27 567.67h1.17M114.66 557.86h1M131.47 556.61h0.99M141.88 569.26h1.02M106.06 538.78h1.39M133.36 552.33h0.92M106.35 563.2h1.35M156.6 554.02h1.1M141.67 537.2h0.93M137.68 555.2h1.12M120.53 532.87h1.3M156.23 536.56h0.89M115.04 565.53h1.1M140.33 564.29h1.42" stroke="#b4b4b4" stroke-width="1" fill="none"/>
<path d="M108.25 542.12h1.14M154.36 566.19h0.95M148.2 549.83h1.36M153.49 536.26h0.87M130.53 538.36h1.31M138.68 559.94h1.32" stroke="#e6e6e6" stroke-width="1" fill="none"/>
<filter id="n12" x="0" y="0" width="100%" height="100%" color-interpolation-filters="sRGB"><feTurbulence type="fractalNoise" baseFrequency="0.42" numOctaves="2" seed="107"/><feColorMatrix type="matrix" values="0.9 0 0 0 -0.45 0.9 0 0 0 -0.45 0.9 0 0 0 -0.45 0 0 0 0 1"/></filter>
<rect x="159" y="530" width="57" height="43" fill="#000" filter="url(#n12)"/>
<path d="M195.61 550.78h1.5M199.85 536.58h0.91M196.38 548.56h0.85M198.78 533.69h1.49M210.91 532.43h1.37M165.27 567.81h0.95M187.63 547.33h1.01M181.33 555.66h0.93M164.42 558.08h0.91M161.48 538.88h0.96M182.01 569.12h1.02M195.96 553.32h0.88M213.85 546.22h1.36M187.16 530.85h1.21M200.7 536.28h1.16M205.79 566.7h1.37M186.48 536.89h1M199.62 570.74h0.88M189.68 567.42h1.04M185.73 549.46h1.4M170.42 547.83h1.21M179.47 571.78h0.87M168.93 545.6h1.06M202.47 531.25h0.92M208.8 550.03h1.47M180.4 538.82h0.93M182.44 562.61h0.92M211.95 540.54h1.46M205.51 549.67h0.87M192.2 554.18h0.88M177.53 546.32h0.99M203.91 531.77h1.25M183.17 556.01h1.09M188.76 564.23h1.49M166.57 545.88h0.98M165.09 536.49h1.37M184.26 551.13h0.95M203.53 550.85h1.15M184.11 568.57h1.03M212.73 541.25h0.82M199.74 563.3h0.89M213.22 558.49h1.33M199.03 551.28h1.18M213.55 553.36h0.83M202.85 559.03h0.87M186.35 545.53h1.16M184.15 548.93h1.21M213.8 541.24h1.09M187.54 553.35h1.44M185.88 551.15h1.31M185.32 540.57h1.21M202.13 548.47h0.98M208.96 562.42h0.8M162.67 547.91h1.34M192 545.1h0.9M191.69 545.84h1.31M186.4 533.96h0.97M172.82 554.24h1.14M208.11 564.44h0.81M192.01 549.86h1.36M186.65 561.59h1.05M173.12 538.55h1.32M179.36 565.54h1.02M177.54 563.54h1.19M183.61 565.48h1.46M210.15 537.58h1.04M182.11 542.03h1.48M168.97 537.81h1.27M190.25 570.23h1.05M205.1 570.08h1.26M177.3 534.66h0.9M162.17 550.75h1.03M197.1 543.9h0.89M201.56 542.27h0.91M163.7 531.98h1.17M199.17 571.88h1.06M175.43 570.39h0.82" stroke="#2e2e2e" stroke-width="1" fill="none"/>
<path d="M186.51 537.15h1.1M206.54 540.55h1M203.35 567.04h1.07M193.11 554.24h1.32M167.56 530.82h1.46M210.18 552.01h1.08M207.76 541.33h0.82M170.04 547.16h1.23M195.08 541.54h0.99M185.16 543.26h1.16M161.7 545.42h1.23M172.57 549.24h0.9M176.95 547.92h1.35M182.28 551.8h0.87M171.73 548.16h1.34M160 561.09h1.37M191.11 540.15h1.23M212.99 558.61h1.35M205.43 562.99h1.07M209.82 549.22h1.39M205.93 536.84h1.14M205.69 559.17h1.24M182.05 553.31h0.96M180.79 554.15h1M206.6 537.84h1.17M175.45 564.31h1.49M172.78 531.55h1.39M171.73 555.17h0.87M202.62 553.25h1.41M206.1 567.31h1.29M192.9 551.11h0.88M165.07 543.53h1.14M214.28 561.34h1.09M209.02 549.7h1.25M185.82 552.88h1.4M181.45 533.92h0.86M159.51 544.4h1.28M182.62 571.86h0.83M169.64 552.71h1.15M193.15 545.78h1.31M202.22 540.43h1.42M211.78 548.59h1.01M199.78 558.98h1.5M214.44 562.42h1.19M162.79 560.07h1.34M160.41 561.94h1.43M159.78 559.03h1.31M183.9 550.79h0.83M184.55 549.08h0.92M170.3 548.51h1.26M207.18 563.41h1.45M189.49 563.36h1.19M161.32 541.29h1.04M179.64 546.6h1.42M170.22 557.51h1.41M181.52 538.28h1.17M180.44 549.06h1.19M176.94 559.7h0.99M211.52 569.84h1.46M186.21 561.23h0.95M201.56 539.64h1.21M201.68 560.99h1.38M169.7 562.83h0.83M178.63 552.37h1.29M172.04 543.35h1.23M204.25 534.31h0.84M161.28 569.01h0.84M208.2 550.71h1.09M163.03 561.6h1.46M193.99 551.57h0.95M192.95 531.73h1.18M168.81 546.37h1.42M196.99 551.08h0.9M182.53 557h1.49M193.6 531.7h1.07M207.68 547.18h1.15M190.97 560.8h1.04M187.5 566.41h0.94M167.67 552.94h1.12M195.97 570.93h1.16M193.9 543.8h0.87M161.69 542.94h1.21M206.34 561.89h0.85M199.4 548.79h0.82M189.99 556.14h1.16M209.41 547.99h1.44M214.23 562.03h0.87M176.13 569.58h1.02M210.54 571.56h1.28M160.1 533.23h1.48M166.22 536.41h0.81M168.64 565.4h1.08M211.98 555.44h1.05M167.34 560.36h1.05M192.94 558.19h1.4M176.22 571.17h1.38M176.12 553.86h0.92M202.52 553.67h1.32M207.49 570.32h0.83M193.91 542.21h0.93M187.79 538.88h1.09M190.78 533.58h1.02M178.43 541.11h0.87M167.79 537.35h1.5M200.45 547.77h1.18M187.52 552.66h0.89M161.13 551.15h1M210.91 555.09h0.94M172.39 565.78h1.09M171.08 558.94h1.13M194.73 534.27h1.16M174.82 547.4h1.11M193.04 553.95h1.19M203.5 557.3h0.84M198.12 557.33h1.01M210.97 564.45h1.4M167.5 566.31h1.27" stroke="#484848" stroke-width="1" fill="none"/>
<path d="M200.94 541.15h1.43M174.78 543.78h1.45M175.78 563.05h1.42M199.51 543.16h1.23M160.05 547.38h1.23M173.49 546.76h1.41M207.18 566.52h0.84M184.63 536.41h0.97M181.57 533.51h1.38M183.27 565.92h1.38M211.84 559.36h1.24M174.54 560.77h0.85M160.11 565.19h1M167.11 533.44h0.93M166.82 563.57h1.34M187.66 544.99h0.97M174.66 560.74h1.36M162.66 532.55h1.27M199.13 567.35h1.49M199.9 549.44h1.29M183.53 571.01h0.93M188.38 543.78h1.02M166.99 559.49h1.07M168.2 569.02h0.84M206.22 556.7h1.07M183.84 563.94h1.35M176.13 554.54h1.48M205.39 533.44h1.02M189.84 544.64h1.24M205.52 558.73h0.84M163.44 569.51h1.47M163.66 563.81h1.17M163.93 534.27h1.37M183.46 560h1.49M176.38 549.81h0.97M200.38 554.98h1.1M194.71 552.37h1.25M200.42 568.33h1.34M189.55 566.95h1.46M163.86 533.05h1.08M166.95 542.58h1.17M171.63 536.63h1.42M207.43 563.32h1.2M178.43 541.4h0.8M180.82 555.59h1.26M172.11 535.05h1.04M192.26 544.61h0.83M209.72 549.09h1.14M213.13 566.97h1.3M194.6 565.72h1.17M211.01 551.32h1.21M188.76 556.22h1.09M188.1 534.83h1.12M162.73 543.4h1.03M180.43 531.14h1.4M173.65 543.52h1.14M159.48 560.7h1.45M207.06 559.02h1.03M202.9 543.75h0.85M178.74 543.14h0.92M168.43 549.31h1.18M195.77 539.3h0.91M211.88 553.67h0.87M178.94 550.63h0.9M198.97 561.54h1.21M188.41 538.02h1.32M161.18 547.9h1.13M178.24 549.64h1.09M188.13 534.56h1.41M168.57 532.53h1.12M178.07 534.22h1.11M172.98 562.97h1M163.71 539.66h1.29M164.84 550.2h1.2M172.7 571.26h1.33M181.49 536.04h1.06M202.48 536.93h1.08M178.92 549.71h0.86M186.92 533.46h1.07M173.88 541.32h1.04M209.43 569.56h1.15M194.02 531.88h1.02M212.04 561.72h1.23M198.48 563.05h0.91M177.23 540.58h1.08M166.94 537.25h1.15M175.1 558.5h1.26M195.56 550.34h1.17M170.1 541.68h0.96M166.51 540.23h1.19M211.4 554.11h1.22M162.67 559.53h1.5" stroke="#666" stroke-width="1" fill="none"/>
<path d="M213.18 558.71h1.15M182.14 547.68h1.48M212.87 556.54h1.21M190.61 533.73h1.3M209.99 531.64h1.42M202.47 564.65h1.25M159.37 561.15h1.13M189.84 559.51h0.81M171.61 561.53h1.14M161.43 568.97h0.84M184.45 564h1.47M167.31 549.43h0.9M162.92 553.31h1.1M185.92 546.8h1.34M214.48 563.19h0.86M195.48 558.5h1.45M204.54 545.48h1.19M192.03 547.32h1.12M178.19 550.45h1.26M175.47 559.22h1.18M183.73 556.82h0.95M179.86 561.52h1.1M167.24 539.67h0.95M191.47 569.66h0.98M205.37 551.8h1.46M206.66 570.36h1.34M179.01 547.52h0.97M191.84 550.93h1.08M210.61 534.85h1.2M183.19 562.4h1.02M202.92 562.65h1.17M201.16 539.88h0.9M200.77 534.61h1M162.81 544.62h1.08M162.43 547.74h1.28M174.83 546.92h1.32M189.77 534.41h0.86M175.48 570.97h1.16M172.5 543.99h0.9M167.82 539.02h1.47M204.94 542.21h1.44M203.64 541.8h0.83M202.21 547.39h1.2M174.53 545.66h1.04M209.99 535.02h0.88M168.62 531.97h1.41M214.44 534.81h1.37M209.49 537.58h1.02M189.53 536.93h1.26M173.26 532.22h0.81M194.25 554.2h0.95M162.44 559.19h1.4M204.16 542.43h1.13M212.89 567.9h1.4M207.72 540.97h0.96M187.44 549.22h1.05M191.98 538.23h1M171.66 551.43h1.42M178.47 545.24h1.06M199.42 531.61h1.18M195.37 534.4h0.87" stroke="#8a8a8a" stroke-width="1" fill="none"/>
<path d="M196.22 548.74h1.3M180.55 554.04h1.11M205.48 543.81h1.19M203.5 537.54h1.15M209.8 553.32h0.84M179.11 540.08h0.81M211.1 570.81h1.4M196.27 570.27h0.85M183 546.7h0.94M180.82 552.48h1M182.8 554.77h1.44M208.35 548.87h0.88M211.12 542.22h0.93M207.13 542.31h1.42M207 547.83h0.9M198.02 531.28h1.08M170.22 533.6h1.02M204.68 538.07h1.26M178.53 547.06h1.49M165.66 534.32h1.24M186.66 533.54h0.94M191.81 556.86h1.21M163.1 567.83h1.45M194.15 540.62h1.21M197.05 561.67h0.8M190.74 535.38h1.5M184.53 560.96h1.02M167.07 551.3h1.31M172.69 553.74h1.15M191.44 557.46h1.4M192.76 533.33h1.22M195.2 565.42h0.87M172.04 551.37h1.25M190.21 567.16h1.42M164.81 535.33h1.39M176.57 533.38h0.93M173.14 535.62h0.99M179.06 536.03h0.82M180.85 538.77h1.21M175 558.71h1.2" stroke="#b4b4b4" stroke-width="1" fill="none"/>
<path d="M165.81 532.24h1.47M194.76 539.52h1.35M195.04 563.08h0.85M174.46 554.09h0.95M196.11 566.77h1.03M178.75 555.68h1.23M174.5 549.42h1.26M194.11 535.88h1.2M176.79 560.2h0.96" stroke="#e6e6e6" stroke-width="1" fill="none"/>
<filter id="n13" x="0" y="0" width="100%" height="100%" color-interpolation-filters="sRGB"><feTurbulence type="fractalNoise" baseFrequency="0.42" numOctaves="2" seed="108"/><feColorMatrix type="matrix" values="0.8 0 0 0 -0.41 0.8 0 0 0 -0.41 0.8 0 0 0 -0.41 0 0 0 0 1"/></filter>
<rect x="216" y="530" width="55" height="43" fill="#000" filter="url(#n13)"/>
<path d="M236.79 542.25h0.95M227.05 566.15h1.45M261.64 538.7h1.31M248.99 567.7h0.85M269.04 546.35h1.22M246.08 567.68h1.26M219 543.69h0.96M243.82 554.39h1.32M254.77 534.36h0.88M231.03 554.13h0.99M231.16 551.5h1.4M232.36 531.7h1.45M220.94 536.23h1.35M247.3 544.34h1.02M224.64 560.95h1.08M232.98 552.78h1.27M227.06 570.47h0.84M233.4 536.72h1.49M228.52 534.91h1.23M266.4 533.56h1.47M264.23 549.43h1M244.2 554.37h1.05M245.67 548.14h1.22M255.92 568.18h1.17M251.58 531.05h1.21M255.09 553.16h1.38M233.81 537.72h1.01M246.08 561.42h1.3M256.04 544.55h1.06M260.64 542.63h1.16M225.77 549.39h1.33M220.26 546.61h1.22M236.71 550.85h1.16M220 551.19h1.22M237.26 546.16h1.32M264.62 550.86h1.16M257.76 537h1.07M231.42 537.47h0.89M246.62 531.59h1.41M249.34 532.48h1.3M243.01 555.58h0.91M224.99 559.24h0.95M257.62 531.41h1.12M244.81 533.43h1.28M218.22 569.02h1.06M261.03 539.58h1.06M262.13 555.06h1.08M251.75 549.59h1.37M217.61 541.73h1M233.28 563.69h1.44M232.74 534.86h0.88M247.39 535h0.84M266.15 542.62h1.08M242.33 532.5h1.28M221.95 557.63h1.39M256.94 532.96h1.26M251.26 534.79h0.83M223.9 571.81h1.2M239.37 543.92h0.85M238.92 531.36h0.84M254.54 534.78h1.2M251.28 543.13h1.48M264.8 547.72h0.87M234.01 550.9h1.45M260.64 559.23h1.14M257.8 566.05h0.87M253.9 547.4h1.07M250.65 531.48h1.12M252.87 540.36h0.88M260.64 541.85h1.38M251.06 545.05h0.83M259.4 545.98h1.18M251.91 537.84h1.06M250.26 536.76h0.95M231.46 547.28h1.27M221.8 537.55h1.14M243.79 534.7h1.17M223.56 533.94h1.37M265.08 532.15h0.86M220.56 551.3h0.85M232.48 556.66h0.98M217.75 538.58h0.99M248.2 569.17h1.34M232.33 563.58h1.49M249.92 548.02h0.85M242.89 564.07h1.06M228.23 554.23h1.36M256.54 533.94h1.2M240 565.25h0.84M248.27 541.12h1.23" stroke="#2e2e2e" stroke-width="1" fill="none"/>
<path d="M264.28 567.43h1.46M228.78 548.96h1.35M242.09 542.9h0.93M251.38 555.83h1.24M264.46 545.45h0.9M266.25 563.63h1.11M251.29 544.03h1M248.94 537.99h0.9M232.07 542.83h1.36M253.88 561.17h1.36M251.28 531.84h0.9M220.75 548.76h1.03M230.43 537.62h0.82M216.69 561.86h0.94M223.37 531.75h1.32M225.59 567.71h1.21M253.7 545.85h1.06M229.25 533.73h1.23M268.7 546.63h0.91M263.11 538.23h1.26M247.47 566.44h1.16M225.48 542.72h1.06M236.37 551.02h1.13M264.81 533.47h1.11M245.1 546.81h1.4M238.18 551.28h1.25M232.66 534.69h1.02M253.66 562.13h0.82M238.85 559.74h1.46M268.53 537.41h1.15M241.54 544.12h1.41M230.14 536.17h1.03M219.71 546.25h0.93M225.14 535.47h1.25M264.63 531.72h1.46M249.71 555.71h1.35M228.81 543.61h1.16M229.02 532.22h1.2M259.41 548.26h1.34M241.42 536.29h1.07M217.29 539.97h1.5M250.97 551.21h1.03M256.19 553.6h0.9M268.65 539.9h1.32M254.7 536.59h1.33M268.37 536.01h0.86M264.88 566.61h0.87M264.78 551.9h1.11M257.11 560.63h0.89M262.57 545.35h1.06M269.5 561.13h1.09M250.19 535.41h0.93M227 549.09h1.15M225.05 558.11h0.84M251 549.05h1.23M263.8 532.29h0.89M230.76 555.16h1.42M234.45 551.81h1.12M263.25 532.82h1.34M238.4 551.24h1.03M249.26 543.32h1.04M241.62 560.43h1.14M253.02 545.2h1.17M216.6 538.8h1.35M252.47 549.98h1.47M251.83 533.83h1.2M265.14 532h1.11M224.75 540.66h1.36M244.77 549.37h0.85M261.82 543.13h1.5M232.41 534.45h0.86M236.31 533.54h1.48M242.19 531h1.12M218.36 530.83h0.98M238.03 537.32h0.93M221.39 538.23h1.43M242.55 551.38h1.14" stroke="#484848" stroke-width="1" fill="none"/>
<path d="M265.61 557.51h1.11M226.51 533.92h1.24M255.13 535.44h1.49M254.01 567.73h1.49M238.11 541.61h1.22M250.71 566.31h1.1M253.36 547.39h1.36M258.18 531.73h1.43M251.09 565.65h1.5M249.27 544.61h0.96M262.73 565.77h1.47M248.06 550.78h1.4M231.39 568.17h0.93M241.77 555.47h1.08M247.17 532.05h0.92M218.92 547.09h1.33M218.8 533.02h0.84M224.65 535.02h1.36M237.15 544.6h1.26M234.09 546.53h1.45M227.24 557.74h1.19M252.5 542.67h1.36M268.12 561.27h1.49M266.05 550.28h1.14M260.72 539.32h0.91M252.87 531.85h1.5M216.63 534.67h1.25M239.09 542.22h1.27M234.32 547.39h1.21M242.17 545.8h1.25M253.04 550.82h0.86M218.14 542.54h1.11M253.13 558.35h1.05M257.95 531.53h1.34M228.9 551.16h1.43M222.7 550.26h0.93M228.04 536.04h0.97M245.25 538.28h1.03M250.4 559.96h1.34M265.54 537.77h1.3M242.18 555.5h1.22M252.07 562.13h1.46M238.39 532.68h1.06M216.51 531.31h1.42M217.61 550h1.2M216.71 538.19h1.46M230.48 549.73h0.81M236.63 557.45h1.39M231.05 532.14h1.02M249.74 568.48h0.84M241.51 548.55h0.81M220.5 540.42h1.15M265.42 538.55h1.33M248.35 535.61h1.12" stroke="#666" stroke-width="1" fill="none"/>
<path d="M247.33 547.53h1.02M223.84 536.13h0.8M266.35 562.89h1.47M232.09 538.43h1.15M248.54 544.87h1.02M263.59 533.39h1.34M260.05 543.61h1.06M233.34 549.92h1.33M230.82 548.31h1.27M229.77 531.83h0.88M221.45 559.14h0.99M258.97 550.98h1.1M216.68 541.7h0.88M241.16 538h1.12M254.61 540.92h1.13M256.18 536.62h1.25M240.09 544.59h1.35M237.22 534.41h1.39M222.17 547.75h0.95M219.76 555.23h0.83M262.59 536.81h1.18M223 562.82h1.21M238.38 538.9h1.42M218.12 544.31h1.39M263.34 546.89h1.02M229.52 538.41h1.49M265.09 537.56h1.26M233.05 552.85h0.84M242.93 549.33h1.22M263.86 544.92h1.29M251.22 531.95h1.31M265.49 556.21h1.26M257.3 572.12h1.13M253.86 531.94h1.26M224.07 534.71h0.94M234.38 545.05h1.1M220.84 532.57h1.33M229.41 537.69h0.95M231.16 545.86h1.44" stroke="#8a8a8a" stroke-width="1" fill="none"/>
<path d="M265.09 535.03h1.07M240.13 545.11h1.46M221.92 533.55h1.1M259.96 539.99h1.29M261.95 550.93h1.02M234.14 550.56h1.13M234.99 543.68h1.29M244.58 546.26h1.05M233.06 561h1.42M253.38 542.71h1.3M224.66 562.49h1.46M258.11 536.83h0.96M242.62 539.35h1.29M260.38 545.65h0.83M219.79 539.9h1.49M224.12 544.58h1.46M241.42 531.97h1.05M246.63 562.51h1.11M253.3 540.99h0.92M224.28 565.08h0.88" stroke="#b4b4b4" stroke-width="1" fill="none"/>
<path d="M222.19 533.73h1.16M243.12 553.52h1.49M228.1 546.41h0.84M252.18 536.37h1.02M217.13 540.02h1.26M225.06 532.65h1.42" stroke="#e6e6e6" stroke-width="1" fill="none"/>
<filter id="n14" x="0" y="0" width="100%" height="100%" color-interpolation-filters="sRGB"><feTurbulence type="fractalNoise" baseFrequency="0.42" numOctaves="2" seed="109"/><feColorMatrix type="matrix" values="0.2 0 0 0 -0.1 0.2 0 0 0 -0.1 0.2 0 0 0 -0.1 0 0 0 0 1"/></filter>
<rect x="271" y="530" width="59" height="43" fill="#000" filter="url(#n14)"/>
<path d="M287.29 549.81h0.87M300.03 570.39h1.16M316.48 549.47h1.39M300.84 533.52h1.34M312.98 556.57h1.31M327.89 566.9h1.11M295.54 537.15h1.48M293.99 546.91h1.49M308.41 563.75h0.83M297.92 555.06h1.45M316.06 548.12h1.35M314.58 545.74h1.23M305.91 544.81h0.97M286.31 562.6h1.4M324.49 541.92h1.31M295.75 565.24h0.96M325.7 567.1h0.85M273.67 561.59h1.3M277.82 571.36h1.07M285.75 536.52h1.27M279.44 548.17h1.34M302.1 559.4h0.96M284.12 570.55h1.43M274.43 543.76h0.96M320.22 536.34h0.97M293.1 535.79h1.16M325.62 557.42h1.44M304.48 554.4h1.17M316.91 532.94h1.44M272.04 570.95h1.16M307.16 555.25h1.46M288.3 530.94h1.48M284.98 544.99h1.16M291.13 560.65h0.88M273.47 565.82h1.39M324.53 533.21h0.99M280.96 570.07h1.2M314.96 554.11h1.19M305.85 561.88h1.47M290.05 552.29h1.44M319.87 561.2h1.21M312.28 543.85h1.1M326.76 533.63h0.9M272.85 560.06h0.98M304.7 554.24h1.3M316.49 563.29h1.45M326.9 561.73h0.92M293.84 534.23h1.17M309.04 538.75h1.24M271.97 534.5h1.26M327.01 539.99h1.41M282.81 565.02h1.37M319.01 532.04h1.25M278.06 537.66h1.39M295.26 538.74h0.9" stroke="#2e2e2e" stroke-width="1" fill="none"/>
<path d="M280.86 567.62h1.18M323.59 559.36h1.17M299.59 558.47h1.09M304.4 539.09h1.29M325.29 561.63h1.29M276.86 538.09h1.24M280.12 535.76h1.39M306.95 564.43h0.81M328.32 556.76h1.27M280.6 534.75h1.13M311.53 559.79h1.29M272.64 533.26h0.97M328.02 572.2h1.29M310.11 559.94h1M282.72 546.47h1.33M316.41 534.42h1.11M281.28 537.16h1.08M294.57 548.9h1.28M304.36 541.35h0.89" stroke="#484848" stroke-width="1" fill="none"/>
<path d="M310.68 563.29h1.46M317.33 538.09h0.95M292.93 553.9h1.25" stroke="#666" stroke-width="1" fill="none"/>
</g>
<line x1="102.6" y1="482.9" x2="102.6" y2="525.6" stroke="#a0a0a0" stroke-width="0.9"/>
<line x1="102.6" y1="530.3" x2="102.6" y2="573.1" stroke="#8a8a8a" stroke-width="0.9"/>
<line x1="159.6" y1="482.9" x2="159.6" y2="525.6" stroke="#a0a0a0" stroke-width="0.9"/>
<line x1="159.6" y1="530.3" x2="159.6" y2="573.1" stroke="#8a8a8a" stroke-width="0.9"/>
<line x1="216.4" y1="482.9" x2="216.4" y2="525.6" stroke="#a0a0a0" stroke-width="0.9"/>
<line x1="216.4" y1="530.3" x2="216.4" y2="573.1" stroke="#8a8a8a" stroke-width="0.9"/>
<line x1="271.8" y1="482.9" x2="271.8" y2="525.6" stroke="#a0a0a0" stroke-width="0.9"/>
<line x1="271.8" y1="530.3" x2="271.8" y2="573.1" stroke="#8a8a8a" stroke-width="0.9"/>
<linearGradient id="fd" x1="0" y1="0" x2="0" y2="1"><stop offset="0.4" stop-color="#000" stop-opacity="0"/><stop offset="0.7" stop-color="#000" stop-opacity="0.5"/></linearGradient>
<rect x="216" y="530" width="55" height="43" fill="url(#fd)"/>
<rect x="310" y="518.4" width="6.6" height="1.5" fill="#e8e8e8"/>
<rect x="310" y="566.3" width="6.6" height="1.5" fill="#e8e8e8"/>
<line x1="290.5" y1="527.9" x2="324.08" y2="527.9" stroke="#111" stroke-width="1.2"/>
<path d="M327.2 527.9 L322 525.9 L323.56 527.9 L322 529.9 Z" fill="#111"/>
<text transform="translate(70 477.2)" font-size="6.4" fill="#1a1a1a" text-anchor="middle" stroke="#1a1a1a" stroke-width="0.13">0 s</text>
<text transform="translate(126 477.2)" font-size="6.4" fill="#1a1a1a" text-anchor="middle" stroke="#1a1a1a" stroke-width="0.13">60 s</text>
<text transform="translate(187.6 477.2)" font-size="6.4" fill="#1a1a1a" text-anchor="middle" stroke="#1a1a1a" stroke-width="0.13">120 s</text>
<text transform="translate(243.2 477.2)" font-size="6.4" fill="#1a1a1a" text-anchor="middle" stroke="#1a1a1a" stroke-width="0.13">180 s</text>
<text transform="translate(300.1 477.2)" font-size="6.4" fill="#1a1a1a" text-anchor="middle" stroke="#1a1a1a" stroke-width="0.13">240 s</text>
<text transform="translate(43.3 506.2) scale(0.945 1)" font-size="6.4" fill="#1a1a1a" text-anchor="end" stroke="#1a1a1a" stroke-width="0.13">WT</text>
<text transform="translate(8.5 554.4) scale(1.083 1)" font-size="6.4" font-style="italic" fill="#1a1a1a" stroke="#1a1a1a" stroke-width="0.13">Ptpn11</text>
<text transform="translate(30.11 552.22) scale(1.184 1)" font-size="3.33" font-style="italic" fill="#1a1a1a" stroke="#1a1a1a" stroke-width="0.13">D61G/+</text>
<line x1="48" y1="578.1" x2="213.4" y2="578.1" stroke="#111" stroke-width="1.5"/>
<line x1="220.6" y1="578.1" x2="330.2" y2="578.1" stroke="#111" stroke-width="1.5"/>
<text transform="translate(130.8 587.2) scale(0.971 1)" font-size="6.6" fill="#1a1a1a" text-anchor="middle" stroke="#1a1a1a" stroke-width="0.13">Rolling</text>
<text transform="translate(275 587.2) scale(0.995 1)" font-size="6.6" fill="#1a1a1a" text-anchor="middle" stroke="#1a1a1a" stroke-width="0.13">Firm adhesion</text>
<line x1="217.1" y1="591.3" x2="217.1" y2="577.96" stroke="#111" stroke-width="1.15"/>
<path d="M217.1 575.8 L215.2 579.4 L217.1 578.32 L219 579.4 Z" fill="#111"/>
<text transform="translate(217.3 600.6) scale(0.938 1)" font-size="6.6" fill="#1a1a1a" text-anchor="middle" stroke="#1a1a1a" stroke-width="0.13">Wash</text>
<line x1="383.95" y1="552.4" x2="383.95" y2="548.3" stroke="#111" stroke-width="1.15"/>
<line x1="382.4" y1="548.6" x2="385.5" y2="548.6" stroke="#111" stroke-width="1.15"/>
<rect x="380.5" y="552.1" width="6.9" height="18.4" fill="#a50029"/>
<line x1="392.6" y1="553.1" x2="392.6" y2="549.3" stroke="#111" stroke-width="1.15"/>
<line x1="391.05" y1="549.6" x2="394.15" y2="549.6" stroke="#111" stroke-width="1.15"/>
<rect x="389.2" y="552.8" width="6.8" height="17.7" fill="#2e4a7c"/>
<line x1="406.8" y1="533.7" x2="406.8" y2="530.6" stroke="#111" stroke-width="1.15"/>
<line x1="405.23" y1="530.9" x2="408.38" y2="530.9" stroke="#111" stroke-width="1.15"/>
<rect x="403.3" y="533.4" width="7" height="37.1" fill="#a50029"/>
<line x1="415.5" y1="524" x2="415.5" y2="516.5" stroke="#111" stroke-width="1.15"/>
<line x1="413.93" y1="516.8" x2="417.07" y2="516.8" stroke="#111" stroke-width="1.15"/>
<rect x="412" y="523.7" width="7" height="46.8" fill="#2e4a7c"/>
<line x1="430" y1="516.4" x2="430" y2="513" stroke="#111" stroke-width="1.15"/>
<line x1="428.43" y1="513.3" x2="431.57" y2="513.3" stroke="#111" stroke-width="1.15"/>
<rect x="426.5" y="516.1" width="7" height="54.4" fill="#a50029"/>
<line x1="438.45" y1="515.3" x2="438.45" y2="506" stroke="#111" stroke-width="1.15"/>
<line x1="436.81" y1="506.3" x2="440.09" y2="506.3" stroke="#111" stroke-width="1.15"/>
<rect x="434.8" y="515" width="7.3" height="55.5" fill="#2e4a7c"/>
<line x1="452.85" y1="524.3" x2="452.85" y2="515" stroke="#111" stroke-width="1.15"/>
<line x1="451.3" y1="515.3" x2="454.4" y2="515.3" stroke="#111" stroke-width="1.15"/>
<rect x="449.4" y="524" width="6.9" height="46.5" fill="#a50029"/>
<line x1="461.5" y1="549.3" x2="461.5" y2="544.2" stroke="#111" stroke-width="1.15"/>
<line x1="459.93" y1="544.5" x2="463.07" y2="544.5" stroke="#111" stroke-width="1.15"/>
<rect x="458" y="549" width="7" height="21.5" fill="#2e4a7c"/>
<line x1="475.7" y1="541.7" x2="475.7" y2="533.8" stroke="#111" stroke-width="1.15"/>
<line x1="474.12" y1="534.1" x2="477.27" y2="534.1" stroke="#111" stroke-width="1.15"/>
<rect x="472.2" y="541.4" width="7" height="29.1" fill="#a50029"/>
<line x1="484.35" y1="557.6" x2="484.35" y2="554.2" stroke="#111" stroke-width="1.15"/>
<line x1="482.8" y1="554.5" x2="485.9" y2="554.5" stroke="#111" stroke-width="1.15"/>
<rect x="480.9" y="557.3" width="6.9" height="13.2" fill="#2e4a7c"/>
<line x1="377" y1="490.8" x2="377" y2="571.1" stroke="#111" stroke-width="1.5"/>
<line x1="373.6" y1="570.5" x2="377" y2="570.5" stroke="#111" stroke-width="1.15"/>
<text transform="translate(369.4 573.13) scale(0.900 1)" font-size="7.3" fill="#1a1a1a" text-anchor="end" stroke="#1a1a1a" stroke-width="0.22">0</text>
<line x1="373.6" y1="551.4" x2="377" y2="551.4" stroke="#111" stroke-width="1.15"/>
<text transform="translate(369.4 554.03) scale(0.900 1)" font-size="7.3" fill="#1a1a1a" text-anchor="end" stroke="#1a1a1a" stroke-width="0.22">5</text>
<line x1="373.6" y1="532.3" x2="377" y2="532.3" stroke="#111" stroke-width="1.15"/>
<text transform="translate(369.4 534.93) scale(0.900 1)" font-size="7.3" fill="#1a1a1a" text-anchor="end" stroke="#1a1a1a" stroke-width="0.22">10</text>
<line x1="373.6" y1="513.2" x2="377" y2="513.2" stroke="#111" stroke-width="1.15"/>
<text transform="translate(369.4 515.83) scale(0.900 1)" font-size="7.3" fill="#1a1a1a" text-anchor="end" stroke="#1a1a1a" stroke-width="0.22">15</text>
<line x1="373.6" y1="494.1" x2="377" y2="494.1" stroke="#111" stroke-width="1.15"/>
<text transform="translate(369.4 496.73) scale(0.900 1)" font-size="7.3" fill="#1a1a1a" text-anchor="end" stroke="#1a1a1a" stroke-width="0.22">20</text>
<line x1="373.6" y1="570.5" x2="491.6" y2="570.5" stroke="#111" stroke-width="1.3"/>
<line x1="388.1" y1="570.5" x2="388.1" y2="573.1" stroke="#111" stroke-width="1"/>
<line x1="411" y1="570.5" x2="411" y2="573.1" stroke="#111" stroke-width="1"/>
<line x1="434.2" y1="570.5" x2="434.2" y2="573.1" stroke="#111" stroke-width="1"/>
<line x1="457" y1="570.5" x2="457" y2="573.1" stroke="#111" stroke-width="1"/>
<line x1="480.2" y1="570.5" x2="480.2" y2="573.1" stroke="#111" stroke-width="1"/>
<text transform="translate(388.1 580.8)" font-size="6.9" fill="#1a1a1a" text-anchor="middle" stroke="#1a1a1a" stroke-width="0.13">0</text>
<text transform="translate(411 580.8)" font-size="6.9" fill="#1a1a1a" text-anchor="middle" stroke="#1a1a1a" stroke-width="0.13">60</text>
<text transform="translate(434.2 580.8)" font-size="6.9" fill="#1a1a1a" text-anchor="middle" stroke="#1a1a1a" stroke-width="0.13">120</text>
<text transform="translate(457 580.8)" font-size="6.9" fill="#1a1a1a" text-anchor="middle" stroke="#1a1a1a" stroke-width="0.13">180</text>
<text transform="translate(480.2 580.8)" font-size="6.9" fill="#1a1a1a" text-anchor="middle" stroke="#1a1a1a" stroke-width="0.13">240</text>
<text transform="translate(434.2 593.4) scale(0.762 1)" font-size="8.8" fill="#1a1a1a" text-anchor="middle" stroke="#1a1a1a" stroke-width="0.22">Time (sec)</text>
<text transform="translate(356.8 562.6) rotate(-90) scale(0.785 1)" font-size="8.8" fill="#1a1a1a" stroke="#1a1a1a" stroke-width="0.22">Surface covered (%)</text>
<rect x="379.3" y="472.3" width="9.3" height="5.1" fill="#a50029"/>
<rect x="379.3" y="481" width="9.3" height="5.2" fill="#2e4a7c"/>
<text transform="translate(392.4 476.7) scale(0.952 1)" font-size="5.2" fill="#1a1a1a" stroke="#1a1a1a" stroke-width="0.13">WT</text>
<text transform="translate(392.4 485.9) scale(1.069 1)" font-size="5" font-style="italic" fill="#1a1a1a" stroke="#1a1a1a" stroke-width="0.13">Ptpn11</text>
<text transform="translate(409.09 484.2) scale(1.164 1)" font-size="2.6" font-style="italic" fill="#1a1a1a" stroke="#1a1a1a" stroke-width="0.13">D61G/+</text>
<text transform="translate(447.8 470.2) scale(0.959 1)" font-size="9.6" fill="#1a1a1a" text-anchor="middle" stroke="#1a1a1a" stroke-width="0.13">Wash</text>
<line x1="445.6" y1="476.6" x2="445.6" y2="492.88" stroke="#111" stroke-width="1"/>
<path d="M445.6 494.8 L444.1 491.6 L445.6 492.56 L447.1 491.6 Z" fill="#111"/>
<path d="M453.5 512.8L453.5 509.7L461.1 509.7L461.1 512.8" fill="none" stroke="#111" stroke-width="1.2" stroke-linejoin="miter" stroke-linecap="butt"/>
<text transform="translate(457.3 504.7)" font-size="5" font-weight="bold" fill="#222" text-anchor="middle">**</text>
<path d="M476 530.6L476 527L483 527L483 530.6" fill="none" stroke="#111" stroke-width="1.2" stroke-linejoin="miter" stroke-linecap="butt"/>
<text transform="translate(479.5 522.7)" font-size="5" font-weight="bold" fill="#222" text-anchor="middle">*</text>
<line x1="59.65" y1="712" x2="59.65" y2="710.3" stroke="#111" stroke-width="1.15"/>
<line x1="57.24" y1="710.6" x2="62.06" y2="710.6" stroke="#111" stroke-width="1.15"/>
<rect x="54.3" y="711.7" width="10.7" height="11.1" fill="#a50029"/>
<line x1="74.8" y1="710.7" x2="74.8" y2="708.8" stroke="#111" stroke-width="1.15"/>
<line x1="72.37" y1="709.1" x2="77.23" y2="709.1" stroke="#111" stroke-width="1.15"/>
<rect x="69.4" y="710.4" width="10.8" height="12.4" fill="#2e4a7c"/>
<line x1="98.55" y1="685.3" x2="98.55" y2="677.4" stroke="#111" stroke-width="1.15"/>
<line x1="96.05" y1="677.7" x2="101.05" y2="677.7" stroke="#111" stroke-width="1.15"/>
<rect x="93" y="685" width="11.1" height="37.8" fill="#a50029"/>
<line x1="112.8" y1="704.3" x2="112.8" y2="701" stroke="#111" stroke-width="1.15"/>
<line x1="110.37" y1="701.3" x2="115.23" y2="701.3" stroke="#111" stroke-width="1.15"/>
<rect x="107.4" y="704" width="10.8" height="18.8" fill="#2e4a7c"/>
<line x1="137.05" y1="671.3" x2="137.05" y2="663.4" stroke="#111" stroke-width="1.15"/>
<line x1="134.64" y1="663.7" x2="139.46" y2="663.7" stroke="#111" stroke-width="1.15"/>
<rect x="131.7" y="671" width="10.7" height="51.8" fill="#a50029"/>
<line x1="151.5" y1="701.6" x2="151.5" y2="698.2" stroke="#111" stroke-width="1.15"/>
<line x1="149.07" y1="698.5" x2="153.93" y2="698.5" stroke="#111" stroke-width="1.15"/>
<rect x="146.1" y="701.3" width="10.8" height="21.5" fill="#2e4a7c"/>
<line x1="48" y1="642.7" x2="48" y2="723.4" stroke="#111" stroke-width="1.5"/>
<line x1="44.4" y1="722.8" x2="48" y2="722.8" stroke="#111" stroke-width="1.15"/>
<text transform="translate(40.6 725.43) scale(0.880 1)" font-size="7.3" fill="#1a1a1a" text-anchor="end" stroke="#1a1a1a" stroke-width="0.22">0</text>
<line x1="44.4" y1="707.66" x2="48" y2="707.66" stroke="#111" stroke-width="1.15"/>
<text transform="translate(40.6 710.29) scale(0.880 1)" font-size="7.3" fill="#1a1a1a" text-anchor="end" stroke="#1a1a1a" stroke-width="0.22">2000</text>
<line x1="44.4" y1="692.52" x2="48" y2="692.52" stroke="#111" stroke-width="1.15"/>
<text transform="translate(40.6 695.15) scale(0.880 1)" font-size="7.3" fill="#1a1a1a" text-anchor="end" stroke="#1a1a1a" stroke-width="0.22">4000</text>
<line x1="44.4" y1="677.38" x2="48" y2="677.38" stroke="#111" stroke-width="1.15"/>
<text transform="translate(40.6 680.01) scale(0.880 1)" font-size="7.3" fill="#1a1a1a" text-anchor="end" stroke="#1a1a1a" stroke-width="0.22">6000</text>
<line x1="44.4" y1="662.24" x2="48" y2="662.24" stroke="#111" stroke-width="1.15"/>
<text transform="translate(40.6 664.87) scale(0.880 1)" font-size="7.3" fill="#1a1a1a" text-anchor="end" stroke="#1a1a1a" stroke-width="0.22">8000</text>
<line x1="44.4" y1="647.1" x2="48" y2="647.1" stroke="#111" stroke-width="1.15"/>
<text transform="translate(40.6 649.73) scale(0.880 1)" font-size="7.3" fill="#1a1a1a" text-anchor="end" stroke="#1a1a1a" stroke-width="0.22">10000</text>
<line x1="44" y1="722.8" x2="164.2" y2="722.8" stroke="#111" stroke-width="1.3"/>
<rect x="52" y="646.2" width="9.5" height="4.6" fill="#a50029"/>
<rect x="52" y="655.4" width="9.5" height="4.6" fill="#2e4a7c"/>
<text transform="translate(65.2 650.6) scale(0.952 1)" font-size="5.2" fill="#1a1a1a" stroke="#1a1a1a" stroke-width="0.13">WT</text>
<text transform="translate(65.2 659.8) scale(1.069 1)" font-size="5" font-style="italic" fill="#1a1a1a" stroke="#1a1a1a" stroke-width="0.13">Ptpn11</text>
<text transform="translate(81.89 658.1) scale(1.164 1)" font-size="2.6" font-style="italic" fill="#1a1a1a" stroke="#1a1a1a" stroke-width="0.13">D61G/+</text>
<text transform="translate(98.4 671.7)" font-size="5" font-weight="bold" fill="#222" text-anchor="middle">*</text>
<text transform="translate(136.8 659.3)" font-size="5" font-weight="bold" fill="#222" text-anchor="middle">***</text>
<path d="M138 653.5L138 648.9L152.1 648.9L152.1 653.5" fill="none" stroke="#111" stroke-width="1.2" stroke-linejoin="miter" stroke-linecap="butt"/>
<text transform="translate(144.6 645.4)" font-size="5.6" fill="#1a1a1a" text-anchor="middle" stroke="#1a1a1a" stroke-width="0.13">††</text>
<text transform="translate(66.5 732.8) scale(0.965 1)" font-size="6.6" fill="#1a1a1a" text-anchor="middle" stroke="#1a1a1a" stroke-width="0.13">Resting</text>
<text transform="translate(105.8 732.8)" font-size="6.6" fill="#1a1a1a" text-anchor="middle" stroke="#1a1a1a" stroke-width="0.13">0.5 µg/mL</text>
<text transform="translate(144.2 732.8) scale(0.984 1)" font-size="6.6" fill="#1a1a1a" text-anchor="middle" stroke="#1a1a1a" stroke-width="0.13">1 µg/mL</text>
<line x1="90.2" y1="735.7" x2="157.2" y2="735.7" stroke="#111" stroke-width="1.2"/>
<text transform="translate(123.8 743.8) scale(0.890 1)" font-size="6.6" fill="#1a1a1a" text-anchor="middle" stroke="#1a1a1a" stroke-width="0.13">CRP</text>
<text transform="translate(16.7 719.5) rotate(-90) scale(0.809 1)" font-size="9.2" fill="#1a1a1a" stroke="#1a1a1a" stroke-width="0.22">Activated αIIbβ3 (MFI)</text>
<rect x="198.2" y="654" width="51.6" height="50.8" fill="#020202"/>
<rect x="198.2" y="708.2" width="51.6" height="50.8" fill="#020202"/>
<rect x="252.9" y="654" width="51.2" height="50.8" fill="#020202"/>
<rect x="252.9" y="708.2" width="51.2" height="50.8" fill="#020202"/>
<clipPath id="e1"><rect x="198.2" y="654" width="51.6" height="50.8"/></clipPath>
<clipPath id="e2"><rect x="252.9" y="654" width="51.2" height="50.8"/></clipPath>
<clipPath id="e3"><rect x="198.2" y="708.2" width="51.6" height="50.8"/></clipPath>
<clipPath id="e4"><rect x="252.9" y="708.2" width="51.2" height="50.8"/></clipPath>
<g clip-path="url(#e1)">
<ellipse cx="214.3" cy="663.3" rx="1.7" ry="1.5" fill="#1cc81c" transform="rotate(0 214.3 663.3)"/>
<circle cx="214.3" cy="663.3" r="0.7" fill="#45f045"/>
<ellipse cx="224.2" cy="662.4" rx="1.5" ry="2.3" fill="#1cc81c" transform="rotate(20 224.2 662.4)"/>
<circle cx="224.2" cy="662.4" r="0.7" fill="#45f045"/>
<ellipse cx="224.5" cy="667.6" rx="1.4" ry="2.4" fill="#1cc81c" transform="rotate(35 224.5 667.6)"/>
<circle cx="224.5" cy="667.6" r="0.7" fill="#45f045"/>
<ellipse cx="223.1" cy="673.5" rx="1.3" ry="2.6" fill="#1cc81c" transform="rotate(20 223.1 673.5)"/>
<circle cx="223.1" cy="673.5" r="0.7" fill="#45f045"/>
<ellipse cx="233.9" cy="678.7" rx="1.4" ry="1.6" fill="#1cc81c" transform="rotate(0 233.9 678.7)"/>
<circle cx="233.9" cy="678.7" r="0.7" fill="#45f045"/>
<ellipse cx="231.5" cy="682.5" rx="1.5" ry="1.8" fill="#1cc81c" transform="rotate(30 231.5 682.5)"/>
<circle cx="231.5" cy="682.5" r="0.7" fill="#45f045"/>
<ellipse cx="215.9" cy="684.3" rx="1.1" ry="2.3" fill="#1cc81c" transform="rotate(30 215.9 684.3)"/>
<circle cx="215.9" cy="684.3" r="0.7" fill="#45f045"/>
<ellipse cx="246.4" cy="696.2" rx="1.5" ry="1.8" fill="#1cc81c" transform="rotate(-30 246.4 696.2)"/>
<circle cx="246.4" cy="696.2" r="0.7" fill="#45f045"/>
<ellipse cx="200.5" cy="702.4" rx="2.3" ry="2.9" fill="#1cc81c" transform="rotate(-20 200.5 702.4)"/>
<circle cx="200.5" cy="702.4" r="0.7" fill="#45f045"/>
</g><g clip-path="url(#e2)">
<ellipse cx="253.4" cy="671.2" rx="1.1" ry="2" fill="#1cc81c" transform="rotate(0 253.4 671.2)"/>
<circle cx="253.4" cy="671.2" r="0.7" fill="#45f045"/>
<ellipse cx="259.3" cy="673.5" rx="1.4" ry="1.3" fill="#1cc81c" transform="rotate(0 259.3 673.5)"/>
<circle cx="259.3" cy="673.5" r="0.7" fill="#45f045"/>
<ellipse cx="261.8" cy="674.6" rx="1.4" ry="1.3" fill="#1cc81c" transform="rotate(0 261.8 674.6)"/>
<circle cx="261.8" cy="674.6" r="0.7" fill="#45f045"/>
<ellipse cx="276.3" cy="678.9" rx="1.2" ry="2.1" fill="#1cc81c" transform="rotate(10 276.3 678.9)"/>
<circle cx="276.3" cy="678.9" r="0.7" fill="#45f045"/>
<ellipse cx="286.8" cy="668.5" rx="1.4" ry="1.3" fill="#1cc81c" transform="rotate(0 286.8 668.5)"/>
<circle cx="286.8" cy="668.5" r="0.7" fill="#45f045"/>
<ellipse cx="291.7" cy="668.9" rx="1.2" ry="1.1" fill="#1cc81c" transform="rotate(0 291.7 668.9)"/>
<circle cx="291.7" cy="668.9" r="0.7" fill="#45f045"/>
<ellipse cx="290.8" cy="674.8" rx="1.5" ry="1.4" fill="#1cc81c" transform="rotate(0 290.8 674.8)"/>
<circle cx="290.8" cy="674.8" r="0.7" fill="#45f045"/>
<ellipse cx="255.5" cy="687" rx="1.6" ry="2" fill="#1cc81c" transform="rotate(0 255.5 687)"/>
<circle cx="255.5" cy="687" r="0.7" fill="#45f045"/>
<ellipse cx="271.1" cy="702.4" rx="1.1" ry="1.9" fill="#1cc81c" transform="rotate(-15 271.1 702.4)"/>
<circle cx="271.1" cy="702.4" r="0.7" fill="#45f045"/>
<ellipse cx="304.3" cy="702.6" rx="1" ry="1.8" fill="#1cc81c" transform="rotate(0 304.3 702.6)"/>
<circle cx="304.3" cy="702.6" r="0.7" fill="#45f045"/>
</g><g clip-path="url(#e3)">
<ellipse cx="210.6" cy="712.4" rx="1.5" ry="1.9" fill="#1cc81c" transform="rotate(0 210.6 712.4)"/>
<circle cx="210.6" cy="712.4" r="0.7" fill="#45f045"/>
<ellipse cx="209.2" cy="716.4" rx="1.7" ry="2" fill="#159015" stroke="#1cc81c" stroke-width="1.5" transform="rotate(0 209.2 716.4)"/>
<ellipse cx="226.5" cy="714.8" rx="1.6" ry="1.6" fill="#1cc81c" transform="rotate(0 226.5 714.8)"/>
<circle cx="226.5" cy="714.8" r="0.7" fill="#45f045"/>
<ellipse cx="244.1" cy="721.6" rx="1" ry="2" fill="#1cc81c" transform="rotate(20 244.1 721.6)"/>
<circle cx="244.1" cy="721.6" r="0.7" fill="#45f045"/>
<ellipse cx="219.4" cy="729" rx="1.7" ry="2.6" fill="#159015" stroke="#1cc81c" stroke-width="1.5" transform="rotate(-10 219.4 729)"/>
<ellipse cx="220.6" cy="732.4" rx="1" ry="1.3" fill="#1cc81c" transform="rotate(0 220.6 732.4)"/>
<circle cx="220.6" cy="732.4" r="0.7" fill="#45f045"/>
<ellipse cx="210" cy="745.8" rx="2" ry="2.4" fill="#159015" transform="rotate(20 210 745.8)"/>
<ellipse cx="210.4" cy="745.2" rx="0.9" ry="1.4" fill="#1cc81c" transform="rotate(20 210.4 745.2)"/>
<ellipse cx="218.6" cy="748.3" rx="1.5" ry="3.6" fill="#1cc81c" transform="rotate(35 218.6 748.3)"/>
<circle cx="218.6" cy="748.3" r="0.7" fill="#45f045"/>
<ellipse cx="231" cy="743.6" rx="2.2" ry="3" fill="#159015" stroke="#1cc81c" stroke-width="1.6" transform="rotate(-20 231 743.6)"/>
<ellipse cx="233.4" cy="747.6" rx="0.9" ry="1.8" fill="#1cc81c" transform="rotate(-10 233.4 747.6)"/>
<circle cx="233.4" cy="747.6" r="0.7" fill="#45f045"/>
<ellipse cx="243.2" cy="746.2" rx="1.6" ry="1.5" fill="#1cc81c" transform="rotate(0 243.2 746.2)"/>
<circle cx="243.2" cy="746.2" r="0.7" fill="#45f045"/>
<ellipse cx="246" cy="746" rx="1.5" ry="1.3" fill="#1cc81c" transform="rotate(0 246 746)"/>
<circle cx="246" cy="746" r="0.7" fill="#45f045"/>
<ellipse cx="244.4" cy="744.2" rx="1.3" ry="1.3" fill="#1cc81c" transform="rotate(0 244.4 744.2)"/>
<circle cx="244.4" cy="744.2" r="0.7" fill="#45f045"/>
<ellipse cx="224.9" cy="756.6" rx="1.3" ry="1.5" fill="#1cc81c" transform="rotate(0 224.9 756.6)"/>
<circle cx="224.9" cy="756.6" r="0.7" fill="#45f045"/>
<ellipse cx="245" cy="759" rx="2.6" ry="1" fill="#1cc81c" transform="rotate(0 245 759)"/>
<circle cx="245" cy="759" r="0.7" fill="#45f045"/>
</g><g clip-path="url(#e4)">
<ellipse cx="260.7" cy="712.7" rx="1.7" ry="1.6" fill="#1cc81c" transform="rotate(0 260.7 712.7)"/>
<circle cx="260.7" cy="712.7" r="0.7" fill="#45f045"/>
<ellipse cx="273.1" cy="711.9" rx="1" ry="1.7" fill="#1cc81c" transform="rotate(30 273.1 711.9)"/>
<circle cx="273.1" cy="711.9" r="0.7" fill="#45f045"/>
<ellipse cx="291.7" cy="708.7" rx="1.5" ry="1.4" fill="#1cc81c" transform="rotate(0 291.7 708.7)"/>
<circle cx="291.7" cy="708.7" r="0.7" fill="#45f045"/>
<ellipse cx="292.2" cy="717.1" rx="1.3" ry="2.1" fill="#1cc81c" transform="rotate(-20 292.2 717.1)"/>
<circle cx="292.2" cy="717.1" r="0.7" fill="#45f045"/>
<ellipse cx="265.8" cy="729.2" rx="1.7" ry="2.2" fill="#1cc81c" transform="rotate(0 265.8 729.2)"/>
<circle cx="265.8" cy="729.2" r="0.7" fill="#45f045"/>
<ellipse cx="280.1" cy="729.9" rx="1.2" ry="2" fill="#1cc81c" transform="rotate(-30 280.1 729.9)"/>
<circle cx="280.1" cy="729.9" r="0.7" fill="#45f045"/>
<ellipse cx="290" cy="729.4" rx="1.1" ry="2.3" fill="#1cc81c" transform="rotate(-50 290 729.4)"/>
<circle cx="290" cy="729.4" r="0.7" fill="#45f045"/>
<ellipse cx="263.6" cy="736.9" rx="1.6" ry="1.5" fill="#1cc81c" transform="rotate(0 263.6 736.9)"/>
<circle cx="263.6" cy="736.9" r="0.7" fill="#45f045"/>
<ellipse cx="294.1" cy="750.7" rx="1.2" ry="2" fill="#1cc81c" transform="rotate(-60 294.1 750.7)"/>
<circle cx="294.1" cy="750.7" r="0.7" fill="#45f045"/>
<ellipse cx="287.9" cy="754.7" rx="1.1" ry="2.3" fill="#1cc81c" transform="rotate(70 287.9 754.7)"/>
<circle cx="287.9" cy="754.7" r="0.7" fill="#45f045"/>
<ellipse cx="304.6" cy="748" rx="0.8" ry="2.2" fill="#159015" transform="rotate(0 304.6 748)"/>
</g>
<rect x="238.6" y="701.5" width="7.9" height="1.35" fill="#e4e4e4"/>
<rect x="238.6" y="755.5" width="7.9" height="1.35" fill="#e4e4e4"/>
<rect x="293.9" y="701.5" width="7.9" height="1.35" fill="#e4e4e4"/>
<rect x="293.9" y="755.5" width="7.9" height="1.35" fill="#e4e4e4"/>
<text transform="translate(223.5 648.4) scale(0.945 1)" font-size="6.4" fill="#1a1a1a" text-anchor="middle" stroke="#1a1a1a" stroke-width="0.13">WT</text>
<text transform="translate(261.3 648.6) scale(1.062 1)" font-size="6.4" font-style="italic" fill="#1a1a1a" stroke="#1a1a1a" stroke-width="0.13">Ptpn11</text>
<text transform="translate(282.49 646.42) scale(1.160 1)" font-size="3.33" font-style="italic" fill="#1a1a1a" stroke="#1a1a1a" stroke-width="0.13">D61G/+</text>
<rect x="192.8" y="679.7" width="1.2" height="0.8" fill="#555"/>
<text transform="translate(182.2 735.7) scale(0.918 1)" font-size="6.5" fill="#1a1a1a" stroke="#1a1a1a" stroke-width="0.13">CRP</text>
<line x1="368.55" y1="677.8" x2="368.55" y2="676" stroke="#111" stroke-width="1.15"/>
<line x1="363.94" y1="676.3" x2="373.16" y2="676.3" stroke="#111" stroke-width="1.15"/>
<rect x="358.3" y="677.5" width="20.5" height="49.5" fill="#a50029"/>
<line x1="397.6" y1="680.9" x2="397.6" y2="679.2" stroke="#111" stroke-width="1.15"/>
<line x1="393.01" y1="679.5" x2="402.19" y2="679.5" stroke="#111" stroke-width="1.15"/>
<rect x="387.4" y="680.6" width="20.4" height="46.4" fill="#2e4a7c"/>
<line x1="426.55" y1="665.3" x2="426.55" y2="663.3" stroke="#111" stroke-width="1.15"/>
<line x1="422.03" y1="663.6" x2="431.07" y2="663.6" stroke="#111" stroke-width="1.15"/>
<rect x="416.5" y="665" width="20.1" height="62" fill="#a50029"/>
<line x1="455.25" y1="675.7" x2="455.25" y2="673.3" stroke="#111" stroke-width="1.15"/>
<line x1="450.73" y1="673.6" x2="459.77" y2="673.6" stroke="#111" stroke-width="1.15"/>
<rect x="445.2" y="675.4" width="20.1" height="51.6" fill="#2e4a7c"/>
<line x1="354.3" y1="647.7" x2="354.3" y2="727.6" stroke="#111" stroke-width="1.5"/>
<line x1="350.5" y1="727" x2="354.3" y2="727" stroke="#111" stroke-width="1.15"/>
<text transform="translate(346.6 729.63) scale(0.900 1)" font-size="7.3" fill="#1a1a1a" text-anchor="end" stroke="#1a1a1a" stroke-width="0.22">0</text>
<line x1="350.5" y1="701.5" x2="354.3" y2="701.5" stroke="#111" stroke-width="1.15"/>
<text transform="translate(346.6 704.13) scale(0.900 1)" font-size="7.3" fill="#1a1a1a" text-anchor="end" stroke="#1a1a1a" stroke-width="0.22">5</text>
<line x1="350.5" y1="676" x2="354.3" y2="676" stroke="#111" stroke-width="1.15"/>
<text transform="translate(346.6 678.63) scale(0.900 1)" font-size="7.3" fill="#1a1a1a" text-anchor="end" stroke="#1a1a1a" stroke-width="0.22">10</text>
<line x1="350.5" y1="650.5" x2="354.3" y2="650.5" stroke="#111" stroke-width="1.15"/>
<text transform="translate(346.6 653.13) scale(0.900 1)" font-size="7.3" fill="#1a1a1a" text-anchor="end" stroke="#1a1a1a" stroke-width="0.22">15</text>
<line x1="350.5" y1="727" x2="470.5" y2="727" stroke="#111" stroke-width="1.3"/>
<text transform="translate(422.6 660.9)" font-size="5" font-weight="bold" fill="#222" text-anchor="middle">***</text>
<path d="M426 652.4L426 648.8L454.6 648.8L454.6 652.4" fill="none" stroke="#111" stroke-width="1.2" stroke-linejoin="miter" stroke-linecap="butt"/>
<text transform="translate(440.4 645.4)" font-size="5.6" fill="#1a1a1a" text-anchor="middle" stroke="#1a1a1a" stroke-width="0.13">†††</text>
<text transform="translate(368.7 736.6) scale(0.955 1)" font-size="6.6" fill="#1a1a1a" text-anchor="middle" stroke="#1a1a1a" stroke-width="0.13">WT</text>
<text transform="translate(380.5 736.6) scale(1.042 1)" font-size="6.6" font-style="italic" fill="#1a1a1a" stroke="#1a1a1a" stroke-width="0.13">Ptpn11</text>
<text transform="translate(401.93 734.36) scale(1.138 1)" font-size="3.43" font-style="italic" fill="#1a1a1a" stroke="#1a1a1a" stroke-width="0.13">D61G/+</text>
<text transform="translate(425.8 736.6) scale(0.955 1)" font-size="6.6" fill="#1a1a1a" text-anchor="middle" stroke="#1a1a1a" stroke-width="0.13">WT</text>
<text transform="translate(438 736.6) scale(1.042 1)" font-size="6.6" font-style="italic" fill="#1a1a1a" stroke="#1a1a1a" stroke-width="0.13">Ptpn11</text>
<text transform="translate(459.43 734.36) scale(1.138 1)" font-size="3.43" font-style="italic" fill="#1a1a1a" stroke="#1a1a1a" stroke-width="0.13">D61G/+</text>
<line x1="418.6" y1="741.4" x2="467" y2="741.4" stroke="#111" stroke-width="1.2"/>
<text transform="translate(443.6 750.2) scale(0.904 1)" font-size="6.6" fill="#1a1a1a" text-anchor="middle" stroke="#1a1a1a" stroke-width="0.13">CRP</text>
<text transform="translate(333.2 718.5) rotate(-90) scale(0.796 1)" font-size="9.2" fill="#1a1a1a" stroke="#1a1a1a" stroke-width="0.22">Platelet area (µm²)</text>
<rect x="0" y="0" width="520" height="1.1" fill="#000"/>
<rect x="0" y="0" width="1.1" height="768" fill="#000"/>
<rect x="518.5" y="0" width="1.5" height="768" fill="#000"/>
<rect x="0" y="766.3" width="520" height="1.7" fill="#000"/>
</svg>
</body></html>
